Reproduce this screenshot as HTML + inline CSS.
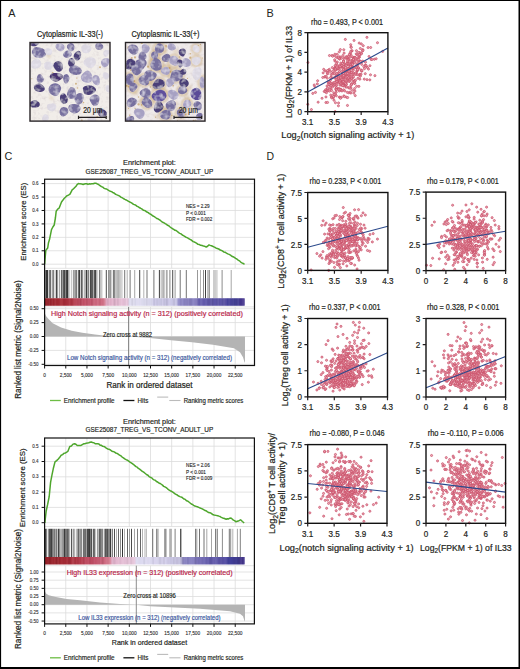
<!DOCTYPE html><html><head><meta charset="utf-8"><style>html,body{margin:0;padding:0;background:#fff;}svg{display:block;}text{font-family:"Liberation Sans", sans-serif;}</style></head><body>
<svg width="520" height="669" viewBox="0 0 520 669" fill="#231f20">
<defs><filter id="bl" x="-20%" y="-20%" width="140%" height="140%"><feGaussianBlur stdDeviation="1.1"/></filter><filter id="bl2" x="-20%" y="-20%" width="140%" height="140%"><feGaussianBlur stdDeviation="0.6"/></filter><filter id="ntex" x="-10%" y="-10%" width="120%" height="120%"><feTurbulence type="fractalNoise" baseFrequency="0.22" numOctaves="2" seed="4" result="n"/><feColorMatrix in="n" type="matrix" values="0 0 0 0 0.9  0 0 0 0 0.88  0 0 0 0 0.95  0 0 0 -1.4 0.78" result="w"/><feComposite in="w" in2="SourceGraphic" operator="in" result="wm"/><feMerge result="m"><feMergeNode in="SourceGraphic"/><feMergeNode in="wm"/></feMerge><feGaussianBlur stdDeviation="0.65"/></filter><filter id="bgtex" x="0" y="0" width="100%" height="100%"><feTurbulence type="fractalNoise" baseFrequency="0.3" numOctaves="2" seed="8" result="n"/><feColorMatrix in="n" type="matrix" values="0 0 0 0 0.66  0 0 0 0 0.6  0 0 0 0 0.62  0 0 0 -1.4 0.72"/><feGaussianBlur stdDeviation="0.6"/></filter><clipPath id="ci1"><rect x="30" y="42.5" width="80" height="78.5"/></clipPath><clipPath id="ci2"><rect x="125.5" y="42.5" width="79.5" height="78.5"/></clipPath></defs>
<rect x="0" y="0" width="520" height="669" fill="#fff"/>
<text x="8.3" y="17" font-size="11.8" textLength="7.24" lengthAdjust="spacingAndGlyphs" stroke="#231f20" stroke-width="0.22" stroke-opacity="0">A</text>
<text x="266.6" y="17.3" font-size="11.8" textLength="7.24" lengthAdjust="spacingAndGlyphs" stroke="#231f20" stroke-width="0.22" stroke-opacity="0">B</text>
<text x="4.5" y="160" font-size="11.8" textLength="7.84" lengthAdjust="spacingAndGlyphs" stroke="#231f20" stroke-width="0.22" stroke-opacity="0">C</text>
<text x="266.6" y="159.6" font-size="11.4" textLength="7.57" lengthAdjust="spacingAndGlyphs" stroke="#231f20" stroke-width="0.22" stroke-opacity="0">D</text>
<text x="37" y="36.5" font-size="8.3" textLength="66" lengthAdjust="spacingAndGlyphs" stroke="#231f20" stroke-width="0.21">Cytoplasmic IL-33(-)</text>
<text x="131.5" y="36.5" font-size="8.3" textLength="68" lengthAdjust="spacingAndGlyphs" stroke="#231f20" stroke-width="0.21">Cytoplasmic IL-33(+)</text>
<g clip-path="url(#ci1)">
<rect x="30" y="42.5" width="81" height="80" fill="#f1ede9"/>
<rect x="30" y="42.5" width="81" height="80" filter="url(#bgtex)"/>
<path d="M51.04 56.81Q50.62 57.96 49.36 58.23Q48.11 58.49 47.26 57.35Q46.41 56.21 46.21 55.16Q46.01 54.11 46.06 52.74Q46.11 51.37 47.46 51.29Q48.81 51.22 49.44 52.46Q50.08 53.7 50.78 54.68Q51.47 55.66 51.04 56.81Z" fill="#c4a068" opacity="0.24" filter="url(#bl)"/>
<path d="M96 124.65Q95.57 125.63 94.37 125.78Q93.17 125.94 92.47 124.65Q91.77 123.37 91.86 122.07Q91.96 120.77 92.86 120.24Q93.76 119.71 94.75 119.77Q95.74 119.83 96.99 120.61Q98.25 121.39 97.34 122.53Q96.42 123.68 96 124.65Z" fill="#c4a068" opacity="0.24" filter="url(#bl)"/>
<path d="M53.89 98.32Q54.47 99.24 53.56 99.74Q52.65 100.23 51.62 100.08Q50.6 99.93 49.97 99.2Q49.35 98.47 49.19 97.6Q49.04 96.73 49.66 96Q50.29 95.26 51.25 95.85Q52.21 96.43 52.76 96.92Q53.31 97.41 53.89 98.32Z" fill="#c4a068" opacity="0.24" filter="url(#bl)"/>
<g filter="url(#bl)">
</g>
<g fill="#b8883c" opacity="0.55" filter="url(#bl2)"><circle cx="84.43" cy="76.07" r="0.69"/><circle cx="76.84" cy="78.07" r="0.68"/><circle cx="93.55" cy="97.37" r="0.65"/><circle cx="75.95" cy="83.73" r="1.03"/><circle cx="88.36" cy="65.1" r="1.09"/><circle cx="39.45" cy="75.32" r="0.95"/><circle cx="42.16" cy="80.88" r="0.52"/><circle cx="83.46" cy="102.52" r="0.84"/><circle cx="100.04" cy="67.13" r="0.92"/><circle cx="77.55" cy="88.02" r="0.77"/><circle cx="97.2" cy="116.66" r="0.78"/><circle cx="83.13" cy="47.26" r="0.92"/><circle cx="81.77" cy="120.46" r="0.99"/><circle cx="52.77" cy="72.78" r="0.9"/><circle cx="31.81" cy="78.74" r="0.6"/></g>
<g filter="url(#ntex)">
<path d="M37.85 41.74Q38.59 42.62 38.59 43.81Q38.59 44.99 36.55 45.78Q34.51 46.56 32.92 46.25Q31.33 45.94 29.68 45.51Q28.04 45.09 28.79 43.84Q29.54 42.59 31.36 41.71Q33.17 40.84 35.14 40.85Q37.11 40.87 37.85 41.74Z" fill="#4b4078"/>
<path d="M45.8 51.67Q46.89 54.37 44.61 56.14Q42.32 57.91 39.75 58.07Q37.19 58.23 35.04 56.94Q32.89 55.65 32.15 53.29Q31.41 50.93 32.92 48.9Q34.44 46.86 37.02 47.1Q39.61 47.33 42.15 48.15Q44.7 48.97 45.8 51.67Z" fill="#776f9f"/>
<path d="M63.82 45.05Q64.85 46.42 64.44 48.16Q64.04 49.9 62.35 50.85Q60.67 51.8 59.1 50.98Q57.53 50.16 56.51 48.96Q55.49 47.76 55.51 45.9Q55.53 44.04 57.51 43.78Q59.48 43.52 61.14 43.6Q62.79 43.69 63.82 45.05Z" fill="#a7a1c3"/>
<path d="M74.43 46.29Q74.56 47.76 74.14 49.35Q73.72 50.93 71.86 51.29Q70 51.64 68.86 50.37Q67.72 49.1 67.11 47.75Q66.49 46.39 67.34 45.08Q68.18 43.77 69.85 43.24Q71.51 42.72 72.9 43.77Q74.29 44.82 74.43 46.29Z" fill="#776f9f"/>
<path d="M90.21 46.09Q91.92 47.07 91.47 49.04Q91.02 51.01 89.26 52.28Q87.5 53.54 85.35 53.34Q83.19 53.14 82.27 51.56Q81.35 49.97 81.16 48.06Q80.96 46.14 82.88 44.93Q84.8 43.72 86.65 44.41Q88.49 45.11 90.21 46.09Z" fill="#dcd8e2"/>
<path d="M102.32 44.49Q103.35 45.4 103.3 46.91Q103.25 48.42 101.65 49.16Q100.05 49.91 98.39 49.8Q96.73 49.69 95.99 48.48Q95.25 47.26 95.23 45.77Q95.21 44.27 96.73 43.18Q98.25 42.09 99.78 42.84Q101.3 43.58 102.32 44.49Z" fill="#776f9f"/>
<path d="M71.73 53.78Q72.03 55.24 70.94 56.23Q69.85 57.21 68.22 57.61Q66.59 58 64.71 57.14Q62.82 56.28 63.14 54.57Q63.45 52.86 64.52 51.9Q65.59 50.94 67.19 50.51Q68.79 50.08 70.12 51.19Q71.44 52.31 71.73 53.78Z" fill="#776f9f"/>
<path d="M81.16 54.17Q80.98 56.12 80.45 57.86Q79.91 59.61 78.36 60.28Q76.81 60.94 75.41 59.95Q74.01 58.95 73.69 56.91Q73.37 54.87 74.57 53.48Q75.78 52.09 77.17 51.18Q78.57 50.27 79.96 51.25Q81.35 52.23 81.16 54.17Z" fill="#4b4078"/>
<path d="M41.04 62.06Q41.82 64.1 40.76 65.88Q39.69 67.65 37.9 68.17Q36.1 68.69 33.81 68.63Q31.52 68.57 31.01 66.28Q30.5 63.98 31.52 62.16Q32.54 60.35 34.38 59.29Q36.22 58.22 38.23 59.12Q40.25 60.03 41.04 62.06Z" fill="#dcd8e2"/>
<path d="M52.35 63.87Q53.71 65.15 52.84 66.85Q51.96 68.55 50.39 69.27Q48.82 70 46.98 69.75Q45.13 69.49 44.45 67.73Q43.78 65.96 44.18 64.12Q44.58 62.28 46.34 61.7Q48.1 61.12 49.55 61.86Q50.99 62.6 52.35 63.87Z" fill="#dcd8e2"/>
<path d="M62.7 64.96Q63.04 66.79 62.63 68.85Q62.22 70.9 60.06 71.52Q57.9 72.14 56.45 70.67Q54.99 69.2 53.85 67.5Q52.71 65.79 53.72 63.8Q54.73 61.82 56.87 61.27Q59 60.72 60.69 61.93Q62.37 63.13 62.7 64.96Z" fill="#4b4078"/>
<path d="M74.85 61.98Q75 63.45 74.24 64.86Q73.47 66.26 71.87 66.68Q70.28 67.09 69.1 65.93Q67.93 64.77 68.06 63.18Q68.2 61.58 68.85 60.05Q69.5 58.52 71.18 58.09Q72.86 57.67 73.78 59.09Q74.7 60.51 74.85 61.98Z" fill="#4b4078"/>
<path d="M80.86 68.79Q82.5 70.4 81.45 72.51Q80.39 74.61 77.81 74.85Q75.24 75.09 73.02 74.44Q70.8 73.79 69.46 71.88Q68.12 69.98 69.38 67.99Q70.64 66 73.09 65.52Q75.53 65.05 77.38 66.12Q79.22 67.18 80.86 68.79Z" fill="#776f9f"/>
<path d="M95.45 59.52Q96.66 61.67 95.66 63.79Q94.65 65.91 92.72 67.34Q90.78 68.77 88.63 67.77Q86.47 66.78 84.61 65.09Q82.74 63.41 83.74 61.03Q84.75 58.65 87.04 57.88Q89.33 57.11 91.78 57.24Q94.23 57.37 95.45 59.52Z" fill="#dcd8e2"/>
<path d="M109.9 61.29Q109.44 63.54 108.35 64.9Q107.27 66.27 105.64 67.06Q104.02 67.85 102.75 66.53Q101.48 65.2 101.04 63.24Q100.59 61.27 101.99 59.89Q103.39 58.51 104.99 58.14Q106.6 57.76 108.49 58.4Q110.37 59.04 109.9 61.29Z" fill="#a7a1c3"/>
<path d="M62.75 75.35Q63.81 77.38 61.93 78.79Q60.05 80.2 58.02 81.16Q55.98 82.13 53.76 81.2Q51.55 80.28 50.25 78.57Q48.95 76.87 50.09 75.05Q51.23 73.23 53.76 73.11Q56.29 72.99 58.99 73.16Q61.68 73.33 62.75 75.35Z" fill="#47336f"/>
<path d="M69.35 77.52Q69.6 79.2 68.88 80.76Q68.16 82.33 66.74 83.17Q65.31 84 64.43 82.57Q63.54 81.13 63.22 79.64Q62.9 78.14 63.38 76.29Q63.85 74.44 65.38 74.14Q66.91 73.84 68.01 74.85Q69.11 75.85 69.35 77.52Z" fill="#776f9f"/>
<path d="M43.49 78.15Q44.3 79.64 43.23 81.23Q42.15 82.82 40.56 82.95Q38.98 83.09 37.95 82.03Q36.91 80.97 36.79 79.43Q36.67 77.89 37.27 76.2Q37.86 74.5 39.44 74.34Q41.03 74.19 41.85 75.42Q42.67 76.65 43.49 78.15Z" fill="#776f9f"/>
<path d="M92.11 75.6Q92.59 77.69 92.07 80.08Q91.55 82.48 88.94 82.73Q86.32 82.98 84.01 82.06Q81.69 81.14 81.01 78.79Q80.33 76.44 81.81 74.67Q83.29 72.91 85.49 71.25Q87.69 69.6 89.66 71.55Q91.63 73.5 92.11 75.6Z" fill="#a7a1c3"/>
<path d="M99.49 78.29Q100.04 80.16 99.91 82.56Q99.79 84.96 97.99 85.25Q96.19 85.55 94.94 84.54Q93.68 83.54 92.7 81.88Q91.71 80.23 92.31 78.08Q92.92 75.94 94.51 75.31Q96.11 74.67 97.53 75.54Q98.94 76.41 99.49 78.29Z" fill="#a7a1c3"/>
<path d="M109.06 74.36Q110.04 75.44 109.34 76.78Q108.63 78.12 107.47 79.03Q106.31 79.94 105.06 79.15Q103.8 78.36 103.16 77.03Q102.52 75.71 102.87 74.14Q103.23 72.58 104.63 72.3Q106.03 72.02 107.06 72.65Q108.09 73.29 109.06 74.36Z" fill="#dcd8e2"/>
<path d="M44.34 87.21Q45.74 88.99 44.12 90.57Q42.5 92.16 40.53 91.99Q38.56 91.83 36.65 91.34Q34.74 90.85 34.05 88.87Q33.36 86.89 34.72 85.33Q36.08 83.76 38.07 83.38Q40.06 83 41.5 84.22Q42.94 85.43 44.34 87.21Z" fill="#4b4078"/>
<path d="M60.09 85.51Q61.64 87.51 60.85 89.8Q60.06 92.08 58.34 94.43Q56.62 96.79 53.87 95.74Q51.12 94.69 49.67 92.92Q48.22 91.16 48.5 88.87Q48.77 86.58 50.81 84.74Q52.84 82.91 55.69 83.21Q58.54 83.51 60.09 85.51Z" fill="#776f9f"/>
<path d="M75.58 90.51Q76.15 92.82 75.93 95.1Q75.7 97.38 73.9 98.25Q72.1 99.11 70.06 98.77Q68.02 98.44 67.25 96.1Q66.49 93.76 67.44 91.96Q68.4 90.16 69.64 88.33Q70.88 86.5 72.94 87.35Q75 88.2 75.58 90.51Z" fill="#776f9f"/>
<path d="M95.27 87.88Q96.62 89.32 95.67 91.05Q94.72 92.77 92.28 94.07Q89.84 95.36 86.93 94.85Q84.03 94.35 83.7 92.61Q83.38 90.88 82.92 88.94Q82.46 87.01 85.53 85.89Q88.59 84.78 91.26 85.61Q93.93 86.44 95.27 87.88Z" fill="#4b4078"/>
<path d="M67.31 97.09Q68.31 98.59 67.85 100.68Q67.39 102.78 65.66 103.48Q63.93 104.18 62.38 103.28Q60.83 102.39 60.31 100.55Q59.8 98.72 60.03 96.6Q60.26 94.48 62.01 93.38Q63.75 92.28 65.03 93.94Q66.31 95.6 67.31 97.09Z" fill="#4b4078"/>
<path d="M83.75 97.22Q83.49 99.52 82.64 101.38Q81.79 103.24 79.84 104.29Q77.88 105.34 76.56 103.55Q75.24 101.77 74.59 99.68Q73.94 97.59 75.27 95.77Q76.61 93.95 78.53 93.29Q80.45 92.62 82.23 93.77Q84.01 94.92 83.75 97.22Z" fill="#776f9f"/>
<path d="M99.48 98.95Q99.13 101.13 98.53 103.19Q97.93 105.25 95.63 105.82Q93.33 106.39 92.08 104.53Q90.84 102.67 89.96 100.86Q89.07 99.04 90.27 97.21Q91.46 95.39 93.68 94.68Q95.91 93.97 97.87 95.37Q99.83 96.77 99.48 98.95Z" fill="#776f9f"/>
<path d="M39.43 102.81Q40.66 104.21 39.6 105.74Q38.53 107.28 36.52 107.43Q34.52 107.59 32.42 107.39Q30.33 107.19 29.27 105.53Q28.21 103.86 29.67 102.51Q31.14 101.16 32.94 100.41Q34.74 99.66 36.47 100.53Q38.19 101.4 39.43 102.81Z" fill="#4b4078"/>
<path d="M79.78 106.07Q81.13 107.73 80.31 109.7Q79.49 111.67 77.42 112.73Q75.35 113.79 73.17 113.23Q70.98 112.67 69.59 111.12Q68.19 109.57 68.35 107.23Q68.51 104.88 71.22 104.37Q73.93 103.86 76.18 104.14Q78.44 104.42 79.78 106.07Z" fill="#776f9f"/>
<path d="M68.34 110.65Q68.55 112.82 67.17 114.21Q65.8 115.6 64.22 116.27Q62.64 116.94 61.23 115.86Q59.81 114.79 59.55 112.73Q59.29 110.68 60.38 108.85Q61.47 107.02 63.21 106.98Q64.95 106.94 66.55 107.71Q68.14 108.48 68.34 110.65Z" fill="#776f9f"/>
<path d="M106.7 112.5Q107.43 114.24 106.26 115.8Q105.1 117.36 103.24 117.74Q101.39 118.11 100.16 116.84Q98.93 115.57 97.98 113.92Q97.03 112.27 98.17 110.57Q99.31 108.87 101.18 109.08Q103.06 109.3 104.52 110.03Q105.98 110.77 106.7 112.5Z" fill="#4b4078"/>
<path d="M55.3 104.36Q56.88 105.57 56.23 107.46Q55.58 109.34 54.2 110.46Q52.83 111.58 51.11 111.3Q49.38 111.02 48.14 109.74Q46.89 108.46 46.88 106.5Q46.86 104.53 48.69 104.07Q50.53 103.61 52.12 103.38Q53.72 103.15 55.3 104.36Z" fill="#dcd8e2"/>
<path d="M109.21 52.02Q109.03 53.7 108.41 54.86Q107.79 56.02 106.67 56.67Q105.55 57.32 104.58 56.45Q103.61 55.58 103.33 54.19Q103.05 52.8 103.7 51.52Q104.35 50.24 105.51 50.07Q106.66 49.89 108.02 50.12Q109.38 50.34 109.21 52.02Z" fill="#dcd8e2"/>
<path d="M96.19 119.28Q96.41 120.85 95.02 121.57Q93.63 122.3 92.04 122.71Q90.45 123.12 88.83 122.11Q87.21 121.11 87.42 119.69Q87.64 118.28 88.46 117.31Q89.29 116.33 90.86 116.35Q92.43 116.37 94.2 117.04Q95.97 117.7 96.19 119.28Z" fill="#dcd8e2"/>
<path d="M48.45 116.22Q49 117.46 48.7 118.75Q48.41 120.05 47.11 120.72Q45.8 121.4 44.13 121.32Q42.46 121.25 42.14 119.78Q41.81 118.31 42.29 117.16Q42.77 116.02 43.85 114.96Q44.92 113.91 46.41 114.45Q47.9 114.99 48.45 116.22Z" fill="#dcd8e2"/>
<path d="M110.8 86.98Q111.88 87.86 111.53 89.31Q111.19 90.76 110.29 91.67Q109.38 92.59 108.09 92.32Q106.8 92.04 106.17 90.69Q105.53 89.34 105.42 87.78Q105.31 86.22 106.42 85.43Q107.52 84.63 108.62 85.36Q109.72 86.09 110.8 86.98Z" fill="#dcd8e2"/>
<path d="M52.2 51.3Q52.48 52.83 51.52 54.12Q50.56 55.41 49.04 55.3Q47.51 55.19 46.37 54.38Q45.23 53.57 44.68 52.06Q44.13 50.55 45.21 49.24Q46.29 47.93 47.83 48.2Q49.36 48.47 50.63 49.12Q51.91 49.76 52.2 51.3Z" fill="#dcd8e2"/>
</g>
</g>
<rect x="30" y="42.5" width="80" height="78.6" fill="none" stroke="#2a2628" stroke-width="1.4"/>
<g clip-path="url(#ci2)">
<rect x="125.5" y="42.5" width="81" height="80" fill="#efeaea"/>
<rect x="125.5" y="42.5" width="81" height="80" filter="url(#bgtex)"/>
<path d="M148.7 63.76Q147.34 63.04 147.66 61.54Q147.97 60.04 149.16 59.15Q150.36 58.27 152.06 57.31Q153.76 56.35 154.67 57.71Q155.59 59.07 155.02 60.37Q154.44 61.66 154.08 63.45Q153.71 65.24 151.88 64.86Q150.05 64.47 148.7 63.76Z" fill="#c4a068" opacity="0.24" filter="url(#bl)"/>
<path d="M167.41 71.32Q166.22 71.56 165.36 70.51Q164.51 69.46 165.37 68.1Q166.23 66.75 167.38 65.98Q168.53 65.2 169.38 65.91Q170.23 66.61 171.47 67.22Q172.71 67.84 172.18 69.5Q171.66 71.15 170.13 71.11Q168.61 71.08 167.41 71.32Z" fill="#c4a068" opacity="0.24" filter="url(#bl)"/>
<path d="M154.03 86.44Q153.38 88.36 151.69 87.33Q150.01 86.31 149.34 84.85Q148.67 83.38 148.24 81.66Q147.82 79.94 149.04 78.87Q150.27 77.8 151.72 78.38Q153.18 78.97 154.03 80.26Q154.87 81.55 154.78 83.04Q154.68 84.52 154.03 86.44Z" fill="#c4a068" opacity="0.24" filter="url(#bl)"/>
<path d="M163.91 95.56Q163.19 94.35 162.39 92.59Q161.59 90.83 163.76 90.05Q165.92 89.28 167.53 89.74Q169.14 90.21 170.05 91.19Q170.97 92.17 171.07 93.65Q171.17 95.12 169.71 96.35Q168.24 97.57 166.44 97.17Q164.63 96.77 163.91 95.56Z" fill="#c4a068" opacity="0.24" filter="url(#bl)"/>
<path d="M131.46 81.33Q130.2 81.71 129.42 80.65Q128.63 79.59 129.23 78.39Q129.83 77.19 130.12 75.75Q130.42 74.31 131.82 74.02Q133.23 73.74 133.97 74.95Q134.71 76.16 134.47 77.51Q134.23 78.86 133.47 79.91Q132.71 80.95 131.46 81.33Z" fill="#c4a068" opacity="0.24" filter="url(#bl)"/>
<path d="M167.72 113.92Q166.62 115.09 165.25 114.67Q163.89 114.26 161.96 114.55Q160.03 114.84 159.61 112.78Q159.18 110.72 160.48 109.85Q161.79 108.98 162.94 108.01Q164.09 107.05 165.67 108.09Q167.26 109.12 168.05 110.94Q168.83 112.76 167.72 113.92Z" fill="#c4a068" opacity="0.24" filter="url(#bl)"/>
<path d="M179.42 52.22Q180.07 53.42 178.93 54.13Q177.8 54.83 176.64 54.17Q175.48 53.51 174.07 53.13Q172.66 52.75 172.43 51.34Q172.21 49.92 173.41 49.14Q174.61 48.36 176.02 48.73Q177.44 49.11 178.1 50.07Q178.77 51.02 179.42 52.22Z" fill="#c4a068" opacity="0.24" filter="url(#bl)"/>
<path d="M188.04 101.06Q187.03 101.83 186.19 100.87Q185.34 99.92 185.03 98.9Q184.71 97.88 184.74 96.51Q184.76 95.15 185.9 94.79Q187.04 94.44 188.15 94.84Q189.25 95.24 189.13 96.57Q189 97.89 189.02 99.09Q189.04 100.3 188.04 101.06Z" fill="#c4a068" opacity="0.24" filter="url(#bl)"/>
<path d="M146.23 102.65Q145.84 104.12 144.32 103.94Q142.79 103.76 141.68 103.37Q140.56 102.98 139.9 101.89Q139.23 100.8 139.31 99.48Q139.39 98.16 140.66 97.69Q141.93 97.23 142.95 98.25Q143.98 99.28 145.3 100.23Q146.62 101.17 146.23 102.65Z" fill="#c4a068" opacity="0.24" filter="url(#bl)"/>
<path d="M138.09 92.07Q138.56 93.27 137.99 94.39Q137.42 95.51 136.07 95.33Q134.73 95.14 133.47 95.25Q132.22 95.36 131.68 94.32Q131.15 93.27 132.09 92.56Q133.03 91.85 133.88 91.07Q134.73 90.29 136.17 90.58Q137.61 90.87 138.09 92.07Z" fill="#c4a068" opacity="0.24" filter="url(#bl)"/>
<path d="M148.07 48.23Q147.23 47.57 146.63 46.94Q146.02 46.32 145.91 45Q145.79 43.69 147.04 43.22Q148.29 42.74 149.49 42.6Q150.68 42.46 150.83 43.67Q150.99 44.88 151.04 46.08Q151.1 47.28 150 48.09Q148.91 48.9 148.07 48.23Z" fill="#c4a068" opacity="0.24" filter="url(#bl)"/>
<path d="M167.62 52.39Q166.7 52.86 166.24 53.5Q165.79 54.15 164.69 53.96Q163.59 53.76 163.34 52.67Q163.08 51.58 163.36 50.78Q163.64 49.98 164.44 49.78Q165.24 49.59 166.11 49.87Q166.99 50.15 167.76 51.03Q168.54 51.92 167.62 52.39Z" fill="#c4a068" opacity="0.24" filter="url(#bl)"/>
<path d="M140.52 79.8Q139.78 80.14 138.87 80.25Q137.97 80.36 137.45 79.35Q136.94 78.34 137.34 77.46Q137.74 76.57 138.25 75.68Q138.76 74.8 139.73 75.12Q140.7 75.44 140.94 76.49Q141.18 77.53 141.22 78.5Q141.27 79.46 140.52 79.8Z" fill="#c4a068" opacity="0.24" filter="url(#bl)"/>
<path d="M189.64 90.23Q188.46 90.51 188.53 89.15Q188.61 87.8 188.55 87.06Q188.5 86.33 188.94 85.22Q189.38 84.12 190.3 84.48Q191.22 84.84 191.84 85.45Q192.46 86.06 192.13 87Q191.81 87.94 191.31 88.94Q190.82 89.95 189.64 90.23Z" fill="#c4a068" opacity="0.24" filter="url(#bl)"/>
<path d="M175.26 107.07Q174.1 106.91 173.93 105.77Q173.76 104.63 174.04 103.6Q174.32 102.57 175.2 101.43Q176.09 100.29 177.11 100.93Q178.13 101.57 178.44 102.52Q178.74 103.46 178.81 104.74Q178.88 106.01 177.65 106.62Q176.42 107.24 175.26 107.07Z" fill="#c4a068" opacity="0.24" filter="url(#bl)"/>
<path d="M159 117.22Q159.52 118.39 158.2 118.31Q156.88 118.24 156.01 118.19Q155.14 118.14 154.64 117.39Q154.13 116.63 153.74 115.57Q153.35 114.51 154.39 114.13Q155.43 113.76 156.19 114.51Q156.96 115.26 157.72 115.65Q158.48 116.05 159 117.22Z" fill="#c4a068" opacity="0.24" filter="url(#bl)"/>
<path d="M130.09 108.85Q129.57 109.52 128.53 110.05Q127.49 110.58 127.03 109.26Q126.56 107.95 126.7 107.07Q126.84 106.2 127.12 105.22Q127.39 104.24 128.39 104.38Q129.39 104.52 130.14 105.34Q130.88 106.17 130.74 107.17Q130.6 108.18 130.09 108.85Z" fill="#c4a068" opacity="0.24" filter="url(#bl)"/>
<path d="M173.5 82.92Q172.95 83.75 172.08 83.17Q171.22 82.6 170.49 82.22Q169.77 81.84 169.21 80.69Q168.65 79.54 169.64 79.14Q170.62 78.74 171.52 78.42Q172.41 78.11 172.78 79.19Q173.14 80.27 173.6 81.18Q174.06 82.1 173.5 82.92Z" fill="#c4a068" opacity="0.24" filter="url(#bl)"/>
<path d="M136.85 64.07Q136.27 63.74 136.12 63.1Q135.97 62.47 136.07 61.46Q136.16 60.45 137.14 60.7Q138.12 60.95 138.6 61.21Q139.08 61.48 139.81 62.01Q140.54 62.55 139.68 63.16Q138.83 63.77 138.13 64.08Q137.43 64.39 136.85 64.07Z" fill="#c4a068" opacity="0.24" filter="url(#bl)"/>
<g filter="url(#bl)">
<ellipse cx="159.35" cy="48.65" rx="6.16" ry="5.79" fill="none" stroke="#bf9a58" stroke-width="1.6" opacity="0.6"/>
<ellipse cx="196.27" cy="48.65" rx="4.3" ry="4.67" fill="none" stroke="#bf9a58" stroke-width="1.6" opacity="0.6"/>
<ellipse cx="154.73" cy="55.58" rx="4.67" ry="4.67" fill="none" stroke="#bf9a58" stroke-width="1.6" opacity="0.6"/>
<ellipse cx="156.27" cy="64.81" rx="7.08" ry="6.9" fill="none" stroke="#bf9a58" stroke-width="1.6" opacity="0.6"/>
<ellipse cx="173.96" cy="60.96" rx="6.16" ry="6.16" fill="none" stroke="#bf9a58" stroke-width="1.6" opacity="0.6"/>
<ellipse cx="196.27" cy="60.96" rx="5.23" ry="5.23" fill="none" stroke="#bf9a58" stroke-width="1.6" opacity="0.6"/>
<ellipse cx="165.5" cy="70.96" rx="5.23" ry="5.23" fill="none" stroke="#bf9a58" stroke-width="1.6" opacity="0.6"/>
<ellipse cx="176.27" cy="75.58" rx="7.64" ry="6.9" fill="none" stroke="#bf9a58" stroke-width="1.6" opacity="0.6"/>
<ellipse cx="129.35" cy="79.42" rx="6.16" ry="6.53" fill="none" stroke="#bf9a58" stroke-width="1.6" opacity="0.6"/>
<ellipse cx="143.96" cy="80.19" rx="6.16" ry="6.16" fill="none" stroke="#bf9a58" stroke-width="1.6" opacity="0.6"/>
<ellipse cx="158.58" cy="84.04" rx="7.08" ry="6.16" fill="none" stroke="#bf9a58" stroke-width="1.6" opacity="0.6"/>
<ellipse cx="133.19" cy="87.12" rx="5.23" ry="5.23" fill="none" stroke="#bf9a58" stroke-width="1.6" opacity="0.6"/>
<ellipse cx="159.35" cy="95.58" rx="8.01" ry="7.64" fill="none" stroke="#bf9a58" stroke-width="1.6" opacity="0.6"/>
<ellipse cx="182.42" cy="90.19" rx="5.23" ry="5.23" fill="none" stroke="#bf9a58" stroke-width="1.6" opacity="0.6"/>
<ellipse cx="147.04" cy="102.5" rx="6.16" ry="6.16" fill="none" stroke="#bf9a58" stroke-width="1.6" opacity="0.6"/>
<ellipse cx="187.04" cy="104.04" rx="5.23" ry="5.23" fill="none" stroke="#bf9a58" stroke-width="1.6" opacity="0.6"/>
<ellipse cx="165.5" cy="114.81" rx="6.16" ry="6.16" fill="none" stroke="#bf9a58" stroke-width="1.6" opacity="0.6"/>
<ellipse cx="180.88" cy="113.27" rx="5.23" ry="5.23" fill="none" stroke="#bf9a58" stroke-width="1.6" opacity="0.6"/>
<ellipse cx="202.42" cy="82.5" rx="3.93" ry="6.16" fill="none" stroke="#bf9a58" stroke-width="1.6" opacity="0.6"/>
</g>
<g fill="#b8883c" opacity="0.55" filter="url(#bl2)"><circle cx="190.04" cy="102.68" r="0.52"/><circle cx="128.27" cy="47.41" r="1.05"/><circle cx="145.93" cy="101.16" r="1.04"/><circle cx="152.46" cy="63.88" r="1.07"/><circle cx="174.55" cy="63.08" r="0.93"/><circle cx="150.66" cy="64.14" r="0.5"/><circle cx="185.57" cy="114.44" r="0.88"/><circle cx="200.49" cy="44.4" r="0.64"/><circle cx="163.28" cy="117.61" r="1.07"/><circle cx="156.23" cy="62.21" r="0.76"/><circle cx="164.73" cy="115.36" r="0.61"/><circle cx="189.3" cy="100.47" r="0.99"/><circle cx="186.94" cy="90.17" r="0.7"/><circle cx="150.9" cy="70.91" r="0.97"/><circle cx="131.78" cy="57.99" r="0.95"/><circle cx="145.16" cy="47.58" r="0.52"/><circle cx="169.43" cy="68.07" r="1.09"/><circle cx="195.74" cy="120.04" r="0.66"/><circle cx="132.18" cy="50.07" r="0.8"/><circle cx="181.93" cy="77.59" r="0.64"/><circle cx="158.64" cy="91.19" r="0.9"/><circle cx="184.96" cy="108.99" r="0.9"/><circle cx="135.13" cy="108.51" r="0.68"/><circle cx="170.57" cy="71.78" r="0.94"/><circle cx="141.34" cy="61.92" r="0.65"/><circle cx="137.69" cy="111.91" r="0.85"/><circle cx="151.44" cy="73.59" r="1.1"/><circle cx="165.83" cy="60.66" r="0.99"/><circle cx="177.44" cy="120.29" r="0.56"/><circle cx="163.24" cy="106.8" r="1"/><circle cx="198.19" cy="45.67" r="0.68"/><circle cx="134.98" cy="57.38" r="1.08"/><circle cx="171.86" cy="115.52" r="0.72"/><circle cx="194.36" cy="77.76" r="0.66"/><circle cx="187.33" cy="116.74" r="0.56"/><circle cx="172.89" cy="91.17" r="0.63"/><circle cx="154.81" cy="53.6" r="0.62"/><circle cx="145.77" cy="89.55" r="0.89"/><circle cx="141.67" cy="43.39" r="0.7"/><circle cx="179.43" cy="57.03" r="0.69"/><circle cx="141.67" cy="104.93" r="0.83"/><circle cx="130.53" cy="50.46" r="0.74"/><circle cx="169.24" cy="92.68" r="0.55"/><circle cx="138.51" cy="97.09" r="0.75"/><circle cx="148.02" cy="66.65" r="1.07"/><circle cx="150.33" cy="86.97" r="0.71"/><circle cx="158.61" cy="110.34" r="1.1"/><circle cx="154.42" cy="57.98" r="0.94"/><circle cx="141.69" cy="42.96" r="1.04"/><circle cx="159.19" cy="106.9" r="0.74"/><circle cx="195.69" cy="78.68" r="0.6"/><circle cx="126.68" cy="85.8" r="0.88"/><circle cx="197.83" cy="49.49" r="0.87"/><circle cx="154.98" cy="82.1" r="0.59"/><circle cx="148.02" cy="83.41" r="1.06"/><circle cx="134.15" cy="81.01" r="0.98"/><circle cx="202.37" cy="57.99" r="0.58"/><circle cx="200.47" cy="119.08" r="0.79"/><circle cx="129.74" cy="115.2" r="0.73"/><circle cx="197.39" cy="91.2" r="0.99"/><circle cx="138.24" cy="104.19" r="0.63"/><circle cx="157.66" cy="108.94" r="1"/><circle cx="140.05" cy="59.62" r="0.74"/><circle cx="166.67" cy="72.61" r="0.57"/><circle cx="145.14" cy="99.4" r="1.04"/><circle cx="128.77" cy="86.64" r="0.95"/><circle cx="128.53" cy="108.3" r="0.57"/><circle cx="173.16" cy="85.68" r="0.88"/><circle cx="149.84" cy="75.48" r="0.85"/><circle cx="159.35" cy="94.22" r="0.77"/><circle cx="160.35" cy="44.33" r="0.87"/><circle cx="164.42" cy="60.97" r="0.96"/><circle cx="187.51" cy="78.48" r="0.61"/><circle cx="163.12" cy="50.91" r="0.58"/><circle cx="159.73" cy="49.7" r="0.77"/><circle cx="166.06" cy="45.7" r="0.88"/><circle cx="132.04" cy="100.08" r="0.97"/><circle cx="166.16" cy="46.76" r="0.8"/><circle cx="155.54" cy="117.14" r="0.58"/><circle cx="193.64" cy="120.7" r="0.94"/><circle cx="190.29" cy="57.71" r="1.09"/><circle cx="164.6" cy="117.6" r="1.05"/><circle cx="138.63" cy="104.39" r="1.06"/><circle cx="130.71" cy="70.05" r="0.95"/><circle cx="138.12" cy="112.88" r="0.66"/><circle cx="190.34" cy="53.77" r="0.8"/><circle cx="198.63" cy="58.85" r="0.66"/><circle cx="165.73" cy="67.55" r="0.52"/><circle cx="139.98" cy="55.16" r="1.06"/><circle cx="179.53" cy="112.79" r="0.6"/></g>
<g filter="url(#ntex)">
<path d="M138.31 48.28Q138.82 50.39 137.75 52.39Q136.69 54.38 134.46 54.71Q132.22 55.04 130.74 53.62Q129.26 52.2 128.08 50.27Q126.9 48.34 128.36 46.48Q129.81 44.63 131.94 44.47Q134.07 44.32 135.94 45.24Q137.8 46.17 138.31 48.28Z" fill="#776f9f"/>
<path d="M149.29 46.82Q150.12 48.36 149.45 49.95Q148.77 51.53 147.3 52.75Q145.84 53.97 144.12 53.07Q142.4 52.18 142.19 50.53Q141.98 48.88 141.76 47.03Q141.55 45.18 143.38 44.58Q145.2 43.97 146.84 44.63Q148.47 45.28 149.29 46.82Z" fill="#a7a1c3"/>
<path d="M163.63 46.14Q164.52 47.88 164.07 49.75Q163.63 51.61 161.84 52.46Q160.04 53.32 157.95 53.17Q155.87 53.03 155.21 51.2Q154.56 49.37 154.99 47.66Q155.42 45.95 156.94 44.35Q158.47 42.75 160.6 43.57Q162.74 44.39 163.63 46.14Z" fill="#776f9f"/>
<path d="M175.77 46.81Q176.51 48.29 175.25 49.37Q173.99 50.45 172.4 50.54Q170.8 50.63 169.43 49.82Q168.06 49.01 167.68 47.54Q167.3 46.06 168.14 44.67Q168.97 43.29 170.77 43.32Q172.56 43.35 173.8 44.34Q175.04 45.33 175.77 46.81Z" fill="#a7a1c3"/>
<path d="M185.75 50.29Q186.5 51.77 185.82 53.08Q185.15 54.4 184.18 55.65Q183.21 56.89 181.71 56.29Q180.2 55.69 179.43 54.43Q178.66 53.18 178.77 51.61Q178.88 50.04 180.28 49.19Q181.68 48.35 183.34 48.57Q185 48.8 185.75 50.29Z" fill="#4b4078"/>
<path d="M198.94 46.96Q199.62 48.18 199.65 49.83Q199.68 51.48 198.27 52.15Q196.86 52.83 195.6 52.17Q194.33 51.52 193.26 50.38Q192.18 49.24 192.65 47.64Q193.12 46.05 194.41 45.32Q195.69 44.58 196.97 45.16Q198.25 45.74 198.94 46.96Z" fill="#dcd8e2"/>
<path d="M135.46 62Q136.72 64.16 134.91 65.76Q133.11 67.35 131.56 68.5Q130.01 69.64 127.61 69.36Q125.21 69.08 125.13 66.51Q125.05 63.94 125.81 62.03Q126.58 60.12 128.4 59.21Q130.22 58.3 132.22 59.07Q134.21 59.84 135.46 62Z" fill="#4b4078"/>
<path d="M146.24 55.16Q146.79 56.72 146.01 58.19Q145.22 59.66 143.6 60.59Q141.98 61.52 140.27 60.56Q138.57 59.6 138.5 57.8Q138.42 56.01 138.96 54.44Q139.49 52.87 141.19 51.86Q142.89 50.85 144.29 52.22Q145.68 53.6 146.24 55.16Z" fill="#776f9f"/>
<path d="M158 53.95Q158.22 55.5 157.76 56.77Q157.3 58.04 156.06 59.06Q154.82 60.08 153.46 59.21Q152.09 58.33 151.54 56.99Q151 55.65 151.25 54.06Q151.49 52.47 153.06 51.82Q154.64 51.18 156.21 51.79Q157.78 52.4 158 53.95Z" fill="#776f9f"/>
<path d="M146.25 60.98Q147.33 63.13 146.12 64.96Q144.91 66.79 143.37 68.75Q141.83 70.7 139.1 70.11Q136.37 69.52 135.79 67.18Q135.21 64.84 135.36 62.6Q135.52 60.37 137.84 59.64Q140.16 58.92 142.67 58.87Q145.18 58.83 146.25 60.98Z" fill="#776f9f"/>
<path d="M160.86 61.83Q161.64 63.95 161.93 66.47Q162.22 68.99 159.74 69.98Q157.25 70.98 154.86 70.44Q152.46 69.9 151.18 67.87Q149.89 65.83 150.62 63.59Q151.35 61.35 153.21 59.3Q155.06 57.26 157.57 58.48Q160.08 59.71 160.86 61.83Z" fill="#776f9f"/>
<path d="M170.64 57.39Q170.75 59.21 169.58 60.52Q168.42 61.84 166.71 62.02Q164.99 62.21 163.41 61.25Q161.82 60.3 161.7 58.4Q161.57 56.5 163.07 55.63Q164.57 54.76 166.11 54Q167.64 53.24 169.09 54.4Q170.53 55.57 170.64 57.39Z" fill="#776f9f"/>
<path d="M179.26 60.47Q180.25 62.54 178.65 64.34Q177.06 66.14 174.98 65.64Q172.91 65.14 171.23 64.37Q169.54 63.6 169.09 61.61Q168.64 59.62 169.81 57.8Q170.98 55.97 173.17 55.7Q175.35 55.43 176.81 56.91Q178.26 58.39 179.26 60.47Z" fill="#a7a1c3"/>
<path d="M183.11 62.36Q183.58 63.76 182.93 65.32Q182.29 66.87 180.89 67.28Q179.48 67.69 178.77 66.43Q178.06 65.16 177.19 63.94Q176.32 62.73 177.08 61.11Q177.84 59.5 179.25 59.44Q180.67 59.39 181.66 60.17Q182.64 60.95 183.11 62.36Z" fill="#4b4078"/>
<path d="M190.01 60.17Q191.45 61.58 191.08 63.78Q190.7 65.98 188.9 66.55Q187.09 67.13 185.37 66.94Q183.65 66.75 182.65 65.04Q181.66 63.32 182.1 61.45Q182.54 59.57 183.97 58.62Q185.41 57.66 186.99 58.21Q188.58 58.76 190.01 60.17Z" fill="#a7a1c3"/>
<path d="M200.25 58.37Q201.24 60.07 200.35 61.63Q199.46 63.18 198.28 64.39Q197.1 65.61 195.37 65.17Q193.64 64.74 192.62 63.27Q191.61 61.8 191.82 59.9Q192.03 58.01 193.81 57.59Q195.59 57.17 197.42 56.92Q199.25 56.68 200.25 58.37Z" fill="#dcd8e2"/>
<path d="M141.38 68.77Q142.42 70.63 141.16 72.36Q139.9 74.09 137.88 74.96Q135.87 75.82 134.22 74.5Q132.57 73.19 131.85 71.51Q131.13 69.83 131.42 67.56Q131.72 65.3 134.15 65.58Q136.58 65.86 138.46 66.38Q140.34 66.9 141.38 68.77Z" fill="#776f9f"/>
<path d="M155.27 72.84Q157.51 74.1 156.41 76.41Q155.32 78.72 153.28 79.97Q151.25 81.23 148.9 80.84Q146.55 80.44 145.25 78.63Q143.95 76.81 144.14 74.45Q144.33 72.09 146.63 70.86Q148.92 69.63 150.98 70.61Q153.04 71.59 155.27 72.84Z" fill="#776f9f"/>
<path d="M169.76 70.14Q170.15 71.9 169.24 73.56Q168.33 75.22 166.54 74.95Q164.75 74.67 163.24 74.07Q161.74 73.46 161 71.68Q160.26 69.9 161.8 68.8Q163.34 67.7 164.89 67Q166.44 66.3 167.91 67.34Q169.37 68.39 169.76 70.14Z" fill="#a7a1c3"/>
<path d="M182.85 74.17Q183.03 76.75 181.54 78.55Q180.04 80.35 177.59 81.24Q175.13 82.12 172.45 80.88Q169.77 79.63 170.32 77.13Q170.87 74.64 171.57 72.58Q172.28 70.53 174.8 70.01Q177.33 69.49 180 70.54Q182.66 71.59 182.85 74.17Z" fill="#776f9f"/>
<path d="M186.06 70.54Q186.55 71.73 186.07 72.93Q185.59 74.13 184.39 74.45Q183.19 74.76 181.87 74.57Q180.55 74.37 179.95 73.05Q179.35 71.73 180.31 70.77Q181.27 69.81 182.23 69.16Q183.19 68.52 184.39 68.93Q185.58 69.35 186.06 70.54Z" fill="#4b4078"/>
<path d="M201.57 71.51Q201.19 74.14 200.46 76.65Q199.74 79.17 197.59 80.02Q195.45 80.88 194.11 78.98Q192.77 77.09 192.39 74.65Q192 72.22 193.29 70.06Q194.58 67.9 196.56 67.01Q198.53 66.12 200.24 67.5Q201.94 68.88 201.57 71.51Z" fill="#dcd8e2"/>
<path d="M133.4 76.56Q133.61 78.91 133.7 81.03Q133.79 83.16 131.93 84.29Q130.07 85.43 127.98 84.78Q125.89 84.13 125.09 82.08Q124.3 80.03 124.93 78.14Q125.57 76.26 127.08 74.63Q128.58 73 130.88 73.6Q133.18 74.21 133.4 76.56Z" fill="#776f9f"/>
<path d="M148.56 79.23Q149.58 80.97 148.85 83.32Q148.11 85.67 145.69 85.43Q143.27 85.18 141.4 84.37Q139.52 83.55 138.8 81.47Q138.07 79.38 139.41 77.67Q140.75 75.95 142.75 75.2Q144.76 74.44 146.15 75.96Q147.54 77.49 148.56 79.23Z" fill="#776f9f"/>
<path d="M164.09 81.08Q165.81 82.75 164.8 84.93Q163.78 87.11 161.59 87.9Q159.41 88.69 156.75 89.1Q154.1 89.51 153.01 87.37Q151.93 85.22 153.13 83.38Q154.34 81.54 155.95 79.96Q157.57 78.38 159.97 78.9Q162.36 79.41 164.09 81.08Z" fill="#4b4078"/>
<path d="M188.65 82.23Q189.21 84.03 188.14 85.58Q187.07 87.13 185.14 87.79Q183.21 88.45 181.68 87.17Q180.16 85.89 179.56 84.22Q178.97 82.54 179.57 80.54Q180.16 78.55 182.41 78.49Q184.66 78.44 186.38 79.43Q188.09 80.42 188.65 82.23Z" fill="#4b4078"/>
<path d="M174.31 81.16Q174.57 82.98 173.49 84.17Q172.42 85.36 170.98 86.57Q169.54 87.78 167.9 86.7Q166.25 85.61 166.04 83.82Q165.82 82.04 166.47 80.41Q167.12 78.78 168.85 78.44Q170.59 78.1 172.32 78.72Q174.05 79.33 174.31 81.16Z" fill="#a7a1c3"/>
<path d="M137.23 85.35Q138.05 86.98 136.95 88.31Q135.84 89.63 134.59 91.08Q133.34 92.52 131.51 91.67Q129.68 90.82 129.44 89.02Q129.19 87.22 129.5 85.56Q129.81 83.91 131.43 83.01Q133.06 82.12 134.74 82.91Q136.42 83.71 137.23 85.35Z" fill="#776f9f"/>
<path d="M150.41 91.34Q151.09 93.41 150.32 95.47Q149.54 97.53 147.46 97.92Q145.37 98.32 143.61 97.53Q141.85 96.73 140.32 94.91Q138.8 93.09 140.26 91.2Q141.73 89.3 143.68 88.63Q145.64 87.97 147.68 88.61Q149.73 89.26 150.41 91.34Z" fill="#776f9f"/>
<path d="M165.94 93.15Q167.19 95.68 165.78 98.08Q164.37 100.48 161.82 101.23Q159.26 101.98 156.5 101.38Q153.73 100.78 152.23 98.12Q150.72 95.46 152.93 93.47Q155.14 91.48 157.29 90.18Q159.43 88.89 162.07 89.75Q164.7 90.62 165.94 93.15Z" fill="#5e509c"/>
<path d="M177.81 92.81Q179.2 94.45 178.27 96.46Q177.33 98.47 175.43 99.48Q173.54 100.5 171.84 99.37Q170.14 98.25 168.87 96.7Q167.6 95.14 167.78 92.66Q167.96 90.17 170.42 89.93Q172.88 89.69 174.65 90.44Q176.41 91.18 177.81 92.81Z" fill="#a7a1c3"/>
<path d="M187.01 89.4Q187.86 91.19 186.36 92.46Q184.87 93.73 183.25 94.1Q181.64 94.47 179.85 93.84Q178.06 93.21 177.98 91.29Q177.9 89.37 178.96 88.03Q180.01 86.69 181.65 86.09Q183.29 85.48 184.72 86.54Q186.16 87.61 187.01 89.4Z" fill="#776f9f"/>
<path d="M201.22 92.29Q201.4 94.47 201.21 96.97Q201.01 99.48 198.38 99.88Q195.75 100.28 193.58 99.15Q191.41 98.03 190.74 95.77Q190.07 93.52 191.02 91.32Q191.98 89.11 194.41 88.16Q196.84 87.22 198.94 88.67Q201.05 90.12 201.22 92.29Z" fill="#5a4c98"/>
<path d="M136.58 99.84Q138.04 101.55 136.7 103.3Q135.37 105.06 133.85 106.03Q132.32 107 130.09 107.14Q127.85 107.28 127.1 105.28Q126.36 103.29 126.95 101.48Q127.55 99.67 129.21 98.49Q130.88 97.32 133.01 97.72Q135.13 98.13 136.58 99.84Z" fill="#776f9f"/>
<path d="M151.15 100.51Q152.26 102.07 152.29 104.52Q152.32 106.97 149.92 107.62Q147.52 108.26 145.78 107.15Q144.04 106.04 142.55 104.52Q141.06 102.99 141.87 100.9Q142.67 98.8 144.62 97.84Q146.57 96.89 148.31 97.92Q150.04 98.95 151.15 100.51Z" fill="#776f9f"/>
<path d="M163.37 106.53Q163.61 108.51 162.24 109.84Q160.87 111.17 158.88 112.17Q156.89 113.17 155.1 111.63Q153.3 110.1 153.87 108.03Q154.45 105.97 155.05 103.95Q155.65 101.93 157.96 101.49Q160.26 101.04 161.69 102.79Q163.13 104.55 163.37 106.53Z" fill="#4b4078"/>
<path d="M176.01 104.55Q175.85 106.76 174.88 108.63Q173.91 110.5 171.68 111.03Q169.46 111.55 167.85 109.99Q166.24 108.43 165.72 106.32Q165.2 104.22 166.8 102.87Q168.4 101.53 170.37 100.52Q172.33 99.52 174.25 100.92Q176.17 102.33 176.01 104.55Z" fill="#776f9f"/>
<path d="M191.33 103.28Q191.5 105.08 190.29 106.21Q189.08 107.33 187.55 107.87Q186.02 108.4 184.28 107.62Q182.54 106.83 182.94 105Q183.34 103.17 184.01 101.7Q184.67 100.23 186.4 99.82Q188.12 99.41 189.64 100.44Q191.16 101.48 191.33 103.28Z" fill="#a7a1c3"/>
<path d="M201.77 104.88Q202.07 106.52 201.45 108.42Q200.83 110.31 198.81 110.22Q196.8 110.13 195.63 108.92Q194.46 107.71 193.73 106.11Q193.01 104.51 194.04 102.9Q195.08 101.29 196.93 101.24Q198.78 101.2 200.13 102.22Q201.48 103.24 201.77 104.88Z" fill="#776f9f"/>
<path d="M144.38 111.67Q145.09 113.74 144.13 115.76Q143.17 117.77 141 118.65Q138.83 119.52 137.36 117.86Q135.89 116.21 134.66 114.5Q133.42 112.78 134.27 110.54Q135.12 108.29 137.42 108.46Q139.73 108.64 141.7 109.12Q143.67 109.6 144.38 111.67Z" fill="#a7a1c3"/>
<path d="M170.67 113Q171.14 115.23 170.19 117.2Q169.25 119.17 167.19 119.49Q165.12 119.82 163.21 119.12Q161.3 118.42 160.24 116.38Q159.18 114.33 160.8 112.78Q162.43 111.23 164.17 110.31Q165.91 109.39 168.06 110.08Q170.2 110.76 170.67 113Z" fill="#776f9f"/>
<path d="M184.32 111.3Q185.11 112.74 184.76 114.38Q184.41 116.01 183 117.49Q181.6 118.97 179.87 117.88Q178.15 116.79 177.42 115.29Q176.7 113.79 176.78 111.96Q176.86 110.14 178.59 109.43Q180.32 108.72 181.93 109.29Q183.54 109.86 184.32 111.3Z" fill="#776f9f"/>
<path d="M134.16 118.08Q134.18 119.63 133.82 121.02Q133.47 122.4 131.69 122.88Q129.91 123.37 128.4 122.55Q126.9 121.73 126.26 120.46Q125.62 119.19 126.65 118.22Q127.68 117.26 129 116.42Q130.32 115.57 132.23 116.05Q134.15 116.52 134.16 118.08Z" fill="#776f9f"/>
<path d="M202.49 115.07Q202.49 116.55 202.19 117.89Q201.88 119.23 200.48 119.8Q199.08 120.36 197.76 119.63Q196.44 118.9 196.02 117.5Q195.6 116.1 196.37 114.97Q197.14 113.83 198.37 113.14Q199.6 112.44 201.04 113.02Q202.49 113.59 202.49 115.07Z" fill="#776f9f"/>
<path d="M204.91 80.63Q205.32 82.43 205.18 84.53Q205.04 86.63 203.81 87.63Q202.58 88.63 201.26 87.76Q199.93 86.9 199.8 84.73Q199.67 82.57 199.76 80.5Q199.84 78.44 201.05 77.08Q202.25 75.73 203.37 77.28Q204.5 78.84 204.91 80.63Z" fill="#a7a1c3"/>
</g>
</g>
<rect x="125.5" y="42.5" width="79.5" height="78.6" fill="none" stroke="#2a2628" stroke-width="1.4"/>
<text x="83.2" y="113.1" font-size="8.6" textLength="19.2" lengthAdjust="spacingAndGlyphs" stroke="#231f20" stroke-width="0.21">20 μm</text>
<path d="M78.5 117.4H106.2 M78.5 115.8V119 M106.2 115.8V119" stroke="#231f20" stroke-width="1.2" fill="none"/>
<text x="178.7" y="113.1" font-size="8.6" textLength="19.2" lengthAdjust="spacingAndGlyphs" stroke="#231f20" stroke-width="0.21">20 μm</text>
<path d="M174 117.4H201.7 M174 115.8V119 M201.7 115.8V119" stroke="#231f20" stroke-width="1.2" fill="none"/>
<g fill="#e9a8b5" stroke="#c84a64" stroke-width="0.7"><circle cx="331.22" cy="76.93" r="1.05"/><circle cx="356.43" cy="72.63" r="1.05"/><circle cx="330.03" cy="82.98" r="1.05"/><circle cx="350.56" cy="56.71" r="1.05"/><circle cx="331.31" cy="97.01" r="1.05"/><circle cx="353.15" cy="62.69" r="1.05"/><circle cx="362.55" cy="50.96" r="1.05"/><circle cx="343.97" cy="77.18" r="1.05"/><circle cx="374.33" cy="59.25" r="1.05"/><circle cx="336.21" cy="92.22" r="1.05"/><circle cx="346.21" cy="70.79" r="1.05"/><circle cx="341.21" cy="76.27" r="1.05"/><circle cx="348.23" cy="62.99" r="1.05"/><circle cx="357.59" cy="63.23" r="1.05"/><circle cx="324.79" cy="76.86" r="1.05"/><circle cx="329" cy="84.87" r="1.05"/><circle cx="328.38" cy="83.15" r="1.05"/><circle cx="336.28" cy="75.88" r="1.05"/><circle cx="382.62" cy="51.42" r="1.05"/><circle cx="354.7" cy="83.43" r="1.05"/><circle cx="341.85" cy="67.15" r="1.05"/><circle cx="344.07" cy="69.35" r="1.05"/><circle cx="346.3" cy="84.61" r="1.05"/><circle cx="351.53" cy="79.15" r="1.05"/><circle cx="366.39" cy="66.6" r="1.05"/><circle cx="352.92" cy="68.51" r="1.05"/><circle cx="355.95" cy="73.99" r="1.05"/><circle cx="356.48" cy="67.91" r="1.05"/><circle cx="359.48" cy="57.11" r="1.05"/><circle cx="346.73" cy="81.63" r="1.05"/><circle cx="353.85" cy="62.34" r="1.05"/><circle cx="363.78" cy="66.61" r="1.05"/><circle cx="351.43" cy="63.31" r="1.05"/><circle cx="348.34" cy="68.76" r="1.05"/><circle cx="347.2" cy="79.17" r="1.05"/><circle cx="333.6" cy="84.84" r="1.05"/><circle cx="351.84" cy="50.97" r="1.05"/><circle cx="356.23" cy="53.88" r="1.05"/><circle cx="353.96" cy="59.5" r="1.05"/><circle cx="347.21" cy="62.65" r="1.05"/><circle cx="365.28" cy="65.12" r="1.05"/><circle cx="337.24" cy="54.27" r="1.05"/><circle cx="347.91" cy="59.83" r="1.05"/><circle cx="355.06" cy="80.96" r="1.05"/><circle cx="344.11" cy="53.08" r="1.05"/><circle cx="340.59" cy="67.01" r="1.05"/><circle cx="349.55" cy="68.22" r="1.05"/><circle cx="337.77" cy="82.04" r="1.05"/><circle cx="336.32" cy="85.35" r="1.05"/><circle cx="317.63" cy="80.75" r="1.05"/><circle cx="330.35" cy="80.39" r="1.05"/><circle cx="349.95" cy="76.01" r="1.05"/><circle cx="359.2" cy="43.08" r="1.05"/><circle cx="348.68" cy="79.38" r="1.05"/><circle cx="352.01" cy="50.72" r="1.05"/><circle cx="352.12" cy="71.93" r="1.05"/><circle cx="367.48" cy="67.54" r="1.05"/><circle cx="335.67" cy="86.46" r="1.05"/><circle cx="347.66" cy="69.62" r="1.05"/><circle cx="353.28" cy="70.39" r="1.05"/><circle cx="342.66" cy="83.57" r="1.05"/><circle cx="351.97" cy="83.64" r="1.05"/><circle cx="343.22" cy="67.11" r="1.05"/><circle cx="344.33" cy="78.13" r="1.05"/><circle cx="347.1" cy="56.73" r="1.05"/><circle cx="354.54" cy="80.89" r="1.05"/><circle cx="340.34" cy="49.61" r="1.05"/><circle cx="345.72" cy="70.72" r="1.05"/><circle cx="343.64" cy="61.08" r="1.05"/><circle cx="351.7" cy="66.49" r="1.05"/><circle cx="335.07" cy="67.65" r="1.05"/><circle cx="352.42" cy="60.43" r="1.05"/><circle cx="369.81" cy="79.87" r="1.05"/><circle cx="335.51" cy="94.33" r="1.05"/><circle cx="339.74" cy="79.75" r="1.05"/><circle cx="347.23" cy="71.43" r="1.05"/><circle cx="360.05" cy="74.31" r="1.05"/><circle cx="347.42" cy="72.4" r="1.05"/><circle cx="336.58" cy="88.72" r="1.05"/><circle cx="343.91" cy="84.4" r="1.05"/><circle cx="349.62" cy="70.53" r="1.05"/><circle cx="327.33" cy="89.42" r="1.05"/><circle cx="360.16" cy="75.78" r="1.05"/><circle cx="339.34" cy="97.14" r="1.05"/><circle cx="354.23" cy="73.47" r="1.05"/><circle cx="335.45" cy="102.75" r="1.05"/><circle cx="353.27" cy="77.4" r="1.05"/><circle cx="350.84" cy="93.06" r="1.05"/><circle cx="330.85" cy="89.15" r="1.05"/><circle cx="334.03" cy="69.07" r="1.05"/><circle cx="341.53" cy="78.45" r="1.05"/><circle cx="343.59" cy="85.94" r="1.05"/><circle cx="343.72" cy="89.85" r="1.05"/><circle cx="324.93" cy="76.83" r="1.05"/><circle cx="361.49" cy="53.35" r="1.05"/><circle cx="360.27" cy="61.12" r="1.05"/><circle cx="336.97" cy="77.01" r="1.05"/><circle cx="340.88" cy="89.12" r="1.05"/><circle cx="325.9" cy="102.52" r="1.05"/><circle cx="345.06" cy="71.41" r="1.05"/><circle cx="339.73" cy="59.18" r="1.05"/><circle cx="347.16" cy="64.95" r="1.05"/><circle cx="358.97" cy="74.82" r="1.05"/><circle cx="322.75" cy="77.46" r="1.05"/><circle cx="337.3" cy="62.05" r="1.05"/><circle cx="348.96" cy="58.77" r="1.05"/><circle cx="353.8" cy="93.09" r="1.05"/><circle cx="353.3" cy="76.43" r="1.05"/><circle cx="336.54" cy="83.55" r="1.05"/><circle cx="353.85" cy="57.33" r="1.05"/><circle cx="356.62" cy="86.34" r="1.05"/><circle cx="338.42" cy="105.82" r="1.05"/><circle cx="343.97" cy="66.65" r="1.05"/><circle cx="336.45" cy="75.41" r="1.05"/><circle cx="347.76" cy="59.48" r="1.05"/><circle cx="335.79" cy="88.74" r="1.05"/><circle cx="336.45" cy="57.24" r="1.05"/><circle cx="357.52" cy="67.29" r="1.05"/><circle cx="347.69" cy="70.28" r="1.05"/><circle cx="347.43" cy="74.33" r="1.05"/><circle cx="341.33" cy="90.59" r="1.05"/><circle cx="337.83" cy="57.65" r="1.05"/><circle cx="351.22" cy="68.77" r="1.05"/><circle cx="342.69" cy="73.89" r="1.05"/><circle cx="349.14" cy="78.58" r="1.05"/><circle cx="347.36" cy="68.96" r="1.05"/><circle cx="336.62" cy="87.77" r="1.05"/><circle cx="333.78" cy="92.77" r="1.05"/><circle cx="355.24" cy="95.6" r="1.05"/><circle cx="342.1" cy="82.36" r="1.05"/><circle cx="338.08" cy="76.21" r="1.05"/><circle cx="357.94" cy="64.63" r="1.05"/><circle cx="343.53" cy="81.52" r="1.05"/><circle cx="343.66" cy="63.07" r="1.05"/><circle cx="340.65" cy="89.67" r="1.05"/><circle cx="330.76" cy="95.09" r="1.05"/><circle cx="329.33" cy="69.36" r="1.05"/><circle cx="349.16" cy="73.64" r="1.05"/><circle cx="361.71" cy="71.23" r="1.05"/><circle cx="353.68" cy="58.43" r="1.05"/><circle cx="327.56" cy="102.43" r="1.05"/><circle cx="334.59" cy="68.54" r="1.05"/><circle cx="359.85" cy="79.2" r="1.05"/><circle cx="357.04" cy="70.7" r="1.05"/><circle cx="340.66" cy="82.49" r="1.05"/><circle cx="341.45" cy="97.3" r="1.05"/><circle cx="333.75" cy="94.86" r="1.05"/><circle cx="350.7" cy="44.69" r="1.05"/><circle cx="376.16" cy="58.74" r="1.05"/><circle cx="325.57" cy="89.75" r="1.05"/><circle cx="334.45" cy="55.65" r="1.05"/><circle cx="351.61" cy="78.1" r="1.05"/><circle cx="355.76" cy="60.39" r="1.05"/><circle cx="326.66" cy="90.6" r="1.05"/><circle cx="342.41" cy="74.58" r="1.05"/><circle cx="346.63" cy="76.38" r="1.05"/><circle cx="347.28" cy="78.97" r="1.05"/><circle cx="334.94" cy="60.99" r="1.05"/><circle cx="349.22" cy="65.46" r="1.05"/><circle cx="327.01" cy="86" r="1.05"/><circle cx="354.43" cy="83.2" r="1.05"/><circle cx="357.6" cy="70.44" r="1.05"/><circle cx="349.7" cy="72.06" r="1.05"/><circle cx="347.61" cy="57.2" r="1.05"/><circle cx="340.54" cy="57.07" r="1.05"/><circle cx="336.24" cy="89.71" r="1.05"/><circle cx="353.21" cy="81.22" r="1.05"/><circle cx="340.92" cy="64.76" r="1.05"/><circle cx="358.88" cy="86.38" r="1.05"/><circle cx="350.88" cy="47.06" r="1.05"/><circle cx="358.7" cy="67.99" r="1.05"/><circle cx="338.3" cy="80.83" r="1.05"/><circle cx="332.03" cy="84.19" r="1.05"/><circle cx="343" cy="76.21" r="1.05"/><circle cx="358.56" cy="67.95" r="1.05"/><circle cx="328.56" cy="70.4" r="1.05"/><circle cx="332.94" cy="85.84" r="1.05"/><circle cx="343.61" cy="78.24" r="1.05"/><circle cx="333.73" cy="82.98" r="1.05"/><circle cx="369.94" cy="65.71" r="1.05"/><circle cx="343.58" cy="60.57" r="1.05"/><circle cx="353.59" cy="58.94" r="1.05"/><circle cx="354.92" cy="91.06" r="1.05"/><circle cx="335.31" cy="77.49" r="1.05"/><circle cx="350.79" cy="54.21" r="1.05"/><circle cx="350.46" cy="72.88" r="1.05"/><circle cx="345.57" cy="75.47" r="1.05"/><circle cx="347.93" cy="63.39" r="1.05"/><circle cx="341.27" cy="85.29" r="1.05"/><circle cx="335.42" cy="65.76" r="1.05"/><circle cx="359.68" cy="52.55" r="1.05"/><circle cx="354.86" cy="57.34" r="1.05"/><circle cx="345.1" cy="65.2" r="1.05"/><circle cx="333.17" cy="82.76" r="1.05"/><circle cx="336.79" cy="69.4" r="1.05"/><circle cx="338.54" cy="78.42" r="1.05"/><circle cx="349.68" cy="54.15" r="1.05"/><circle cx="336.13" cy="89.87" r="1.05"/><circle cx="354.41" cy="80.98" r="1.05"/><circle cx="350.27" cy="76.99" r="1.05"/><circle cx="343.93" cy="95.85" r="1.05"/><circle cx="353.23" cy="74.38" r="1.05"/><circle cx="334.92" cy="54.24" r="1.05"/><circle cx="350.73" cy="63.2" r="1.05"/><circle cx="343.84" cy="83.2" r="1.05"/><circle cx="362.73" cy="49.66" r="1.05"/><circle cx="327.44" cy="73.67" r="1.05"/><circle cx="353.23" cy="59.65" r="1.05"/><circle cx="344.28" cy="75.79" r="1.05"/><circle cx="350.35" cy="52.68" r="1.05"/><circle cx="370.48" cy="74.81" r="1.05"/><circle cx="355.22" cy="57.68" r="1.05"/><circle cx="345.81" cy="87.01" r="1.05"/><circle cx="342.23" cy="82.08" r="1.05"/><circle cx="349.99" cy="67.84" r="1.05"/><circle cx="359.12" cy="61.29" r="1.05"/><circle cx="330.45" cy="83.39" r="1.05"/><circle cx="349.52" cy="64.44" r="1.05"/><circle cx="351.34" cy="47.36" r="1.05"/><circle cx="371.07" cy="59.4" r="1.05"/><circle cx="348.48" cy="68.76" r="1.05"/><circle cx="357.2" cy="70.02" r="1.05"/><circle cx="346.06" cy="83.31" r="1.05"/><circle cx="331.75" cy="78.18" r="1.05"/><circle cx="331.19" cy="74.55" r="1.05"/><circle cx="362.72" cy="61.14" r="1.05"/><circle cx="349.14" cy="77.12" r="1.05"/><circle cx="327.27" cy="78.2" r="1.05"/><circle cx="338.93" cy="72.43" r="1.05"/><circle cx="352.05" cy="56.62" r="1.05"/><circle cx="369.04" cy="56.46" r="1.05"/><circle cx="350.79" cy="87.65" r="1.05"/><circle cx="355.39" cy="80.1" r="1.05"/><circle cx="332.44" cy="71.55" r="1.05"/><circle cx="312.78" cy="93.4" r="1.05"/><circle cx="348.09" cy="80.19" r="1.05"/><circle cx="361.05" cy="74.22" r="1.05"/><circle cx="348.78" cy="92.8" r="1.05"/><circle cx="325.06" cy="70.81" r="1.05"/><circle cx="357.87" cy="78.31" r="1.05"/><circle cx="347.22" cy="92.33" r="1.05"/><circle cx="330.03" cy="71.42" r="1.05"/><circle cx="354.51" cy="62.86" r="1.05"/><circle cx="343.5" cy="73.82" r="1.05"/><circle cx="335.14" cy="65.6" r="1.05"/><circle cx="339.25" cy="82.85" r="1.05"/><circle cx="360.95" cy="69.83" r="1.05"/><circle cx="336.38" cy="63.33" r="1.05"/><circle cx="332.42" cy="87.06" r="1.05"/><circle cx="307.88" cy="62.54" r="1.05"/><circle cx="334.06" cy="94.39" r="1.05"/><circle cx="347.47" cy="105.43" r="1.05"/><circle cx="360.67" cy="61.54" r="1.05"/><circle cx="344.51" cy="82.81" r="1.05"/><circle cx="342.15" cy="72.71" r="1.05"/><circle cx="348.83" cy="59.96" r="1.05"/><circle cx="352.16" cy="63.68" r="1.05"/><circle cx="357.04" cy="74.6" r="1.05"/><circle cx="315.47" cy="92.42" r="1.05"/><circle cx="311.4" cy="109.58" r="1.05"/><circle cx="331.74" cy="97.9" r="1.05"/><circle cx="358.73" cy="57.58" r="1.05"/><circle cx="345.33" cy="76.72" r="1.05"/><circle cx="351.2" cy="72.59" r="1.05"/><circle cx="338.32" cy="75.95" r="1.05"/><circle cx="329.52" cy="82.03" r="1.05"/><circle cx="370.68" cy="47.5" r="1.05"/><circle cx="332.92" cy="73.42" r="1.05"/><circle cx="336.27" cy="85.1" r="1.05"/><circle cx="341.43" cy="58.25" r="1.05"/><circle cx="336.51" cy="81.98" r="1.05"/><circle cx="343.14" cy="84.25" r="1.05"/><circle cx="353.61" cy="67.33" r="1.05"/><circle cx="351.52" cy="67.51" r="1.05"/><circle cx="345.46" cy="84.97" r="1.05"/><circle cx="360.22" cy="76.2" r="1.05"/><circle cx="377.49" cy="42.7" r="1.05"/><circle cx="349.3" cy="72.31" r="1.05"/><circle cx="355.11" cy="74.38" r="1.05"/><circle cx="314.87" cy="86.68" r="1.05"/><circle cx="345.67" cy="58.2" r="1.05"/><circle cx="361.93" cy="70.58" r="1.05"/><circle cx="314.2" cy="85.02" r="1.05"/><circle cx="351.42" cy="84.41" r="1.05"/><circle cx="357.04" cy="54.92" r="1.05"/><circle cx="337.75" cy="75.35" r="1.05"/><circle cx="358.31" cy="60.58" r="1.05"/><circle cx="353.85" cy="58.81" r="1.05"/><circle cx="338.95" cy="88.43" r="1.05"/><circle cx="343.98" cy="57.99" r="1.05"/><circle cx="327.88" cy="73.34" r="1.05"/><circle cx="307.7" cy="104.36" r="1.05"/><circle cx="344.3" cy="82.53" r="1.05"/><circle cx="363.25" cy="45.68" r="1.05"/><circle cx="348.53" cy="87.65" r="1.05"/><circle cx="339.4" cy="69.18" r="1.05"/><circle cx="339.31" cy="90.93" r="1.05"/><circle cx="331.63" cy="90.53" r="1.05"/><circle cx="345.28" cy="80.91" r="1.05"/><circle cx="345.33" cy="39.41" r="1.05"/><circle cx="365.27" cy="73.68" r="1.05"/><circle cx="349.03" cy="69.81" r="1.05"/><circle cx="343.56" cy="61.55" r="1.05"/><circle cx="341.35" cy="79.36" r="1.05"/><circle cx="340.87" cy="76.94" r="1.05"/><circle cx="359.74" cy="55.12" r="1.05"/><circle cx="329.89" cy="87.6" r="1.05"/><circle cx="336.06" cy="68.76" r="1.05"/><circle cx="347.68" cy="60.94" r="1.05"/><circle cx="344.42" cy="96.61" r="1.05"/><circle cx="350.25" cy="67.39" r="1.05"/><circle cx="350.9" cy="85.44" r="1.05"/><circle cx="346.05" cy="80.92" r="1.05"/><circle cx="337.32" cy="73.58" r="1.05"/><circle cx="349.13" cy="81.55" r="1.05"/><circle cx="327.18" cy="89.89" r="1.05"/><circle cx="355.67" cy="72.97" r="1.05"/><circle cx="341.63" cy="71.29" r="1.05"/><circle cx="348.38" cy="74.69" r="1.05"/><circle cx="357.82" cy="57.88" r="1.05"/><circle cx="327.93" cy="81.7" r="1.05"/><circle cx="339.19" cy="56.87" r="1.05"/><circle cx="352.11" cy="65.18" r="1.05"/><circle cx="342.67" cy="78.89" r="1.05"/><circle cx="339.07" cy="58.53" r="1.05"/><circle cx="341.93" cy="84.32" r="1.05"/><circle cx="351.79" cy="60.34" r="1.05"/><circle cx="343.49" cy="85.54" r="1.05"/><circle cx="358.34" cy="52.57" r="1.05"/><circle cx="322.05" cy="98.32" r="1.05"/><circle cx="368.49" cy="69.08" r="1.05"/><circle cx="326.18" cy="76.23" r="1.05"/><circle cx="341.78" cy="65.27" r="1.05"/><circle cx="323.7" cy="69.36" r="1.05"/><circle cx="351.9" cy="74.74" r="1.05"/><circle cx="338.13" cy="68.58" r="1.05"/><circle cx="337.68" cy="68.47" r="1.05"/><circle cx="339.43" cy="71.43" r="1.05"/><circle cx="326.44" cy="92.73" r="1.05"/><circle cx="324.21" cy="91.44" r="1.05"/><circle cx="338.59" cy="79.97" r="1.05"/><circle cx="346.44" cy="97.22" r="1.05"/><circle cx="344.65" cy="70.96" r="1.05"/><circle cx="330.95" cy="83.12" r="1.05"/><circle cx="318.15" cy="102.19" r="1.05"/><circle cx="333.19" cy="98.01" r="1.05"/><circle cx="358.28" cy="59.41" r="1.05"/><circle cx="346.25" cy="77.42" r="1.05"/><circle cx="361.31" cy="53.87" r="1.05"/><circle cx="348.98" cy="73.9" r="1.05"/><circle cx="340.91" cy="80.71" r="1.05"/><circle cx="344.69" cy="90.88" r="1.05"/><circle cx="345.36" cy="64.55" r="1.05"/><circle cx="346.46" cy="86.96" r="1.05"/><circle cx="346.18" cy="84.58" r="1.05"/><circle cx="329.48" cy="55.55" r="1.05"/><circle cx="338.92" cy="89.31" r="1.05"/><circle cx="327.47" cy="88.19" r="1.05"/><circle cx="338.57" cy="102.94" r="1.05"/><circle cx="327.14" cy="71.91" r="1.05"/><circle cx="334" cy="100.28" r="1.05"/><circle cx="352.53" cy="90.21" r="1.05"/><circle cx="367" cy="79.67" r="1.05"/><circle cx="336.32" cy="89.77" r="1.05"/><circle cx="340.05" cy="97.23" r="1.05"/><circle cx="334.67" cy="73.47" r="1.05"/><circle cx="356.47" cy="50.68" r="1.05"/><circle cx="356.13" cy="67.28" r="1.05"/><circle cx="348.93" cy="63.84" r="1.05"/><circle cx="336.71" cy="73.65" r="1.05"/><circle cx="349.02" cy="71.66" r="1.05"/><circle cx="343.11" cy="68.83" r="1.05"/><circle cx="333.37" cy="96.9" r="1.05"/><circle cx="346.88" cy="68.24" r="1.05"/><circle cx="330.58" cy="77.77" r="1.05"/><circle cx="347.73" cy="73.41" r="1.05"/><circle cx="350.76" cy="64.97" r="1.05"/><circle cx="346.82" cy="63.53" r="1.05"/><circle cx="342.01" cy="90.91" r="1.05"/><circle cx="346.31" cy="64.88" r="1.05"/><circle cx="343.77" cy="66.72" r="1.05"/><circle cx="345.59" cy="83.32" r="1.05"/><circle cx="325.14" cy="91.74" r="1.05"/><circle cx="336.37" cy="77.2" r="1.05"/><circle cx="364.27" cy="79.13" r="1.05"/><circle cx="337.3" cy="65.15" r="1.05"/><circle cx="357.7" cy="69.38" r="1.05"/><circle cx="345.78" cy="69.01" r="1.05"/><circle cx="364.46" cy="68.68" r="1.05"/><circle cx="334.69" cy="69.65" r="1.05"/><circle cx="336.07" cy="79.55" r="1.05"/><circle cx="361.73" cy="64.37" r="1.05"/><circle cx="345.26" cy="71.33" r="1.05"/><circle cx="334.34" cy="77.63" r="1.05"/><circle cx="350.33" cy="88.32" r="1.05"/><circle cx="339.9" cy="80.66" r="1.05"/><circle cx="350.65" cy="61.04" r="1.05"/><circle cx="343.77" cy="49.73" r="1.05"/><circle cx="329.04" cy="84.52" r="1.05"/><circle cx="354.06" cy="68.27" r="1.05"/><circle cx="338.79" cy="78.45" r="1.05"/><circle cx="345.2" cy="73.77" r="1.05"/><circle cx="354.66" cy="88.51" r="1.05"/><circle cx="347.19" cy="76.45" r="1.05"/><circle cx="342.87" cy="55.54" r="1.05"/><circle cx="355.77" cy="58.94" r="1.05"/><circle cx="317.33" cy="83.88" r="1.05"/><circle cx="325.95" cy="96.94" r="1.05"/><circle cx="338.5" cy="57.06" r="1.05"/><circle cx="323.16" cy="72.89" r="1.05"/><circle cx="363.01" cy="50.33" r="1.05"/><circle cx="348.8" cy="56.42" r="1.05"/><circle cx="338.56" cy="78.24" r="1.05"/><circle cx="349.96" cy="79.36" r="1.05"/><circle cx="343.44" cy="69.74" r="1.05"/><circle cx="340.75" cy="63.09" r="1.05"/><circle cx="342.8" cy="85.69" r="1.05"/><circle cx="343.06" cy="79.68" r="1.05"/><circle cx="335.17" cy="70.85" r="1.05"/><circle cx="366.05" cy="65.4" r="1.05"/><circle cx="344.11" cy="75.36" r="1.05"/><circle cx="332.32" cy="67.6" r="1.05"/><circle cx="346.28" cy="57.02" r="1.05"/><circle cx="343.53" cy="73.68" r="1.05"/><circle cx="365.47" cy="62.2" r="1.05"/><circle cx="349.35" cy="54.61" r="1.05"/><circle cx="342.36" cy="63.51" r="1.05"/><circle cx="335.86" cy="81.22" r="1.05"/><circle cx="339.21" cy="66.46" r="1.05"/><circle cx="340.75" cy="83.83" r="1.05"/><circle cx="350.83" cy="51.21" r="1.05"/><circle cx="332.03" cy="55.5" r="1.05"/><circle cx="328.3" cy="90.65" r="1.05"/><circle cx="334.68" cy="59.75" r="1.05"/><circle cx="350.36" cy="66.43" r="1.05"/><circle cx="359.3" cy="54.6" r="1.05"/><circle cx="343.27" cy="81.62" r="1.05"/><circle cx="327.44" cy="70.51" r="1.05"/><circle cx="341" cy="78.53" r="1.05"/><circle cx="346.1" cy="65.64" r="1.05"/><circle cx="353.38" cy="59.6" r="1.05"/><circle cx="368.08" cy="47.54" r="1.05"/><circle cx="332.93" cy="74.07" r="1.05"/><circle cx="333.46" cy="96.57" r="1.05"/><circle cx="349.97" cy="81.03" r="1.05"/><circle cx="339.39" cy="65.77" r="1.05"/><circle cx="356.57" cy="65.18" r="1.05"/><circle cx="335.16" cy="111.6" r="1.05"/><circle cx="349.24" cy="87.89" r="1.05"/><circle cx="343.42" cy="75.68" r="1.05"/><circle cx="340.06" cy="66.58" r="1.05"/><circle cx="341.98" cy="79.7" r="1.05"/><circle cx="335.38" cy="69" r="1.05"/><circle cx="350.22" cy="92" r="1.05"/><circle cx="340.03" cy="80.79" r="1.05"/><circle cx="347.67" cy="97.56" r="1.05"/><circle cx="335.02" cy="82.57" r="1.05"/><circle cx="338.84" cy="76.95" r="1.05"/><circle cx="340.47" cy="98.32" r="1.05"/><circle cx="354.04" cy="40.44" r="1.05"/><circle cx="339.86" cy="82.06" r="1.05"/><circle cx="352.5" cy="64.28" r="1.05"/><circle cx="329.56" cy="91.08" r="1.05"/><circle cx="332.65" cy="56.26" r="1.05"/><circle cx="336.98" cy="67.76" r="1.05"/><circle cx="366.92" cy="37.36" r="1.05"/><circle cx="361.32" cy="43.89" r="1.05"/><circle cx="331.09" cy="85.72" r="1.05"/><circle cx="336.86" cy="81.61" r="1.05"/><circle cx="374.91" cy="75.66" r="1.05"/><circle cx="351.47" cy="84.3" r="1.05"/><circle cx="360.34" cy="48.45" r="1.05"/><circle cx="339.31" cy="51.71" r="1.05"/><circle cx="345.98" cy="56.97" r="1.05"/><circle cx="348.66" cy="77.83" r="1.05"/><circle cx="340.8" cy="77.19" r="1.05"/><circle cx="352.14" cy="67.49" r="1.05"/><circle cx="371.94" cy="59.53" r="1.05"/><circle cx="339.82" cy="85.02" r="1.05"/><circle cx="336.3" cy="95.8" r="1.05"/></g>
<path d="M307.7 92L387.9 48" stroke="#2b4a8c" stroke-width="1.1" fill="none"/>
<rect x="307.7" y="32.7" width="80.2" height="79" fill="none" stroke="#111" stroke-width="1.4"/>
<text x="301.9" y="114.87" font-size="8.8" text-anchor="end" textLength="4.5" lengthAdjust="spacingAndGlyphs" stroke="#231f20" stroke-width="0.22">0</text>
<text x="301.9" y="95.12" font-size="8.8" text-anchor="end" textLength="4.5" lengthAdjust="spacingAndGlyphs" stroke="#231f20" stroke-width="0.22">2</text>
<text x="301.9" y="75.37" font-size="8.8" text-anchor="end" textLength="4.5" lengthAdjust="spacingAndGlyphs" stroke="#231f20" stroke-width="0.22">4</text>
<text x="301.9" y="55.62" font-size="8.8" text-anchor="end" textLength="4.5" lengthAdjust="spacingAndGlyphs" stroke="#231f20" stroke-width="0.22">6</text>
<text x="301.9" y="35.87" font-size="8.8" text-anchor="end" textLength="4.5" lengthAdjust="spacingAndGlyphs" stroke="#231f20" stroke-width="0.22">8</text>
<text x="307.7" y="124.9" font-size="8.8" text-anchor="middle" textLength="11.25" lengthAdjust="spacingAndGlyphs" stroke="#231f20" stroke-width="0.22">3.1</text>
<text x="334.43" y="124.9" font-size="8.8" text-anchor="middle" textLength="11.25" lengthAdjust="spacingAndGlyphs" stroke="#231f20" stroke-width="0.22">3.5</text>
<text x="361.17" y="124.9" font-size="8.8" text-anchor="middle" textLength="11.25" lengthAdjust="spacingAndGlyphs" stroke="#231f20" stroke-width="0.22">3.9</text>
<text x="387.9" y="124.9" font-size="8.8" text-anchor="middle" textLength="11.25" lengthAdjust="spacingAndGlyphs" stroke="#231f20" stroke-width="0.22">4.3</text>
<path d="M304.4 111.7H307.7M304.4 91.95H307.7M304.4 72.2H307.7M304.4 52.45H307.7M304.4 32.7H307.7M307.7 111.7V115M334.43 111.7V115M361.17 111.7V115M387.9 111.7V115" stroke="#231f20" stroke-width="1.2" fill="none"/>
<text x="311" y="24.8" font-size="8.8" textLength="72" lengthAdjust="spacingAndGlyphs" stroke="#231f20" stroke-width="0.22">rho = 0.493, P &lt; 0.001</text>
<text x="281.3" y="138.3" font-size="9.6" textLength="133" lengthAdjust="spacingAndGlyphs" stroke="#231f20" stroke-width="0.22">Log<tspan font-size="0.74em" dy="0.34em">2</tspan><tspan dy="-0.2516em">(notch signaling activity + 1)</tspan></text>
<text transform="translate(291.9 72) rotate(-90)" text-anchor="middle" font-size="9.3" textLength="92" lengthAdjust="spacingAndGlyphs" stroke="#231f20" stroke-width="0.22">Log<tspan font-size="0.74em" dy="0.34em">2</tspan><tspan dy="-0.2516em">(FPKM + 1) of IL33</tspan></text>
<g fill="#e9a8b5" stroke="#c84a64" stroke-width="0.7"><circle cx="353.72" cy="219.52" r="1.05"/><circle cx="336.8" cy="252.84" r="1.05"/><circle cx="349.27" cy="215.29" r="1.05"/><circle cx="349.83" cy="252.64" r="1.05"/><circle cx="337.04" cy="241.83" r="1.05"/><circle cx="355.74" cy="236" r="1.05"/><circle cx="341.54" cy="242.8" r="1.05"/><circle cx="347.3" cy="247.82" r="1.05"/><circle cx="345.48" cy="235.3" r="1.05"/><circle cx="363.19" cy="234.48" r="1.05"/><circle cx="355.92" cy="249.05" r="1.05"/><circle cx="354.75" cy="234.04" r="1.05"/><circle cx="339.66" cy="240.68" r="1.05"/><circle cx="355.22" cy="240.14" r="1.05"/><circle cx="356.58" cy="215.98" r="1.05"/><circle cx="363.03" cy="212.9" r="1.05"/><circle cx="331.75" cy="238.17" r="1.05"/><circle cx="338.13" cy="228.59" r="1.05"/><circle cx="346.3" cy="235.58" r="1.05"/><circle cx="350.5" cy="244.9" r="1.05"/><circle cx="346.55" cy="247.66" r="1.05"/><circle cx="368.04" cy="238.21" r="1.05"/><circle cx="345.69" cy="261.36" r="1.05"/><circle cx="329.54" cy="253.96" r="1.05"/><circle cx="354.14" cy="226.3" r="1.05"/><circle cx="348.56" cy="246.07" r="1.05"/><circle cx="365.55" cy="246.24" r="1.05"/><circle cx="336.26" cy="235" r="1.05"/><circle cx="334.74" cy="238.26" r="1.05"/><circle cx="356.02" cy="236.59" r="1.05"/><circle cx="349.94" cy="236.91" r="1.05"/><circle cx="331.2" cy="242.28" r="1.05"/><circle cx="345.04" cy="248.58" r="1.05"/><circle cx="334.23" cy="252.9" r="1.05"/><circle cx="340.13" cy="246.42" r="1.05"/><circle cx="350.04" cy="227.2" r="1.05"/><circle cx="354.25" cy="242.03" r="1.05"/><circle cx="337.4" cy="247.87" r="1.05"/><circle cx="348.36" cy="235.4" r="1.05"/><circle cx="352.57" cy="258.11" r="1.05"/><circle cx="333.31" cy="228.47" r="1.05"/><circle cx="334.53" cy="267.35" r="1.05"/><circle cx="356.02" cy="239.65" r="1.05"/><circle cx="373.2" cy="233.63" r="1.05"/><circle cx="325.87" cy="259.33" r="1.05"/><circle cx="334.44" cy="241.52" r="1.05"/><circle cx="345.52" cy="212.28" r="1.05"/><circle cx="347.32" cy="234.38" r="1.05"/><circle cx="351.6" cy="258.72" r="1.05"/><circle cx="324.24" cy="242.48" r="1.05"/><circle cx="353.19" cy="233.7" r="1.05"/><circle cx="342.28" cy="226.76" r="1.05"/><circle cx="347.13" cy="234.3" r="1.05"/><circle cx="332.71" cy="218.79" r="1.05"/><circle cx="363.28" cy="236.39" r="1.05"/><circle cx="336.79" cy="240.27" r="1.05"/><circle cx="358.15" cy="239.67" r="1.05"/><circle cx="344.77" cy="242.46" r="1.05"/><circle cx="350.09" cy="213.47" r="1.05"/><circle cx="351.51" cy="263.49" r="1.05"/><circle cx="335.78" cy="250.11" r="1.05"/><circle cx="326.4" cy="256.99" r="1.05"/><circle cx="340.27" cy="225.43" r="1.05"/><circle cx="342.06" cy="217.93" r="1.05"/><circle cx="361.86" cy="233.24" r="1.05"/><circle cx="347.43" cy="239.41" r="1.05"/><circle cx="331.95" cy="253.44" r="1.05"/><circle cx="353.84" cy="250.76" r="1.05"/><circle cx="344.62" cy="225.99" r="1.05"/><circle cx="368.28" cy="240.04" r="1.05"/><circle cx="348.42" cy="233.95" r="1.05"/><circle cx="347.2" cy="237" r="1.05"/><circle cx="339.39" cy="238.48" r="1.05"/><circle cx="355.95" cy="250.39" r="1.05"/><circle cx="354.73" cy="224.87" r="1.05"/><circle cx="339.34" cy="227.18" r="1.05"/><circle cx="346.39" cy="231.11" r="1.05"/><circle cx="349.46" cy="226.31" r="1.05"/><circle cx="341.66" cy="256.3" r="1.05"/><circle cx="361.77" cy="228.63" r="1.05"/><circle cx="358.48" cy="251.62" r="1.05"/><circle cx="345.48" cy="240.73" r="1.05"/><circle cx="341.23" cy="239.27" r="1.05"/><circle cx="345.72" cy="247.2" r="1.05"/><circle cx="343.11" cy="249.55" r="1.05"/><circle cx="341.98" cy="250.89" r="1.05"/><circle cx="355.69" cy="232.87" r="1.05"/><circle cx="336.48" cy="215.37" r="1.05"/><circle cx="341.49" cy="225.34" r="1.05"/><circle cx="319.57" cy="256.19" r="1.05"/><circle cx="357.3" cy="225.47" r="1.05"/><circle cx="327.19" cy="245.4" r="1.05"/><circle cx="354.43" cy="238.94" r="1.05"/><circle cx="340.92" cy="255.67" r="1.05"/><circle cx="341.41" cy="242.06" r="1.05"/><circle cx="357.09" cy="268.99" r="1.05"/><circle cx="339.2" cy="231.83" r="1.05"/><circle cx="350.38" cy="238.03" r="1.05"/><circle cx="348.95" cy="235.8" r="1.05"/><circle cx="352.45" cy="257.59" r="1.05"/><circle cx="330.57" cy="237.47" r="1.05"/><circle cx="360.87" cy="232.46" r="1.05"/><circle cx="332.67" cy="237.15" r="1.05"/><circle cx="336.54" cy="233.13" r="1.05"/><circle cx="345.66" cy="234.98" r="1.05"/><circle cx="337.53" cy="237.39" r="1.05"/><circle cx="339.35" cy="264.1" r="1.05"/><circle cx="343.13" cy="254.11" r="1.05"/><circle cx="346.05" cy="226.06" r="1.05"/><circle cx="329.59" cy="242.07" r="1.05"/><circle cx="349.66" cy="239.24" r="1.05"/><circle cx="332.4" cy="240.88" r="1.05"/><circle cx="340.38" cy="267.63" r="1.05"/><circle cx="347.98" cy="256.57" r="1.05"/><circle cx="346" cy="258.48" r="1.05"/><circle cx="355.93" cy="251.98" r="1.05"/><circle cx="341.74" cy="249.19" r="1.05"/><circle cx="354.56" cy="243.07" r="1.05"/><circle cx="329.66" cy="259.78" r="1.05"/><circle cx="377.46" cy="239.08" r="1.05"/><circle cx="354.67" cy="236.1" r="1.05"/><circle cx="340.97" cy="228.29" r="1.05"/><circle cx="353.68" cy="223.62" r="1.05"/><circle cx="353.34" cy="231.58" r="1.05"/><circle cx="362.16" cy="241.96" r="1.05"/><circle cx="340" cy="239.21" r="1.05"/><circle cx="361.68" cy="240.17" r="1.05"/><circle cx="347.86" cy="227.05" r="1.05"/><circle cx="334.62" cy="257.64" r="1.05"/><circle cx="343.28" cy="207.54" r="1.05"/><circle cx="341.43" cy="231.23" r="1.05"/><circle cx="348.72" cy="244.49" r="1.05"/><circle cx="342.04" cy="248.08" r="1.05"/><circle cx="337.87" cy="247.4" r="1.05"/><circle cx="326.13" cy="223.06" r="1.05"/><circle cx="333.56" cy="239.59" r="1.05"/><circle cx="338.49" cy="248.27" r="1.05"/><circle cx="350.1" cy="226.33" r="1.05"/><circle cx="344.13" cy="231.11" r="1.05"/><circle cx="347.96" cy="239.29" r="1.05"/><circle cx="354.68" cy="265.07" r="1.05"/><circle cx="344.52" cy="241.88" r="1.05"/><circle cx="342.01" cy="240.15" r="1.05"/><circle cx="331.79" cy="255.79" r="1.05"/><circle cx="345.21" cy="237.6" r="1.05"/><circle cx="340.4" cy="242.18" r="1.05"/><circle cx="340.73" cy="227" r="1.05"/><circle cx="353.48" cy="244.66" r="1.05"/><circle cx="358.05" cy="218.15" r="1.05"/><circle cx="351.07" cy="252.06" r="1.05"/><circle cx="351.9" cy="234.76" r="1.05"/><circle cx="333.67" cy="232.93" r="1.05"/><circle cx="348.22" cy="214.99" r="1.05"/><circle cx="359.04" cy="260.23" r="1.05"/><circle cx="346.67" cy="240.46" r="1.05"/><circle cx="341.2" cy="243" r="1.05"/><circle cx="359.89" cy="247.92" r="1.05"/><circle cx="345.54" cy="247.6" r="1.05"/><circle cx="363.98" cy="225.09" r="1.05"/><circle cx="333.09" cy="253.98" r="1.05"/><circle cx="325.66" cy="240.46" r="1.05"/><circle cx="340.53" cy="231.67" r="1.05"/><circle cx="339.53" cy="232" r="1.05"/><circle cx="328.96" cy="263.58" r="1.05"/><circle cx="348.85" cy="236.07" r="1.05"/><circle cx="328.57" cy="245.36" r="1.05"/><circle cx="348.36" cy="228.65" r="1.05"/><circle cx="347.96" cy="237.14" r="1.05"/><circle cx="328.47" cy="243.31" r="1.05"/><circle cx="341.43" cy="246.61" r="1.05"/><circle cx="365.36" cy="215.06" r="1.05"/><circle cx="334.16" cy="245.56" r="1.05"/><circle cx="338.67" cy="260.81" r="1.05"/><circle cx="340.73" cy="241.3" r="1.05"/><circle cx="348.7" cy="246.29" r="1.05"/><circle cx="355.07" cy="233.36" r="1.05"/><circle cx="329.94" cy="247.27" r="1.05"/><circle cx="353.09" cy="218.64" r="1.05"/><circle cx="338.58" cy="240.78" r="1.05"/><circle cx="356.98" cy="255.09" r="1.05"/><circle cx="358.97" cy="246.34" r="1.05"/><circle cx="349.03" cy="215.83" r="1.05"/><circle cx="356.28" cy="245.41" r="1.05"/><circle cx="369.65" cy="251.28" r="1.05"/><circle cx="324.85" cy="225" r="1.05"/><circle cx="363.2" cy="243.19" r="1.05"/><circle cx="355.37" cy="235.49" r="1.05"/><circle cx="333.73" cy="254.21" r="1.05"/><circle cx="345.69" cy="258.03" r="1.05"/><circle cx="358.58" cy="209.66" r="1.05"/><circle cx="322.93" cy="251.62" r="1.05"/><circle cx="348.02" cy="259.71" r="1.05"/><circle cx="352.88" cy="245.43" r="1.05"/><circle cx="354.89" cy="229.83" r="1.05"/><circle cx="351.11" cy="222.82" r="1.05"/><circle cx="349.28" cy="249.51" r="1.05"/><circle cx="346.88" cy="236.49" r="1.05"/><circle cx="332.26" cy="234.8" r="1.05"/><circle cx="361.22" cy="231.51" r="1.05"/><circle cx="346.4" cy="232.82" r="1.05"/><circle cx="357.18" cy="242.86" r="1.05"/><circle cx="355.6" cy="245.96" r="1.05"/><circle cx="350.98" cy="230.8" r="1.05"/><circle cx="331.1" cy="234.58" r="1.05"/><circle cx="347.53" cy="260.3" r="1.05"/><circle cx="340.21" cy="248.77" r="1.05"/><circle cx="335.4" cy="236.54" r="1.05"/><circle cx="336.48" cy="241" r="1.05"/><circle cx="333.25" cy="246.01" r="1.05"/><circle cx="365.14" cy="228.19" r="1.05"/><circle cx="328.12" cy="256.27" r="1.05"/><circle cx="343.62" cy="260.88" r="1.05"/><circle cx="355.84" cy="236.75" r="1.05"/><circle cx="344.38" cy="238.75" r="1.05"/><circle cx="337.67" cy="256.23" r="1.05"/><circle cx="311.1" cy="269.95" r="1.05"/><circle cx="347.72" cy="229.59" r="1.05"/><circle cx="343.12" cy="263.73" r="1.05"/><circle cx="341.44" cy="239.8" r="1.05"/><circle cx="330.96" cy="225.35" r="1.05"/><circle cx="332.86" cy="242.68" r="1.05"/><circle cx="333.2" cy="230.76" r="1.05"/><circle cx="331.32" cy="254.84" r="1.05"/><circle cx="357.32" cy="252.23" r="1.05"/><circle cx="339.21" cy="233.85" r="1.05"/><circle cx="349.02" cy="261" r="1.05"/><circle cx="351.73" cy="241.2" r="1.05"/><circle cx="358.49" cy="258.07" r="1.05"/><circle cx="353.5" cy="231.62" r="1.05"/><circle cx="340.99" cy="245.91" r="1.05"/><circle cx="349.35" cy="247.05" r="1.05"/><circle cx="341.32" cy="250.34" r="1.05"/><circle cx="346.62" cy="230.05" r="1.05"/><circle cx="327.7" cy="243.83" r="1.05"/><circle cx="348.49" cy="218.69" r="1.05"/><circle cx="336.99" cy="225.16" r="1.05"/><circle cx="340.24" cy="234.27" r="1.05"/><circle cx="347.53" cy="235.05" r="1.05"/><circle cx="341.36" cy="253.12" r="1.05"/><circle cx="361.38" cy="215.72" r="1.05"/><circle cx="343.84" cy="241.85" r="1.05"/><circle cx="342.78" cy="257.34" r="1.05"/><circle cx="332.93" cy="237.31" r="1.05"/><circle cx="355.5" cy="239.31" r="1.05"/><circle cx="334.85" cy="256.24" r="1.05"/><circle cx="338.37" cy="232.09" r="1.05"/><circle cx="345.62" cy="257.77" r="1.05"/><circle cx="332.37" cy="238.61" r="1.05"/><circle cx="348.35" cy="215.46" r="1.05"/><circle cx="360.83" cy="232.47" r="1.05"/><circle cx="337.64" cy="238.75" r="1.05"/><circle cx="332.66" cy="251.77" r="1.05"/><circle cx="356.07" cy="228.25" r="1.05"/><circle cx="355.18" cy="216.14" r="1.05"/><circle cx="340.55" cy="230.15" r="1.05"/><circle cx="345.87" cy="235" r="1.05"/><circle cx="347.58" cy="231.6" r="1.05"/><circle cx="329.93" cy="261.44" r="1.05"/><circle cx="346.1" cy="232.67" r="1.05"/><circle cx="339.79" cy="242.14" r="1.05"/><circle cx="329.68" cy="231.12" r="1.05"/><circle cx="350.09" cy="218.34" r="1.05"/><circle cx="340.62" cy="241.84" r="1.05"/><circle cx="345.83" cy="221.29" r="1.05"/><circle cx="351.25" cy="232.47" r="1.05"/><circle cx="327.09" cy="255.57" r="1.05"/><circle cx="328.98" cy="246.27" r="1.05"/><circle cx="354.47" cy="235.97" r="1.05"/><circle cx="335" cy="215.65" r="1.05"/><circle cx="333.04" cy="224.67" r="1.05"/><circle cx="357.78" cy="232.37" r="1.05"/><circle cx="359.83" cy="249.33" r="1.05"/><circle cx="338.99" cy="244.97" r="1.05"/><circle cx="349.15" cy="240.5" r="1.05"/><circle cx="363.74" cy="239" r="1.05"/><circle cx="342.56" cy="255.83" r="1.05"/><circle cx="350.31" cy="227.49" r="1.05"/><circle cx="336.83" cy="258.03" r="1.05"/><circle cx="329.91" cy="228.39" r="1.05"/><circle cx="353.7" cy="233.27" r="1.05"/><circle cx="353.36" cy="230.65" r="1.05"/><circle cx="350.04" cy="259.05" r="1.05"/><circle cx="350.72" cy="228.56" r="1.05"/><circle cx="357.5" cy="223.22" r="1.05"/><circle cx="337.64" cy="237.98" r="1.05"/><circle cx="329.6" cy="224.91" r="1.05"/><circle cx="330.06" cy="234.36" r="1.05"/><circle cx="336.44" cy="252.39" r="1.05"/><circle cx="335.29" cy="246.35" r="1.05"/><circle cx="349.23" cy="223.54" r="1.05"/><circle cx="341.81" cy="229.09" r="1.05"/><circle cx="354.6" cy="209.79" r="1.05"/><circle cx="338.55" cy="237.13" r="1.05"/><circle cx="352.63" cy="235.32" r="1.05"/><circle cx="351.9" cy="246.09" r="1.05"/><circle cx="341.15" cy="248.61" r="1.05"/><circle cx="338.07" cy="252.89" r="1.05"/><circle cx="343.97" cy="255.62" r="1.05"/><circle cx="338.79" cy="233.51" r="1.05"/><circle cx="327.85" cy="257.96" r="1.05"/><circle cx="340.6" cy="254.54" r="1.05"/><circle cx="334.12" cy="217.95" r="1.05"/><circle cx="348.65" cy="244.32" r="1.05"/><circle cx="336.97" cy="261.94" r="1.05"/><circle cx="323.15" cy="220.78" r="1.05"/><circle cx="350.62" cy="226.25" r="1.05"/><circle cx="338.94" cy="248.44" r="1.05"/><circle cx="343.03" cy="216.6" r="1.05"/><circle cx="331.29" cy="257.22" r="1.05"/><circle cx="350.68" cy="263.49" r="1.05"/><circle cx="361.24" cy="249.87" r="1.05"/><circle cx="357.98" cy="237.71" r="1.05"/><circle cx="341.16" cy="255.42" r="1.05"/><circle cx="360.92" cy="238.47" r="1.05"/><circle cx="330.36" cy="235.2" r="1.05"/><circle cx="343.51" cy="233.05" r="1.05"/><circle cx="340.61" cy="235.84" r="1.05"/><circle cx="349.98" cy="237.73" r="1.05"/><circle cx="327.17" cy="237.99" r="1.05"/><circle cx="360.1" cy="229.41" r="1.05"/><circle cx="355.21" cy="226.29" r="1.05"/><circle cx="341.73" cy="226.5" r="1.05"/><circle cx="342.43" cy="253.19" r="1.05"/><circle cx="331.28" cy="229.79" r="1.05"/><circle cx="352.75" cy="228.99" r="1.05"/><circle cx="338.89" cy="264.81" r="1.05"/><circle cx="353.56" cy="238.17" r="1.05"/><circle cx="338.38" cy="249.19" r="1.05"/><circle cx="338.77" cy="265.3" r="1.05"/><circle cx="351.83" cy="228.28" r="1.05"/><circle cx="354.59" cy="241.35" r="1.05"/><circle cx="331.38" cy="261.03" r="1.05"/><circle cx="341.67" cy="217.6" r="1.05"/><circle cx="355.19" cy="236.13" r="1.05"/><circle cx="350.19" cy="227.32" r="1.05"/><circle cx="345.7" cy="236.18" r="1.05"/><circle cx="347.36" cy="246.28" r="1.05"/><circle cx="332.57" cy="250.19" r="1.05"/><circle cx="357.63" cy="256.36" r="1.05"/><circle cx="340.28" cy="246.14" r="1.05"/><circle cx="345.47" cy="245.08" r="1.05"/><circle cx="353.66" cy="241.73" r="1.05"/><circle cx="344.99" cy="230.1" r="1.05"/><circle cx="329.61" cy="229.48" r="1.05"/><circle cx="356.31" cy="253.29" r="1.05"/><circle cx="344.06" cy="249.29" r="1.05"/><circle cx="341.06" cy="230.29" r="1.05"/><circle cx="324.6" cy="234.13" r="1.05"/><circle cx="349.74" cy="238.08" r="1.05"/><circle cx="369.2" cy="238.95" r="1.05"/><circle cx="328.69" cy="238.96" r="1.05"/><circle cx="346.65" cy="247.06" r="1.05"/><circle cx="349.07" cy="241.05" r="1.05"/><circle cx="342.32" cy="254.83" r="1.05"/><circle cx="350.74" cy="241.95" r="1.05"/><circle cx="339.8" cy="242.75" r="1.05"/><circle cx="351.04" cy="257.4" r="1.05"/><circle cx="354.44" cy="234.42" r="1.05"/><circle cx="354.99" cy="221.96" r="1.05"/><circle cx="342.41" cy="243.45" r="1.05"/><circle cx="372.36" cy="241.92" r="1.05"/><circle cx="331.71" cy="236.77" r="1.05"/><circle cx="335.28" cy="228.44" r="1.05"/><circle cx="335.58" cy="233.49" r="1.05"/><circle cx="345.12" cy="247.68" r="1.05"/><circle cx="339.53" cy="219.52" r="1.05"/><circle cx="345.78" cy="234.16" r="1.05"/><circle cx="350.65" cy="241.77" r="1.05"/><circle cx="337.02" cy="235.48" r="1.05"/><circle cx="344.37" cy="227.23" r="1.05"/><circle cx="339.8" cy="242.26" r="1.05"/><circle cx="341.63" cy="241.11" r="1.05"/><circle cx="351.65" cy="233.2" r="1.05"/><circle cx="345.74" cy="227.08" r="1.05"/><circle cx="339.74" cy="216.57" r="1.05"/><circle cx="338.31" cy="253.62" r="1.05"/><circle cx="347.37" cy="258.42" r="1.05"/><circle cx="339.03" cy="224.29" r="1.05"/><circle cx="344.74" cy="255.59" r="1.05"/><circle cx="345.37" cy="257.77" r="1.05"/><circle cx="352.89" cy="241.56" r="1.05"/><circle cx="349.2" cy="241.38" r="1.05"/><circle cx="343.69" cy="249.82" r="1.05"/><circle cx="345.15" cy="253.03" r="1.05"/><circle cx="336.99" cy="243.7" r="1.05"/><circle cx="344.15" cy="213.22" r="1.05"/><circle cx="335.48" cy="256.45" r="1.05"/><circle cx="351.99" cy="230.03" r="1.05"/><circle cx="352.41" cy="238.95" r="1.05"/><circle cx="328.57" cy="248.68" r="1.05"/><circle cx="331.14" cy="244.28" r="1.05"/><circle cx="364.02" cy="238.19" r="1.05"/><circle cx="346.08" cy="225.08" r="1.05"/><circle cx="330.48" cy="233.73" r="1.05"/><circle cx="341.23" cy="249.44" r="1.05"/><circle cx="340.98" cy="253.46" r="1.05"/><circle cx="354.25" cy="235.63" r="1.05"/><circle cx="339.9" cy="234.63" r="1.05"/><circle cx="328.67" cy="270.4" r="1.05"/><circle cx="330.2" cy="262.3" r="1.05"/><circle cx="330.49" cy="242.45" r="1.05"/><circle cx="348.16" cy="241.24" r="1.05"/><circle cx="338.2" cy="231.51" r="1.05"/><circle cx="338.82" cy="229.34" r="1.05"/><circle cx="360.69" cy="227.89" r="1.05"/><circle cx="352.89" cy="239.63" r="1.05"/><circle cx="349.04" cy="227.23" r="1.05"/><circle cx="347.4" cy="247.62" r="1.05"/><circle cx="346.02" cy="247.01" r="1.05"/><circle cx="330.55" cy="255.15" r="1.05"/><circle cx="342.99" cy="244.74" r="1.05"/><circle cx="365.74" cy="240.3" r="1.05"/><circle cx="323.44" cy="242.25" r="1.05"/><circle cx="339.73" cy="245.49" r="1.05"/><circle cx="328.82" cy="229.13" r="1.05"/><circle cx="341.98" cy="239.26" r="1.05"/><circle cx="348.7" cy="230.95" r="1.05"/><circle cx="331.54" cy="252.78" r="1.05"/><circle cx="334.51" cy="237.93" r="1.05"/><circle cx="354.96" cy="239.26" r="1.05"/><circle cx="341.62" cy="248.07" r="1.05"/><circle cx="338.21" cy="241.92" r="1.05"/><circle cx="352.69" cy="229.33" r="1.05"/><circle cx="353.23" cy="228.44" r="1.05"/><circle cx="337.15" cy="255.08" r="1.05"/><circle cx="348.68" cy="252.6" r="1.05"/><circle cx="360.48" cy="224.24" r="1.05"/><circle cx="330.1" cy="230.81" r="1.05"/><circle cx="358.41" cy="237.97" r="1.05"/><circle cx="345.1" cy="226.88" r="1.05"/><circle cx="335.46" cy="241.86" r="1.05"/><circle cx="354.06" cy="228.84" r="1.05"/><circle cx="333.84" cy="262.51" r="1.05"/><circle cx="346.8" cy="265.97" r="1.05"/><circle cx="348.72" cy="251.06" r="1.05"/><circle cx="342.86" cy="243.33" r="1.05"/><circle cx="349.85" cy="257.74" r="1.05"/><circle cx="343.93" cy="224.79" r="1.05"/><circle cx="342.45" cy="216.81" r="1.05"/><circle cx="327.91" cy="233.91" r="1.05"/><circle cx="362.1" cy="244.95" r="1.05"/><circle cx="337.76" cy="233.08" r="1.05"/><circle cx="367.66" cy="242.41" r="1.05"/><circle cx="349" cy="226.57" r="1.05"/><circle cx="349.53" cy="259.46" r="1.05"/><circle cx="342.65" cy="225.96" r="1.05"/><circle cx="349.78" cy="239.29" r="1.05"/><circle cx="342.67" cy="220.74" r="1.05"/><circle cx="367.46" cy="250.44" r="1.05"/><circle cx="325.99" cy="240.19" r="1.05"/><circle cx="354.84" cy="238.54" r="1.05"/><circle cx="346.33" cy="228.81" r="1.05"/><circle cx="346.35" cy="245.95" r="1.05"/><circle cx="320.8" cy="254.85" r="1.05"/><circle cx="349.83" cy="220.29" r="1.05"/><circle cx="316.91" cy="253.57" r="1.05"/><circle cx="332.36" cy="244.13" r="1.05"/><circle cx="360.27" cy="247.48" r="1.05"/><circle cx="357.31" cy="217.05" r="1.05"/><circle cx="321.73" cy="225.35" r="1.05"/><circle cx="357.64" cy="239.24" r="1.05"/><circle cx="338.29" cy="236.42" r="1.05"/><circle cx="343.9" cy="230.78" r="1.05"/><circle cx="353.9" cy="218.25" r="1.05"/><circle cx="359.26" cy="229.63" r="1.05"/><circle cx="330.43" cy="255.74" r="1.05"/><circle cx="322.11" cy="258.09" r="1.05"/><circle cx="344.18" cy="233.81" r="1.05"/><circle cx="337.54" cy="246.54" r="1.05"/><circle cx="369.95" cy="234.46" r="1.05"/><circle cx="337.14" cy="264.49" r="1.05"/><circle cx="345.57" cy="223.99" r="1.05"/><circle cx="337.61" cy="233.24" r="1.05"/><circle cx="336.3" cy="231.06" r="1.05"/><circle cx="343.71" cy="242.08" r="1.05"/><circle cx="339.53" cy="242.5" r="1.05"/><circle cx="358.83" cy="238.63" r="1.05"/><circle cx="337" cy="247.6" r="1.05"/><circle cx="340.36" cy="260.46" r="1.05"/><circle cx="357.41" cy="245.06" r="1.05"/></g>
<path d="M307.7 247.3L387.9 226.3" stroke="#2b4a8c" stroke-width="1.1" fill="none"/>
<rect x="307.7" y="192.5" width="80.2" height="77.9" fill="none" stroke="#111" stroke-width="1.4"/>
<text x="301.9" y="273.57" font-size="8.8" text-anchor="end" textLength="4.5" lengthAdjust="spacingAndGlyphs" stroke="#231f20" stroke-width="0.22">0</text>
<text x="301.9" y="247.6" font-size="8.8" text-anchor="end" textLength="11.25" lengthAdjust="spacingAndGlyphs" stroke="#231f20" stroke-width="0.22">2.5</text>
<text x="301.9" y="221.63" font-size="8.8" text-anchor="end" textLength="4.5" lengthAdjust="spacingAndGlyphs" stroke="#231f20" stroke-width="0.22">5</text>
<text x="301.9" y="195.67" font-size="8.8" text-anchor="end" textLength="11.25" lengthAdjust="spacingAndGlyphs" stroke="#231f20" stroke-width="0.22">7.5</text>
<text x="307.7" y="283.6" font-size="8.8" text-anchor="middle" textLength="11.25" lengthAdjust="spacingAndGlyphs" stroke="#231f20" stroke-width="0.22">3.1</text>
<text x="334.43" y="283.6" font-size="8.8" text-anchor="middle" textLength="11.25" lengthAdjust="spacingAndGlyphs" stroke="#231f20" stroke-width="0.22">3.5</text>
<text x="361.17" y="283.6" font-size="8.8" text-anchor="middle" textLength="11.25" lengthAdjust="spacingAndGlyphs" stroke="#231f20" stroke-width="0.22">3.9</text>
<text x="387.9" y="283.6" font-size="8.8" text-anchor="middle" textLength="11.25" lengthAdjust="spacingAndGlyphs" stroke="#231f20" stroke-width="0.22">4.3</text>
<path d="M304.4 270.4H307.7M304.4 244.43H307.7M304.4 218.47H307.7M304.4 192.5H307.7M307.7 270.4V273.7M334.43 270.4V273.7M361.17 270.4V273.7M387.9 270.4V273.7" stroke="#231f20" stroke-width="1.2" fill="none"/>
<text x="309.6" y="183.8" font-size="8.8" textLength="71.6" lengthAdjust="spacingAndGlyphs" stroke="#231f20" stroke-width="0.22">rho = 0.233, P &lt; 0.001</text>
<g fill="#e9a8b5" stroke="#c84a64" stroke-width="0.7"><circle cx="475.19" cy="238.76" r="1.05"/><circle cx="482.48" cy="222.22" r="1.05"/><circle cx="451.26" cy="217.89" r="1.05"/><circle cx="471.83" cy="203.77" r="1.05"/><circle cx="459.81" cy="223.11" r="1.05"/><circle cx="487.07" cy="243.19" r="1.05"/><circle cx="487.2" cy="244.41" r="1.05"/><circle cx="495.23" cy="225.05" r="1.05"/><circle cx="457.63" cy="246.1" r="1.05"/><circle cx="477.75" cy="212.16" r="1.05"/><circle cx="439.29" cy="258.86" r="1.05"/><circle cx="461.68" cy="256.69" r="1.05"/><circle cx="465.95" cy="204.98" r="1.05"/><circle cx="458.5" cy="218.23" r="1.05"/><circle cx="487.18" cy="240.2" r="1.05"/><circle cx="484.09" cy="215.8" r="1.05"/><circle cx="463.38" cy="246.37" r="1.05"/><circle cx="484.14" cy="230.27" r="1.05"/><circle cx="498.85" cy="226.56" r="1.05"/><circle cx="450.99" cy="241.74" r="1.05"/><circle cx="450.53" cy="230.58" r="1.05"/><circle cx="478.12" cy="242.08" r="1.05"/><circle cx="454.87" cy="227.82" r="1.05"/><circle cx="462.3" cy="221.9" r="1.05"/><circle cx="453.48" cy="244.49" r="1.05"/><circle cx="459.87" cy="254.08" r="1.05"/><circle cx="454.93" cy="234.76" r="1.05"/><circle cx="498.82" cy="246.84" r="1.05"/><circle cx="453.73" cy="241.64" r="1.05"/><circle cx="492.11" cy="217.66" r="1.05"/><circle cx="476.1" cy="221.87" r="1.05"/><circle cx="460.54" cy="229.73" r="1.05"/><circle cx="462.13" cy="232.33" r="1.05"/><circle cx="484.58" cy="231.39" r="1.05"/><circle cx="473.51" cy="255.67" r="1.05"/><circle cx="474.22" cy="217.38" r="1.05"/><circle cx="481.36" cy="231.34" r="1.05"/><circle cx="482.58" cy="262.15" r="1.05"/><circle cx="441.64" cy="236.4" r="1.05"/><circle cx="450.82" cy="240.99" r="1.05"/><circle cx="430.8" cy="265.54" r="1.05"/><circle cx="467.16" cy="253.4" r="1.05"/><circle cx="464.94" cy="257.68" r="1.05"/><circle cx="452.99" cy="222.13" r="1.05"/><circle cx="475.89" cy="253.32" r="1.05"/><circle cx="470.29" cy="238.62" r="1.05"/><circle cx="448.02" cy="241.63" r="1.05"/><circle cx="463.19" cy="232.05" r="1.05"/><circle cx="462.5" cy="252.44" r="1.05"/><circle cx="467.3" cy="234.35" r="1.05"/><circle cx="480.5" cy="238.48" r="1.05"/><circle cx="474.96" cy="230.58" r="1.05"/><circle cx="466.92" cy="211.47" r="1.05"/><circle cx="472.52" cy="227.56" r="1.05"/><circle cx="480.64" cy="227.23" r="1.05"/><circle cx="471.15" cy="225.7" r="1.05"/><circle cx="464.79" cy="269.01" r="1.05"/><circle cx="469.75" cy="241.04" r="1.05"/><circle cx="448.31" cy="223.5" r="1.05"/><circle cx="476.98" cy="234.68" r="1.05"/><circle cx="454.14" cy="239.73" r="1.05"/><circle cx="467.83" cy="259.45" r="1.05"/><circle cx="457.51" cy="237.72" r="1.05"/><circle cx="469.11" cy="227.47" r="1.05"/><circle cx="486.71" cy="226.93" r="1.05"/><circle cx="483.79" cy="211.84" r="1.05"/><circle cx="464.89" cy="242.3" r="1.05"/><circle cx="448.84" cy="241.34" r="1.05"/><circle cx="483.31" cy="231.37" r="1.05"/><circle cx="491.13" cy="229.8" r="1.05"/><circle cx="487.48" cy="234.21" r="1.05"/><circle cx="494.64" cy="235.78" r="1.05"/><circle cx="469.59" cy="221.37" r="1.05"/><circle cx="475.93" cy="227.29" r="1.05"/><circle cx="484.65" cy="253.83" r="1.05"/><circle cx="481.39" cy="235.02" r="1.05"/><circle cx="462.28" cy="245.54" r="1.05"/><circle cx="477.35" cy="263.24" r="1.05"/><circle cx="455.26" cy="244.38" r="1.05"/><circle cx="477.48" cy="249.52" r="1.05"/><circle cx="472.04" cy="227.41" r="1.05"/><circle cx="482.17" cy="214.11" r="1.05"/><circle cx="446.31" cy="243.21" r="1.05"/><circle cx="483.23" cy="268.37" r="1.05"/><circle cx="472.98" cy="224.53" r="1.05"/><circle cx="484.39" cy="251.34" r="1.05"/><circle cx="452.38" cy="228.1" r="1.05"/><circle cx="470.59" cy="230.18" r="1.05"/><circle cx="480.72" cy="231.79" r="1.05"/><circle cx="469.27" cy="221.79" r="1.05"/><circle cx="475.67" cy="238.24" r="1.05"/><circle cx="441.74" cy="252.22" r="1.05"/><circle cx="453.9" cy="250.09" r="1.05"/><circle cx="468.12" cy="240.89" r="1.05"/><circle cx="487.91" cy="241.09" r="1.05"/><circle cx="476.86" cy="259.99" r="1.05"/><circle cx="472" cy="234.53" r="1.05"/><circle cx="474.97" cy="222.6" r="1.05"/><circle cx="496.05" cy="244.26" r="1.05"/><circle cx="451.25" cy="231.25" r="1.05"/><circle cx="466.99" cy="250.3" r="1.05"/><circle cx="500.44" cy="238.3" r="1.05"/><circle cx="463.46" cy="267.42" r="1.05"/><circle cx="474.15" cy="255.51" r="1.05"/><circle cx="462.88" cy="229.21" r="1.05"/><circle cx="468.14" cy="233.5" r="1.05"/><circle cx="478.27" cy="241.37" r="1.05"/><circle cx="479.8" cy="234.3" r="1.05"/><circle cx="479.84" cy="227.26" r="1.05"/><circle cx="463.52" cy="231.68" r="1.05"/><circle cx="453.52" cy="238.65" r="1.05"/><circle cx="452.27" cy="221.42" r="1.05"/><circle cx="461.72" cy="223.56" r="1.05"/><circle cx="493.15" cy="257.17" r="1.05"/><circle cx="464.96" cy="235.93" r="1.05"/><circle cx="483.72" cy="240.28" r="1.05"/><circle cx="469.27" cy="231.03" r="1.05"/><circle cx="468.62" cy="226.49" r="1.05"/><circle cx="470.63" cy="234.41" r="1.05"/><circle cx="493.58" cy="234.49" r="1.05"/><circle cx="479.86" cy="226.02" r="1.05"/><circle cx="473.03" cy="252.27" r="1.05"/><circle cx="479.3" cy="230.99" r="1.05"/><circle cx="445.18" cy="221.9" r="1.05"/><circle cx="454.4" cy="247.89" r="1.05"/><circle cx="464.79" cy="241.77" r="1.05"/><circle cx="457.91" cy="262.28" r="1.05"/><circle cx="461.49" cy="250.39" r="1.05"/><circle cx="467.34" cy="236.37" r="1.05"/><circle cx="474.81" cy="233.1" r="1.05"/><circle cx="444.65" cy="235.5" r="1.05"/><circle cx="471.02" cy="222.77" r="1.05"/><circle cx="454.89" cy="254.64" r="1.05"/><circle cx="498.88" cy="228.81" r="1.05"/><circle cx="457.61" cy="245.75" r="1.05"/><circle cx="469.22" cy="217.49" r="1.05"/><circle cx="479.32" cy="241.1" r="1.05"/><circle cx="453.53" cy="230.45" r="1.05"/><circle cx="474.25" cy="224.85" r="1.05"/><circle cx="483.22" cy="243.89" r="1.05"/><circle cx="472.6" cy="246.66" r="1.05"/><circle cx="484.31" cy="252.43" r="1.05"/><circle cx="470.42" cy="221.44" r="1.05"/><circle cx="460.25" cy="255.36" r="1.05"/><circle cx="459.51" cy="245.54" r="1.05"/><circle cx="455.5" cy="244.48" r="1.05"/><circle cx="471.78" cy="249.8" r="1.05"/><circle cx="486" cy="237.22" r="1.05"/><circle cx="469.8" cy="224.06" r="1.05"/><circle cx="483.56" cy="219.63" r="1.05"/><circle cx="485.99" cy="229.76" r="1.05"/><circle cx="459.19" cy="218" r="1.05"/><circle cx="482.5" cy="221.11" r="1.05"/><circle cx="465.51" cy="248.06" r="1.05"/><circle cx="476.98" cy="227.1" r="1.05"/><circle cx="461.37" cy="247.66" r="1.05"/><circle cx="482.8" cy="234.72" r="1.05"/><circle cx="470.73" cy="244.95" r="1.05"/><circle cx="483.25" cy="241.24" r="1.05"/><circle cx="471.2" cy="232.35" r="1.05"/><circle cx="456.88" cy="229.02" r="1.05"/><circle cx="470.42" cy="232.68" r="1.05"/><circle cx="457.13" cy="240.11" r="1.05"/><circle cx="453.46" cy="235.65" r="1.05"/><circle cx="461.85" cy="255.82" r="1.05"/><circle cx="468.98" cy="229.6" r="1.05"/><circle cx="470.62" cy="241" r="1.05"/><circle cx="471.58" cy="233.93" r="1.05"/><circle cx="475.81" cy="251.56" r="1.05"/><circle cx="485.13" cy="243.76" r="1.05"/><circle cx="460.23" cy="227.28" r="1.05"/><circle cx="466.67" cy="248" r="1.05"/><circle cx="472.45" cy="250.27" r="1.05"/><circle cx="480.13" cy="232.77" r="1.05"/><circle cx="460.5" cy="242.22" r="1.05"/><circle cx="494.14" cy="250.63" r="1.05"/><circle cx="437.67" cy="245.51" r="1.05"/><circle cx="461.41" cy="254.74" r="1.05"/><circle cx="486.58" cy="207.13" r="1.05"/><circle cx="481.16" cy="242.91" r="1.05"/><circle cx="463.71" cy="235.41" r="1.05"/><circle cx="447.74" cy="259.58" r="1.05"/><circle cx="458.98" cy="232.6" r="1.05"/><circle cx="449.02" cy="256.94" r="1.05"/><circle cx="473.27" cy="227.64" r="1.05"/><circle cx="465.26" cy="241.63" r="1.05"/><circle cx="472.73" cy="247.93" r="1.05"/><circle cx="475.36" cy="249.65" r="1.05"/><circle cx="469.19" cy="235.62" r="1.05"/><circle cx="475.98" cy="229.92" r="1.05"/><circle cx="468.97" cy="261.71" r="1.05"/><circle cx="459.69" cy="248" r="1.05"/><circle cx="456.16" cy="258.84" r="1.05"/><circle cx="463.93" cy="234.75" r="1.05"/><circle cx="458.11" cy="238.01" r="1.05"/><circle cx="473" cy="224.89" r="1.05"/><circle cx="494.33" cy="220.55" r="1.05"/><circle cx="462.07" cy="211.07" r="1.05"/><circle cx="467.63" cy="240.15" r="1.05"/><circle cx="488.24" cy="248.97" r="1.05"/><circle cx="439.23" cy="247.59" r="1.05"/><circle cx="464.68" cy="238.29" r="1.05"/><circle cx="474.86" cy="227.58" r="1.05"/><circle cx="484.24" cy="254.86" r="1.05"/><circle cx="477.33" cy="228.09" r="1.05"/><circle cx="475.46" cy="230.59" r="1.05"/><circle cx="459.16" cy="228.58" r="1.05"/><circle cx="479.79" cy="220.2" r="1.05"/><circle cx="469.24" cy="209.81" r="1.05"/><circle cx="453.13" cy="239.08" r="1.05"/><circle cx="469.06" cy="250.18" r="1.05"/><circle cx="467.49" cy="231.37" r="1.05"/><circle cx="464.96" cy="229.25" r="1.05"/><circle cx="466.58" cy="250.85" r="1.05"/><circle cx="464.79" cy="249.03" r="1.05"/><circle cx="478.54" cy="231.41" r="1.05"/><circle cx="443.91" cy="224" r="1.05"/><circle cx="470.8" cy="228.86" r="1.05"/><circle cx="473.72" cy="228.62" r="1.05"/><circle cx="499.08" cy="240.3" r="1.05"/><circle cx="468.42" cy="233.81" r="1.05"/><circle cx="449.39" cy="239.88" r="1.05"/><circle cx="478.86" cy="227.22" r="1.05"/><circle cx="467.87" cy="238.83" r="1.05"/><circle cx="463.64" cy="258.83" r="1.05"/><circle cx="471.44" cy="252.57" r="1.05"/><circle cx="451.38" cy="237.41" r="1.05"/><circle cx="478.75" cy="224.08" r="1.05"/><circle cx="468.6" cy="226.26" r="1.05"/><circle cx="475.65" cy="234.59" r="1.05"/><circle cx="484.14" cy="229.6" r="1.05"/><circle cx="469.32" cy="220.9" r="1.05"/><circle cx="457.65" cy="240.16" r="1.05"/><circle cx="480.88" cy="222.94" r="1.05"/><circle cx="458.3" cy="258.17" r="1.05"/><circle cx="449.46" cy="242.23" r="1.05"/><circle cx="479.56" cy="234.33" r="1.05"/><circle cx="472.03" cy="249.78" r="1.05"/><circle cx="479.35" cy="227.61" r="1.05"/><circle cx="470.98" cy="242.85" r="1.05"/><circle cx="480.28" cy="225.8" r="1.05"/><circle cx="477.43" cy="246.02" r="1.05"/><circle cx="468.09" cy="215.23" r="1.05"/><circle cx="477.46" cy="230.2" r="1.05"/><circle cx="445.7" cy="257.13" r="1.05"/><circle cx="475.74" cy="245.86" r="1.05"/><circle cx="466.44" cy="225.74" r="1.05"/><circle cx="475.82" cy="229.36" r="1.05"/><circle cx="488.31" cy="224.9" r="1.05"/><circle cx="492" cy="238.92" r="1.05"/><circle cx="448.17" cy="230.08" r="1.05"/><circle cx="469.31" cy="259.93" r="1.05"/><circle cx="469.18" cy="223.76" r="1.05"/><circle cx="479.23" cy="229.25" r="1.05"/><circle cx="474.39" cy="251.08" r="1.05"/><circle cx="443.87" cy="245.89" r="1.05"/><circle cx="478.9" cy="229.68" r="1.05"/><circle cx="451.62" cy="239.37" r="1.05"/><circle cx="454.74" cy="269.31" r="1.05"/><circle cx="473.35" cy="253.11" r="1.05"/><circle cx="460.8" cy="254.61" r="1.05"/><circle cx="486.49" cy="236.42" r="1.05"/><circle cx="456.18" cy="247.68" r="1.05"/><circle cx="447.1" cy="230.75" r="1.05"/><circle cx="446.76" cy="221.1" r="1.05"/><circle cx="455.74" cy="245.72" r="1.05"/><circle cx="488.16" cy="232.35" r="1.05"/><circle cx="467.98" cy="259.57" r="1.05"/><circle cx="468.01" cy="241.72" r="1.05"/><circle cx="463.25" cy="248.88" r="1.05"/><circle cx="446.33" cy="224.55" r="1.05"/><circle cx="454.87" cy="231.98" r="1.05"/><circle cx="476.16" cy="234.03" r="1.05"/><circle cx="470.19" cy="228.71" r="1.05"/><circle cx="463.49" cy="239.5" r="1.05"/><circle cx="472.8" cy="234.26" r="1.05"/><circle cx="460.45" cy="240.1" r="1.05"/><circle cx="469.34" cy="244.77" r="1.05"/><circle cx="482.56" cy="228.12" r="1.05"/><circle cx="475.59" cy="245.57" r="1.05"/><circle cx="475.97" cy="245.82" r="1.05"/><circle cx="490.1" cy="238.82" r="1.05"/><circle cx="494.37" cy="262.48" r="1.05"/><circle cx="471.55" cy="245.57" r="1.05"/><circle cx="450.4" cy="242.89" r="1.05"/><circle cx="466.05" cy="247.98" r="1.05"/><circle cx="457.71" cy="245.02" r="1.05"/><circle cx="473.91" cy="223.68" r="1.05"/><circle cx="473.63" cy="253.18" r="1.05"/><circle cx="461.7" cy="231.64" r="1.05"/><circle cx="458.9" cy="229.25" r="1.05"/><circle cx="466.16" cy="227" r="1.05"/><circle cx="469.45" cy="226.81" r="1.05"/><circle cx="458.75" cy="256.36" r="1.05"/><circle cx="445.66" cy="263.74" r="1.05"/><circle cx="464.08" cy="244.91" r="1.05"/><circle cx="453.83" cy="231.33" r="1.05"/><circle cx="467.4" cy="254.67" r="1.05"/><circle cx="481.01" cy="227.45" r="1.05"/><circle cx="454.07" cy="259.99" r="1.05"/><circle cx="458.68" cy="236.66" r="1.05"/><circle cx="483.89" cy="231.99" r="1.05"/><circle cx="467.79" cy="244.63" r="1.05"/><circle cx="449.21" cy="244.02" r="1.05"/><circle cx="458.39" cy="243.38" r="1.05"/><circle cx="470.22" cy="236.2" r="1.05"/><circle cx="457.69" cy="213.11" r="1.05"/><circle cx="431.93" cy="225.31" r="1.05"/><circle cx="476.11" cy="252.51" r="1.05"/><circle cx="451.14" cy="234.73" r="1.05"/><circle cx="474.51" cy="247.17" r="1.05"/><circle cx="484.37" cy="211.43" r="1.05"/><circle cx="458.56" cy="249.34" r="1.05"/><circle cx="462.59" cy="235.43" r="1.05"/><circle cx="445.48" cy="251.72" r="1.05"/><circle cx="446.25" cy="241.76" r="1.05"/><circle cx="466.89" cy="250.28" r="1.05"/><circle cx="443.64" cy="269.69" r="1.05"/><circle cx="465.89" cy="246.8" r="1.05"/><circle cx="457.33" cy="256.41" r="1.05"/><circle cx="471.26" cy="258.1" r="1.05"/><circle cx="500.27" cy="251.56" r="1.05"/><circle cx="471.8" cy="222.65" r="1.05"/><circle cx="450.54" cy="232.91" r="1.05"/><circle cx="460.08" cy="235.97" r="1.05"/><circle cx="457.89" cy="240.04" r="1.05"/><circle cx="445.76" cy="240.69" r="1.05"/><circle cx="463.19" cy="225.09" r="1.05"/><circle cx="456.19" cy="252.35" r="1.05"/><circle cx="477.02" cy="263.31" r="1.05"/><circle cx="475.98" cy="238.37" r="1.05"/><circle cx="460.85" cy="238.64" r="1.05"/><circle cx="463.33" cy="251.68" r="1.05"/><circle cx="477.16" cy="248.98" r="1.05"/><circle cx="468.83" cy="241.17" r="1.05"/><circle cx="456.88" cy="249.09" r="1.05"/><circle cx="471.02" cy="243.01" r="1.05"/><circle cx="485.81" cy="224.16" r="1.05"/><circle cx="460.93" cy="226.67" r="1.05"/><circle cx="434.4" cy="221.96" r="1.05"/><circle cx="449.03" cy="259.21" r="1.05"/><circle cx="482.41" cy="257.98" r="1.05"/><circle cx="456.89" cy="236.46" r="1.05"/><circle cx="438.39" cy="246.01" r="1.05"/><circle cx="479.59" cy="246.3" r="1.05"/><circle cx="487.47" cy="247.24" r="1.05"/><circle cx="486.9" cy="230.03" r="1.05"/><circle cx="468.92" cy="241.8" r="1.05"/><circle cx="453.38" cy="227.28" r="1.05"/><circle cx="450.69" cy="241.89" r="1.05"/><circle cx="476.95" cy="230.95" r="1.05"/><circle cx="476.55" cy="245.72" r="1.05"/><circle cx="449.34" cy="239.05" r="1.05"/><circle cx="464.86" cy="225.11" r="1.05"/><circle cx="439.73" cy="244.03" r="1.05"/><circle cx="472.56" cy="244.3" r="1.05"/><circle cx="444.53" cy="242.7" r="1.05"/><circle cx="481.43" cy="245.72" r="1.05"/><circle cx="454.2" cy="254.72" r="1.05"/><circle cx="453.19" cy="265.33" r="1.05"/><circle cx="464.92" cy="251.63" r="1.05"/><circle cx="466.6" cy="232.33" r="1.05"/><circle cx="492.76" cy="248.84" r="1.05"/><circle cx="451.71" cy="243.8" r="1.05"/><circle cx="476.65" cy="207.16" r="1.05"/><circle cx="468.18" cy="246.17" r="1.05"/><circle cx="426.56" cy="265.26" r="1.05"/><circle cx="466.67" cy="225.46" r="1.05"/><circle cx="459.02" cy="229.93" r="1.05"/><circle cx="482.29" cy="222.93" r="1.05"/><circle cx="468.48" cy="217.83" r="1.05"/><circle cx="441.53" cy="237.62" r="1.05"/><circle cx="467.21" cy="264.71" r="1.05"/><circle cx="481.7" cy="216" r="1.05"/><circle cx="469.57" cy="248.83" r="1.05"/><circle cx="474.16" cy="237" r="1.05"/><circle cx="468.39" cy="224.48" r="1.05"/><circle cx="485.93" cy="227" r="1.05"/><circle cx="484.57" cy="255.24" r="1.05"/><circle cx="481.06" cy="209.32" r="1.05"/><circle cx="469.59" cy="245.44" r="1.05"/><circle cx="487.24" cy="259.36" r="1.05"/><circle cx="484.64" cy="250.56" r="1.05"/><circle cx="474.81" cy="252.04" r="1.05"/><circle cx="488.75" cy="233.37" r="1.05"/><circle cx="459.9" cy="239.52" r="1.05"/><circle cx="487.16" cy="214.06" r="1.05"/><circle cx="471.51" cy="239.95" r="1.05"/><circle cx="489.19" cy="231.96" r="1.05"/><circle cx="460.52" cy="213.32" r="1.05"/><circle cx="446.42" cy="236.95" r="1.05"/><circle cx="490.88" cy="227.4" r="1.05"/><circle cx="472.4" cy="223.87" r="1.05"/><circle cx="455.49" cy="239.27" r="1.05"/><circle cx="468.43" cy="223.47" r="1.05"/><circle cx="475.52" cy="234.3" r="1.05"/><circle cx="486.47" cy="215.7" r="1.05"/><circle cx="452.63" cy="205.22" r="1.05"/><circle cx="474.58" cy="241.67" r="1.05"/><circle cx="493.1" cy="264.69" r="1.05"/><circle cx="452.81" cy="235.37" r="1.05"/><circle cx="460.38" cy="253.27" r="1.05"/><circle cx="465.95" cy="216.81" r="1.05"/><circle cx="470.38" cy="224.75" r="1.05"/><circle cx="479.99" cy="234.33" r="1.05"/><circle cx="470.41" cy="244.54" r="1.05"/><circle cx="472.94" cy="224.77" r="1.05"/><circle cx="467.32" cy="236.77" r="1.05"/><circle cx="476.58" cy="233.6" r="1.05"/><circle cx="474.2" cy="259.36" r="1.05"/><circle cx="475.22" cy="256.2" r="1.05"/><circle cx="478.55" cy="236.38" r="1.05"/><circle cx="463.8" cy="252.97" r="1.05"/><circle cx="482.39" cy="239.14" r="1.05"/><circle cx="463.84" cy="261.68" r="1.05"/><circle cx="490.89" cy="239.22" r="1.05"/><circle cx="458.35" cy="222.69" r="1.05"/><circle cx="477.32" cy="266.83" r="1.05"/><circle cx="468.23" cy="216.41" r="1.05"/><circle cx="466.33" cy="246.14" r="1.05"/><circle cx="480.91" cy="224.14" r="1.05"/><circle cx="457.67" cy="246.87" r="1.05"/><circle cx="461.99" cy="244.3" r="1.05"/><circle cx="452.32" cy="248.16" r="1.05"/><circle cx="478.65" cy="254.88" r="1.05"/><circle cx="483.38" cy="227.23" r="1.05"/><circle cx="479.69" cy="224.35" r="1.05"/><circle cx="458.34" cy="258.63" r="1.05"/><circle cx="484.93" cy="234.19" r="1.05"/><circle cx="475.34" cy="222.66" r="1.05"/><circle cx="451.68" cy="240.31" r="1.05"/><circle cx="468.79" cy="249.19" r="1.05"/><circle cx="457.43" cy="238.49" r="1.05"/><circle cx="474.13" cy="219.12" r="1.05"/><circle cx="481.39" cy="215.62" r="1.05"/><circle cx="462.97" cy="234.34" r="1.05"/><circle cx="468.45" cy="240.73" r="1.05"/><circle cx="462.09" cy="220.42" r="1.05"/><circle cx="489.34" cy="232.3" r="1.05"/><circle cx="432.61" cy="258.28" r="1.05"/><circle cx="457.76" cy="216.67" r="1.05"/><circle cx="484.05" cy="237.22" r="1.05"/><circle cx="479.08" cy="230.52" r="1.05"/><circle cx="467.88" cy="238.33" r="1.05"/><circle cx="456.48" cy="252.2" r="1.05"/><circle cx="466.96" cy="251.15" r="1.05"/><circle cx="474.11" cy="239.63" r="1.05"/><circle cx="457.48" cy="234.24" r="1.05"/><circle cx="458.71" cy="243.16" r="1.05"/><circle cx="456.25" cy="230.65" r="1.05"/><circle cx="470.74" cy="239.13" r="1.05"/><circle cx="466.13" cy="231.04" r="1.05"/><circle cx="462.58" cy="261.51" r="1.05"/><circle cx="492.01" cy="231.5" r="1.05"/><circle cx="479.18" cy="246.3" r="1.05"/><circle cx="447.4" cy="255.15" r="1.05"/><circle cx="476.72" cy="240.81" r="1.05"/><circle cx="466.32" cy="243.66" r="1.05"/><circle cx="447.63" cy="219.55" r="1.05"/><circle cx="455.85" cy="252.16" r="1.05"/><circle cx="453.3" cy="235.76" r="1.05"/><circle cx="485.32" cy="231.74" r="1.05"/><circle cx="474.31" cy="239.44" r="1.05"/><circle cx="486.83" cy="230.76" r="1.05"/><circle cx="474.3" cy="249.74" r="1.05"/><circle cx="485.12" cy="225.43" r="1.05"/><circle cx="462.19" cy="247.25" r="1.05"/><circle cx="474.59" cy="252.38" r="1.05"/><circle cx="470.1" cy="247.3" r="1.05"/><circle cx="454.48" cy="225.47" r="1.05"/><circle cx="454.53" cy="263.1" r="1.05"/><circle cx="488.63" cy="241.95" r="1.05"/><circle cx="483.36" cy="234.49" r="1.05"/><circle cx="455.62" cy="260.41" r="1.05"/><circle cx="465.86" cy="234.15" r="1.05"/><circle cx="459.81" cy="243.8" r="1.05"/><circle cx="457.78" cy="240.91" r="1.05"/><circle cx="470.28" cy="240" r="1.05"/><circle cx="441.07" cy="252.68" r="1.05"/><circle cx="462.91" cy="244.87" r="1.05"/></g>
<path d="M426 244.4L505.6 231.2" stroke="#2b4a8c" stroke-width="1.1" fill="none"/>
<rect x="426" y="192.1" width="79.6" height="78.5" fill="none" stroke="#111" stroke-width="1.4"/>
<text x="420.2" y="273.77" font-size="8.8" text-anchor="end" textLength="4.5" lengthAdjust="spacingAndGlyphs" stroke="#231f20" stroke-width="0.22">0</text>
<text x="420.2" y="247.6" font-size="8.8" text-anchor="end" textLength="11.25" lengthAdjust="spacingAndGlyphs" stroke="#231f20" stroke-width="0.22">2.5</text>
<text x="420.2" y="221.43" font-size="8.8" text-anchor="end" textLength="4.5" lengthAdjust="spacingAndGlyphs" stroke="#231f20" stroke-width="0.22">5</text>
<text x="420.2" y="195.27" font-size="8.8" text-anchor="end" textLength="11.25" lengthAdjust="spacingAndGlyphs" stroke="#231f20" stroke-width="0.22">7.5</text>
<text x="426" y="283.8" font-size="8.8" text-anchor="middle" textLength="4.5" lengthAdjust="spacingAndGlyphs" stroke="#231f20" stroke-width="0.22">0</text>
<text x="445.9" y="283.8" font-size="8.8" text-anchor="middle" textLength="4.5" lengthAdjust="spacingAndGlyphs" stroke="#231f20" stroke-width="0.22">2</text>
<text x="465.8" y="283.8" font-size="8.8" text-anchor="middle" textLength="4.5" lengthAdjust="spacingAndGlyphs" stroke="#231f20" stroke-width="0.22">4</text>
<text x="485.7" y="283.8" font-size="8.8" text-anchor="middle" textLength="4.5" lengthAdjust="spacingAndGlyphs" stroke="#231f20" stroke-width="0.22">6</text>
<text x="505.6" y="283.8" font-size="8.8" text-anchor="middle" textLength="4.5" lengthAdjust="spacingAndGlyphs" stroke="#231f20" stroke-width="0.22">8</text>
<path d="M422.7 270.6H426M422.7 244.43H426M422.7 218.27H426M422.7 192.1H426M426 270.6V273.9M445.9 270.6V273.9M465.8 270.6V273.9M485.7 270.6V273.9M505.6 270.6V273.9" stroke="#231f20" stroke-width="1.2" fill="none"/>
<text x="427" y="183.5" font-size="8.8" textLength="71.8" lengthAdjust="spacingAndGlyphs" stroke="#231f20" stroke-width="0.22">rho = 0.179, P &lt; 0.001</text>
<g fill="#e9a8b5" stroke="#c84a64" stroke-width="0.7"><circle cx="368.75" cy="375.71" r="1.05"/><circle cx="348.52" cy="373.76" r="1.05"/><circle cx="335.29" cy="380.85" r="1.05"/><circle cx="339.25" cy="375.32" r="1.05"/><circle cx="349.18" cy="353.27" r="1.05"/><circle cx="347.13" cy="353.21" r="1.05"/><circle cx="349.53" cy="369.3" r="1.05"/><circle cx="342.09" cy="382.45" r="1.05"/><circle cx="327.13" cy="379.41" r="1.05"/><circle cx="342.55" cy="369.68" r="1.05"/><circle cx="347.96" cy="383.13" r="1.05"/><circle cx="336.58" cy="384.63" r="1.05"/><circle cx="355.18" cy="370" r="1.05"/><circle cx="345.59" cy="381.19" r="1.05"/><circle cx="330.44" cy="382.55" r="1.05"/><circle cx="343.11" cy="367.74" r="1.05"/><circle cx="327.71" cy="375.56" r="1.05"/><circle cx="334.87" cy="381.06" r="1.05"/><circle cx="340.59" cy="378.73" r="1.05"/><circle cx="349.15" cy="357.68" r="1.05"/><circle cx="347.85" cy="377.54" r="1.05"/><circle cx="348.7" cy="366.35" r="1.05"/><circle cx="353.49" cy="365.56" r="1.05"/><circle cx="326.69" cy="384.5" r="1.05"/><circle cx="339.81" cy="362.44" r="1.05"/><circle cx="342.7" cy="361" r="1.05"/><circle cx="347.33" cy="382.85" r="1.05"/><circle cx="344.66" cy="365.71" r="1.05"/><circle cx="348.57" cy="384.46" r="1.05"/><circle cx="348.77" cy="377.68" r="1.05"/><circle cx="321.35" cy="384.43" r="1.05"/><circle cx="322.84" cy="387.81" r="1.05"/><circle cx="342.88" cy="371.57" r="1.05"/><circle cx="351.06" cy="383.21" r="1.05"/><circle cx="364.51" cy="367.47" r="1.05"/><circle cx="357.89" cy="371.66" r="1.05"/><circle cx="363.13" cy="365.56" r="1.05"/><circle cx="328.07" cy="340.66" r="1.05"/><circle cx="339.79" cy="368.32" r="1.05"/><circle cx="355.86" cy="358.84" r="1.05"/><circle cx="353.35" cy="322.42" r="1.05"/><circle cx="346.03" cy="365.31" r="1.05"/><circle cx="338.36" cy="375.74" r="1.05"/><circle cx="325.6" cy="382.63" r="1.05"/><circle cx="344.72" cy="355.63" r="1.05"/><circle cx="354.61" cy="375.61" r="1.05"/><circle cx="332.19" cy="349.04" r="1.05"/><circle cx="354.03" cy="385.86" r="1.05"/><circle cx="340.62" cy="382.37" r="1.05"/><circle cx="337.7" cy="387.57" r="1.05"/><circle cx="339.76" cy="379.59" r="1.05"/><circle cx="341.78" cy="358.7" r="1.05"/><circle cx="346.84" cy="383.11" r="1.05"/><circle cx="325.4" cy="383.24" r="1.05"/><circle cx="356.98" cy="350.33" r="1.05"/><circle cx="337.98" cy="358.67" r="1.05"/><circle cx="349.18" cy="377.55" r="1.05"/><circle cx="349.17" cy="371.85" r="1.05"/><circle cx="332.26" cy="380.85" r="1.05"/><circle cx="346.26" cy="349.54" r="1.05"/><circle cx="333.15" cy="374.26" r="1.05"/><circle cx="344.75" cy="373.18" r="1.05"/><circle cx="331.14" cy="360.74" r="1.05"/><circle cx="358.8" cy="330.22" r="1.05"/><circle cx="349.71" cy="342.47" r="1.05"/><circle cx="350.5" cy="353.32" r="1.05"/><circle cx="340.93" cy="371.32" r="1.05"/><circle cx="341.03" cy="383.2" r="1.05"/><circle cx="339.83" cy="383.9" r="1.05"/><circle cx="332.35" cy="380.4" r="1.05"/><circle cx="337.99" cy="336.57" r="1.05"/><circle cx="364.16" cy="340.17" r="1.05"/><circle cx="353.36" cy="378.48" r="1.05"/><circle cx="347.71" cy="384.28" r="1.05"/><circle cx="337.74" cy="379.67" r="1.05"/><circle cx="340.63" cy="361.98" r="1.05"/><circle cx="335.99" cy="327.42" r="1.05"/><circle cx="339.04" cy="362.99" r="1.05"/><circle cx="327.26" cy="368.02" r="1.05"/><circle cx="331.14" cy="375.23" r="1.05"/><circle cx="344.63" cy="360.25" r="1.05"/><circle cx="351.45" cy="363.83" r="1.05"/><circle cx="343.07" cy="334.44" r="1.05"/><circle cx="339.63" cy="374.19" r="1.05"/><circle cx="339.52" cy="372.8" r="1.05"/><circle cx="334.09" cy="380.05" r="1.05"/><circle cx="350.29" cy="376.74" r="1.05"/><circle cx="349.84" cy="376.94" r="1.05"/><circle cx="360.41" cy="367.37" r="1.05"/><circle cx="364.14" cy="354.11" r="1.05"/><circle cx="343.27" cy="358.7" r="1.05"/><circle cx="357.59" cy="332.96" r="1.05"/><circle cx="360.09" cy="348.16" r="1.05"/><circle cx="331.82" cy="365.4" r="1.05"/><circle cx="343.76" cy="367.44" r="1.05"/><circle cx="358.72" cy="375.32" r="1.05"/><circle cx="359.45" cy="322.42" r="1.05"/><circle cx="345.83" cy="369.41" r="1.05"/><circle cx="340.34" cy="377.49" r="1.05"/><circle cx="343.54" cy="382.85" r="1.05"/><circle cx="341.31" cy="384.23" r="1.05"/><circle cx="347.58" cy="386.37" r="1.05"/><circle cx="333.22" cy="383.04" r="1.05"/><circle cx="342.21" cy="366.93" r="1.05"/><circle cx="363.03" cy="340.48" r="1.05"/><circle cx="348.09" cy="354" r="1.05"/><circle cx="338.73" cy="355.1" r="1.05"/><circle cx="323.69" cy="382.49" r="1.05"/><circle cx="335.37" cy="371.39" r="1.05"/><circle cx="334.39" cy="386.05" r="1.05"/><circle cx="353.4" cy="373.39" r="1.05"/><circle cx="368.37" cy="382.23" r="1.05"/><circle cx="350.68" cy="370.43" r="1.05"/><circle cx="331.14" cy="361.51" r="1.05"/><circle cx="346.46" cy="374.36" r="1.05"/><circle cx="331.02" cy="364.81" r="1.05"/><circle cx="345.65" cy="383.18" r="1.05"/><circle cx="347.69" cy="354.77" r="1.05"/><circle cx="353.86" cy="363.49" r="1.05"/><circle cx="326.61" cy="369.31" r="1.05"/><circle cx="335.33" cy="380.65" r="1.05"/><circle cx="345.18" cy="358.76" r="1.05"/><circle cx="339.25" cy="382.69" r="1.05"/><circle cx="354.4" cy="332.27" r="1.05"/><circle cx="319.4" cy="387.74" r="1.05"/><circle cx="330.01" cy="380.18" r="1.05"/><circle cx="331.44" cy="370.1" r="1.05"/><circle cx="371.95" cy="377.33" r="1.05"/><circle cx="338.76" cy="382.42" r="1.05"/><circle cx="364.34" cy="348.28" r="1.05"/><circle cx="336.58" cy="367.53" r="1.05"/><circle cx="347.65" cy="369.77" r="1.05"/><circle cx="321.95" cy="357.12" r="1.05"/><circle cx="343.92" cy="385.56" r="1.05"/><circle cx="340.65" cy="380.41" r="1.05"/><circle cx="352.23" cy="347.07" r="1.05"/><circle cx="358.4" cy="357.17" r="1.05"/><circle cx="331.27" cy="378.06" r="1.05"/><circle cx="347.91" cy="367.35" r="1.05"/><circle cx="338.87" cy="373.33" r="1.05"/><circle cx="338.99" cy="380.63" r="1.05"/><circle cx="331.67" cy="385.45" r="1.05"/><circle cx="334.34" cy="382.49" r="1.05"/><circle cx="348.23" cy="356.77" r="1.05"/><circle cx="353.53" cy="369.87" r="1.05"/><circle cx="342.2" cy="355.44" r="1.05"/><circle cx="326.34" cy="382.52" r="1.05"/><circle cx="337.04" cy="324" r="1.05"/><circle cx="364.15" cy="358.74" r="1.05"/><circle cx="323.56" cy="385.64" r="1.05"/><circle cx="354.54" cy="343.4" r="1.05"/><circle cx="360.33" cy="371.78" r="1.05"/><circle cx="363.75" cy="328.19" r="1.05"/><circle cx="350.16" cy="371.08" r="1.05"/><circle cx="347.02" cy="375.37" r="1.05"/><circle cx="361.99" cy="346.88" r="1.05"/><circle cx="339.76" cy="390.06" r="1.05"/><circle cx="336.06" cy="382.93" r="1.05"/><circle cx="342.96" cy="351.67" r="1.05"/><circle cx="360.75" cy="365.92" r="1.05"/><circle cx="350.1" cy="375.43" r="1.05"/><circle cx="343.26" cy="385.93" r="1.05"/><circle cx="363.29" cy="347.61" r="1.05"/><circle cx="348.38" cy="361.26" r="1.05"/><circle cx="359.93" cy="355.47" r="1.05"/><circle cx="351.7" cy="384.06" r="1.05"/><circle cx="331.98" cy="381.5" r="1.05"/><circle cx="349.57" cy="383.13" r="1.05"/><circle cx="357.49" cy="337.48" r="1.05"/><circle cx="336.12" cy="360.88" r="1.05"/><circle cx="321.26" cy="381.29" r="1.05"/><circle cx="326.48" cy="366.77" r="1.05"/><circle cx="353.43" cy="361.65" r="1.05"/><circle cx="337.71" cy="384.66" r="1.05"/><circle cx="348.64" cy="377.18" r="1.05"/><circle cx="351.47" cy="384.77" r="1.05"/><circle cx="348.69" cy="364.37" r="1.05"/><circle cx="319.04" cy="388.5" r="1.05"/><circle cx="336.18" cy="381.54" r="1.05"/><circle cx="324.98" cy="379.58" r="1.05"/><circle cx="331.46" cy="378.54" r="1.05"/><circle cx="323.74" cy="387.48" r="1.05"/><circle cx="351.47" cy="385.55" r="1.05"/><circle cx="343.43" cy="350.08" r="1.05"/><circle cx="352.68" cy="382.9" r="1.05"/><circle cx="368.21" cy="370.77" r="1.05"/><circle cx="354.03" cy="353.21" r="1.05"/><circle cx="340.28" cy="367.08" r="1.05"/><circle cx="313.48" cy="382.05" r="1.05"/><circle cx="345.51" cy="376.83" r="1.05"/><circle cx="345.09" cy="357.09" r="1.05"/><circle cx="354.08" cy="376.8" r="1.05"/><circle cx="352.41" cy="349.76" r="1.05"/><circle cx="344.99" cy="368.41" r="1.05"/><circle cx="316.86" cy="389.97" r="1.05"/><circle cx="347.84" cy="385.07" r="1.05"/><circle cx="353.03" cy="349.6" r="1.05"/><circle cx="332.87" cy="385.97" r="1.05"/><circle cx="341.51" cy="372.12" r="1.05"/><circle cx="352.69" cy="373.14" r="1.05"/><circle cx="344.05" cy="382.71" r="1.05"/><circle cx="346.76" cy="380.38" r="1.05"/><circle cx="354.64" cy="358.35" r="1.05"/><circle cx="325.63" cy="376.62" r="1.05"/><circle cx="331.56" cy="366.68" r="1.05"/><circle cx="332.23" cy="361.59" r="1.05"/><circle cx="355.3" cy="325.1" r="1.05"/><circle cx="347.2" cy="372.08" r="1.05"/><circle cx="356.93" cy="381.32" r="1.05"/><circle cx="343.12" cy="377.49" r="1.05"/><circle cx="342.91" cy="386.48" r="1.05"/><circle cx="325.12" cy="389.55" r="1.05"/><circle cx="359.63" cy="371.82" r="1.05"/><circle cx="350.39" cy="372.95" r="1.05"/><circle cx="340.91" cy="355.62" r="1.05"/><circle cx="318.1" cy="383.33" r="1.05"/><circle cx="334.9" cy="384.27" r="1.05"/><circle cx="325.79" cy="388.83" r="1.05"/><circle cx="330.35" cy="365.51" r="1.05"/><circle cx="335.94" cy="380.86" r="1.05"/><circle cx="341.58" cy="367.02" r="1.05"/><circle cx="354.85" cy="366.88" r="1.05"/><circle cx="343.54" cy="367.51" r="1.05"/><circle cx="334.78" cy="374.93" r="1.05"/><circle cx="362.02" cy="374.58" r="1.05"/><circle cx="334.13" cy="387.68" r="1.05"/><circle cx="344.1" cy="365.76" r="1.05"/><circle cx="338.86" cy="378.9" r="1.05"/><circle cx="356.43" cy="368.43" r="1.05"/><circle cx="351.16" cy="375.33" r="1.05"/><circle cx="357.75" cy="352.2" r="1.05"/><circle cx="341.98" cy="380.26" r="1.05"/><circle cx="371.39" cy="375.7" r="1.05"/><circle cx="333.05" cy="391.17" r="1.05"/><circle cx="351.12" cy="370.26" r="1.05"/><circle cx="342.7" cy="386.18" r="1.05"/><circle cx="343.8" cy="381.24" r="1.05"/><circle cx="330.86" cy="380.29" r="1.05"/><circle cx="347.04" cy="374.32" r="1.05"/><circle cx="338.18" cy="366.83" r="1.05"/><circle cx="346.35" cy="376.83" r="1.05"/><circle cx="349.97" cy="367.4" r="1.05"/><circle cx="353.69" cy="356.41" r="1.05"/><circle cx="351.77" cy="377.22" r="1.05"/><circle cx="358.09" cy="349.62" r="1.05"/><circle cx="337.85" cy="358.42" r="1.05"/><circle cx="344.76" cy="382.47" r="1.05"/><circle cx="343.34" cy="384.59" r="1.05"/><circle cx="356.04" cy="381.63" r="1.05"/><circle cx="359.72" cy="377.23" r="1.05"/><circle cx="342.33" cy="354.9" r="1.05"/><circle cx="347.62" cy="385.8" r="1.05"/><circle cx="342.34" cy="387.54" r="1.05"/><circle cx="351.12" cy="380.99" r="1.05"/><circle cx="342.85" cy="375.46" r="1.05"/><circle cx="327.44" cy="375.97" r="1.05"/><circle cx="363.18" cy="376.52" r="1.05"/><circle cx="337.58" cy="371.75" r="1.05"/><circle cx="357.02" cy="378.07" r="1.05"/><circle cx="346.03" cy="368.22" r="1.05"/><circle cx="355.31" cy="378.09" r="1.05"/><circle cx="346.02" cy="386.47" r="1.05"/><circle cx="344.44" cy="352.29" r="1.05"/><circle cx="352.03" cy="346.47" r="1.05"/><circle cx="327.17" cy="370.57" r="1.05"/><circle cx="350.5" cy="363.04" r="1.05"/><circle cx="344.47" cy="371.81" r="1.05"/><circle cx="321.52" cy="362.81" r="1.05"/><circle cx="349.54" cy="375.66" r="1.05"/><circle cx="348.79" cy="377.41" r="1.05"/><circle cx="345.96" cy="346.32" r="1.05"/><circle cx="342.93" cy="363.95" r="1.05"/><circle cx="350.82" cy="364.99" r="1.05"/><circle cx="337.6" cy="376.63" r="1.05"/><circle cx="344.78" cy="373.04" r="1.05"/><circle cx="332.54" cy="360.65" r="1.05"/><circle cx="356.09" cy="364.66" r="1.05"/><circle cx="339.14" cy="359.63" r="1.05"/><circle cx="341.85" cy="376.46" r="1.05"/><circle cx="350.74" cy="376.5" r="1.05"/><circle cx="345.75" cy="377.48" r="1.05"/><circle cx="350.92" cy="364.22" r="1.05"/><circle cx="352.1" cy="363.36" r="1.05"/><circle cx="347.93" cy="366.33" r="1.05"/><circle cx="352.98" cy="379.43" r="1.05"/><circle cx="331.87" cy="376.53" r="1.05"/><circle cx="346.19" cy="374.86" r="1.05"/><circle cx="360.54" cy="357.77" r="1.05"/><circle cx="357.95" cy="365.49" r="1.05"/><circle cx="329.83" cy="386.97" r="1.05"/><circle cx="356.07" cy="367.14" r="1.05"/><circle cx="339.37" cy="355.77" r="1.05"/><circle cx="362.92" cy="357.63" r="1.05"/><circle cx="358.28" cy="370.79" r="1.05"/><circle cx="334.47" cy="387.5" r="1.05"/><circle cx="356.22" cy="382.87" r="1.05"/><circle cx="340.26" cy="373.49" r="1.05"/><circle cx="350.76" cy="385.88" r="1.05"/><circle cx="342.05" cy="381.1" r="1.05"/><circle cx="360.07" cy="368.43" r="1.05"/><circle cx="337.58" cy="348.14" r="1.05"/><circle cx="346.26" cy="360.62" r="1.05"/><circle cx="348" cy="373.12" r="1.05"/><circle cx="352.48" cy="377.32" r="1.05"/><circle cx="329.82" cy="382.88" r="1.05"/><circle cx="351.27" cy="374.35" r="1.05"/><circle cx="355.91" cy="355.98" r="1.05"/><circle cx="346.81" cy="354.42" r="1.05"/><circle cx="348.61" cy="366.74" r="1.05"/><circle cx="341.68" cy="374.84" r="1.05"/><circle cx="343.81" cy="357.42" r="1.05"/><circle cx="361.37" cy="343.71" r="1.05"/><circle cx="347.22" cy="372.94" r="1.05"/><circle cx="347.33" cy="377.5" r="1.05"/><circle cx="344.44" cy="376.15" r="1.05"/><circle cx="344.22" cy="389.01" r="1.05"/><circle cx="344.56" cy="363.81" r="1.05"/><circle cx="333.23" cy="350.37" r="1.05"/><circle cx="346.15" cy="377.78" r="1.05"/><circle cx="359.61" cy="377.12" r="1.05"/><circle cx="373.32" cy="369.23" r="1.05"/><circle cx="354.57" cy="340.71" r="1.05"/><circle cx="352.02" cy="367.68" r="1.05"/><circle cx="337.15" cy="376.7" r="1.05"/><circle cx="346.98" cy="356.62" r="1.05"/><circle cx="321.2" cy="374.59" r="1.05"/><circle cx="332.74" cy="381.86" r="1.05"/><circle cx="343.58" cy="379.09" r="1.05"/><circle cx="351.06" cy="384.38" r="1.05"/><circle cx="349.66" cy="380.52" r="1.05"/><circle cx="340.76" cy="374.82" r="1.05"/><circle cx="329.71" cy="373.62" r="1.05"/><circle cx="367.15" cy="371.17" r="1.05"/><circle cx="335.14" cy="354.38" r="1.05"/><circle cx="362.24" cy="384.59" r="1.05"/><circle cx="340.79" cy="381.28" r="1.05"/><circle cx="346.33" cy="373.06" r="1.05"/><circle cx="333.87" cy="380.28" r="1.05"/><circle cx="356.26" cy="378.05" r="1.05"/><circle cx="346.96" cy="362.96" r="1.05"/><circle cx="362.8" cy="357.13" r="1.05"/><circle cx="347.14" cy="380.7" r="1.05"/><circle cx="347.25" cy="349.19" r="1.05"/><circle cx="349.45" cy="350" r="1.05"/><circle cx="339.6" cy="364.35" r="1.05"/><circle cx="341.94" cy="380.14" r="1.05"/><circle cx="338.02" cy="358.44" r="1.05"/><circle cx="350.79" cy="372.21" r="1.05"/><circle cx="341.9" cy="362.82" r="1.05"/><circle cx="339.9" cy="358.43" r="1.05"/><circle cx="347.91" cy="377.21" r="1.05"/><circle cx="342.67" cy="382.53" r="1.05"/><circle cx="333.27" cy="380.92" r="1.05"/><circle cx="339.43" cy="378.03" r="1.05"/><circle cx="336.64" cy="381.29" r="1.05"/><circle cx="348.08" cy="383.17" r="1.05"/><circle cx="317.85" cy="361.6" r="1.05"/><circle cx="345.73" cy="369.84" r="1.05"/><circle cx="356.95" cy="346.08" r="1.05"/><circle cx="359.93" cy="348.05" r="1.05"/><circle cx="352.78" cy="361.93" r="1.05"/><circle cx="343.32" cy="374.34" r="1.05"/><circle cx="326.53" cy="360.27" r="1.05"/><circle cx="326.78" cy="384.18" r="1.05"/><circle cx="338.96" cy="363.32" r="1.05"/><circle cx="339.26" cy="386.59" r="1.05"/><circle cx="342.73" cy="378.45" r="1.05"/><circle cx="336.48" cy="370.36" r="1.05"/><circle cx="345.57" cy="364.97" r="1.05"/><circle cx="344.87" cy="377.97" r="1.05"/><circle cx="343.64" cy="370.68" r="1.05"/><circle cx="340.63" cy="384.9" r="1.05"/><circle cx="368.64" cy="332.94" r="1.05"/><circle cx="363.2" cy="364.42" r="1.05"/><circle cx="350.81" cy="383.57" r="1.05"/><circle cx="353.62" cy="366.77" r="1.05"/><circle cx="345.13" cy="369.33" r="1.05"/><circle cx="335.47" cy="383.97" r="1.05"/><circle cx="333.13" cy="358.79" r="1.05"/><circle cx="345.82" cy="359.52" r="1.05"/><circle cx="350.97" cy="362.23" r="1.05"/><circle cx="352.48" cy="379.16" r="1.05"/><circle cx="343.1" cy="387.86" r="1.05"/><circle cx="339.73" cy="381.61" r="1.05"/><circle cx="349.33" cy="371.32" r="1.05"/><circle cx="325.43" cy="366.15" r="1.05"/><circle cx="340.7" cy="381.6" r="1.05"/><circle cx="353.55" cy="383.14" r="1.05"/><circle cx="343.5" cy="380.3" r="1.05"/><circle cx="338.12" cy="385.25" r="1.05"/><circle cx="351.99" cy="379.95" r="1.05"/><circle cx="360.75" cy="374" r="1.05"/><circle cx="348.57" cy="347.87" r="1.05"/><circle cx="349.97" cy="345.85" r="1.05"/><circle cx="350.11" cy="385.94" r="1.05"/><circle cx="334.7" cy="363.37" r="1.05"/><circle cx="346.09" cy="356.37" r="1.05"/><circle cx="328.89" cy="371.35" r="1.05"/><circle cx="338.45" cy="374.87" r="1.05"/><circle cx="337.1" cy="383.28" r="1.05"/><circle cx="333.17" cy="378.01" r="1.05"/><circle cx="355.65" cy="379.52" r="1.05"/><circle cx="338.12" cy="383.28" r="1.05"/><circle cx="335.5" cy="368.16" r="1.05"/><circle cx="339.85" cy="382.65" r="1.05"/><circle cx="351.96" cy="364.73" r="1.05"/><circle cx="348.23" cy="369.35" r="1.05"/><circle cx="338.17" cy="364.72" r="1.05"/><circle cx="337.86" cy="372.7" r="1.05"/><circle cx="346.21" cy="353.88" r="1.05"/><circle cx="342.8" cy="362.25" r="1.05"/><circle cx="326.33" cy="377.68" r="1.05"/><circle cx="346.63" cy="370.61" r="1.05"/><circle cx="322.92" cy="372.61" r="1.05"/><circle cx="337.88" cy="381.19" r="1.05"/><circle cx="361.24" cy="368.43" r="1.05"/><circle cx="354.56" cy="384.34" r="1.05"/><circle cx="351.95" cy="366.86" r="1.05"/><circle cx="347.72" cy="380.69" r="1.05"/><circle cx="348.36" cy="373.41" r="1.05"/><circle cx="359.07" cy="372.84" r="1.05"/><circle cx="327.41" cy="366.47" r="1.05"/><circle cx="333.07" cy="378.71" r="1.05"/><circle cx="352.65" cy="335.33" r="1.05"/><circle cx="350.56" cy="359.15" r="1.05"/><circle cx="346.61" cy="370.2" r="1.05"/><circle cx="343.98" cy="368.76" r="1.05"/><circle cx="335" cy="373.83" r="1.05"/><circle cx="357.11" cy="364.76" r="1.05"/><circle cx="343.14" cy="362.83" r="1.05"/><circle cx="335.4" cy="377.87" r="1.05"/><circle cx="368.84" cy="343.57" r="1.05"/><circle cx="352.88" cy="370.43" r="1.05"/><circle cx="337.09" cy="384.23" r="1.05"/><circle cx="345.06" cy="351.22" r="1.05"/><circle cx="344.09" cy="360.71" r="1.05"/><circle cx="341.75" cy="372.28" r="1.05"/><circle cx="350.69" cy="377.65" r="1.05"/><circle cx="354.41" cy="376.13" r="1.05"/><circle cx="349.07" cy="374.99" r="1.05"/><circle cx="336.99" cy="368.09" r="1.05"/><circle cx="349.29" cy="386.7" r="1.05"/><circle cx="352.36" cy="356.06" r="1.05"/><circle cx="346.83" cy="366.88" r="1.05"/><circle cx="347.88" cy="366.97" r="1.05"/><circle cx="341.22" cy="358.66" r="1.05"/><circle cx="358.1" cy="376.34" r="1.05"/><circle cx="345.61" cy="380.69" r="1.05"/><circle cx="340.01" cy="360.8" r="1.05"/><circle cx="345.18" cy="369.42" r="1.05"/><circle cx="340.94" cy="326.36" r="1.05"/><circle cx="357.27" cy="360.55" r="1.05"/><circle cx="347.05" cy="338.35" r="1.05"/><circle cx="357.68" cy="361.89" r="1.05"/><circle cx="343.03" cy="382.84" r="1.05"/><circle cx="359.21" cy="327.08" r="1.05"/><circle cx="369.84" cy="354.49" r="1.05"/><circle cx="354.4" cy="385.41" r="1.05"/><circle cx="351.94" cy="377.35" r="1.05"/><circle cx="336.26" cy="382.32" r="1.05"/><circle cx="335.71" cy="380.12" r="1.05"/><circle cx="350.69" cy="377.36" r="1.05"/><circle cx="341.12" cy="375.11" r="1.05"/><circle cx="366.23" cy="346.44" r="1.05"/><circle cx="338.34" cy="364.54" r="1.05"/><circle cx="362.44" cy="366.23" r="1.05"/><circle cx="352.63" cy="350.24" r="1.05"/><circle cx="330.08" cy="375.93" r="1.05"/><circle cx="343.69" cy="361.01" r="1.05"/><circle cx="358.83" cy="372.08" r="1.05"/><circle cx="328.96" cy="381.74" r="1.05"/><circle cx="345.03" cy="378.61" r="1.05"/><circle cx="347.53" cy="381.96" r="1.05"/><circle cx="350.54" cy="358.5" r="1.05"/><circle cx="366.09" cy="363.85" r="1.05"/><circle cx="355.56" cy="375.7" r="1.05"/><circle cx="337.72" cy="381.65" r="1.05"/><circle cx="343.64" cy="383.6" r="1.05"/><circle cx="326.04" cy="344.55" r="1.05"/><circle cx="341.79" cy="373.32" r="1.05"/></g>
<path d="M307.7 388.7L387.5 352.7" stroke="#2b4a8c" stroke-width="1.1" fill="none"/>
<rect x="307.7" y="318.5" width="79.8" height="78.4" fill="none" stroke="#111" stroke-width="1.4"/>
<text x="301.9" y="400.07" font-size="8.8" text-anchor="end" textLength="4.5" lengthAdjust="spacingAndGlyphs" stroke="#231f20" stroke-width="0.22">0</text>
<text x="301.9" y="373.93" font-size="8.8" text-anchor="end" textLength="4.5" lengthAdjust="spacingAndGlyphs" stroke="#231f20" stroke-width="0.22">1</text>
<text x="301.9" y="347.8" font-size="8.8" text-anchor="end" textLength="4.5" lengthAdjust="spacingAndGlyphs" stroke="#231f20" stroke-width="0.22">2</text>
<text x="301.9" y="321.67" font-size="8.8" text-anchor="end" textLength="4.5" lengthAdjust="spacingAndGlyphs" stroke="#231f20" stroke-width="0.22">3</text>
<text x="307.7" y="410.1" font-size="8.8" text-anchor="middle" textLength="11.25" lengthAdjust="spacingAndGlyphs" stroke="#231f20" stroke-width="0.22">3.1</text>
<text x="334.3" y="410.1" font-size="8.8" text-anchor="middle" textLength="11.25" lengthAdjust="spacingAndGlyphs" stroke="#231f20" stroke-width="0.22">3.5</text>
<text x="360.9" y="410.1" font-size="8.8" text-anchor="middle" textLength="11.25" lengthAdjust="spacingAndGlyphs" stroke="#231f20" stroke-width="0.22">3.9</text>
<text x="387.5" y="410.1" font-size="8.8" text-anchor="middle" textLength="11.25" lengthAdjust="spacingAndGlyphs" stroke="#231f20" stroke-width="0.22">4.3</text>
<path d="M304.4 396.9H307.7M304.4 370.77H307.7M304.4 344.63H307.7M304.4 318.5H307.7M307.7 396.9V400.2M334.3 396.9V400.2M360.9 396.9V400.2M387.5 396.9V400.2" stroke="#231f20" stroke-width="1.2" fill="none"/>
<text x="309" y="310" font-size="8.8" textLength="71.4" lengthAdjust="spacingAndGlyphs" stroke="#231f20" stroke-width="0.22">rho = 0.337, P &lt; 0.001</text>
<g fill="#e9a8b5" stroke="#c84a64" stroke-width="0.7"><circle cx="461.54" cy="387.77" r="1.05"/><circle cx="464.88" cy="377.15" r="1.05"/><circle cx="468.18" cy="378.14" r="1.05"/><circle cx="461.76" cy="386.2" r="1.05"/><circle cx="469.29" cy="382.05" r="1.05"/><circle cx="495.32" cy="385.26" r="1.05"/><circle cx="480.35" cy="354" r="1.05"/><circle cx="489.84" cy="370.54" r="1.05"/><circle cx="456.64" cy="371.98" r="1.05"/><circle cx="473.41" cy="371.92" r="1.05"/><circle cx="469.57" cy="387.1" r="1.05"/><circle cx="474.58" cy="358.05" r="1.05"/><circle cx="461.86" cy="355.86" r="1.05"/><circle cx="448.01" cy="354.88" r="1.05"/><circle cx="478.6" cy="373.64" r="1.05"/><circle cx="471.97" cy="373.66" r="1.05"/><circle cx="484.69" cy="350.63" r="1.05"/><circle cx="475.61" cy="385.48" r="1.05"/><circle cx="495.36" cy="363.76" r="1.05"/><circle cx="465.43" cy="343.01" r="1.05"/><circle cx="473.29" cy="372.91" r="1.05"/><circle cx="459.73" cy="374.27" r="1.05"/><circle cx="477.7" cy="353.43" r="1.05"/><circle cx="449.76" cy="390.77" r="1.05"/><circle cx="479" cy="353.21" r="1.05"/><circle cx="491.49" cy="364.17" r="1.05"/><circle cx="457.62" cy="376.62" r="1.05"/><circle cx="460.42" cy="379.84" r="1.05"/><circle cx="455.33" cy="384.8" r="1.05"/><circle cx="448.56" cy="362.95" r="1.05"/><circle cx="454.91" cy="367.95" r="1.05"/><circle cx="472.98" cy="377.85" r="1.05"/><circle cx="474.97" cy="348.03" r="1.05"/><circle cx="441.79" cy="370.1" r="1.05"/><circle cx="467.88" cy="357.07" r="1.05"/><circle cx="482.05" cy="361.14" r="1.05"/><circle cx="461.97" cy="359.05" r="1.05"/><circle cx="468.13" cy="375.19" r="1.05"/><circle cx="489.7" cy="366.1" r="1.05"/><circle cx="474.3" cy="381.71" r="1.05"/><circle cx="455.11" cy="380.15" r="1.05"/><circle cx="459.97" cy="369.13" r="1.05"/><circle cx="463.99" cy="362.07" r="1.05"/><circle cx="452.14" cy="345.69" r="1.05"/><circle cx="473.76" cy="383.31" r="1.05"/><circle cx="478.59" cy="367.41" r="1.05"/><circle cx="447.19" cy="381.24" r="1.05"/><circle cx="450.56" cy="368.83" r="1.05"/><circle cx="476.89" cy="374.63" r="1.05"/><circle cx="450.42" cy="361.86" r="1.05"/><circle cx="458.49" cy="351.78" r="1.05"/><circle cx="465.59" cy="371.35" r="1.05"/><circle cx="462.7" cy="372.63" r="1.05"/><circle cx="473.61" cy="386.41" r="1.05"/><circle cx="438.45" cy="382.74" r="1.05"/><circle cx="471.27" cy="353.4" r="1.05"/><circle cx="469.77" cy="367.75" r="1.05"/><circle cx="469.85" cy="374.91" r="1.05"/><circle cx="484.08" cy="373.35" r="1.05"/><circle cx="466.44" cy="375.94" r="1.05"/><circle cx="488.46" cy="377.15" r="1.05"/><circle cx="474.82" cy="364.24" r="1.05"/><circle cx="478.24" cy="352.67" r="1.05"/><circle cx="489.74" cy="347.57" r="1.05"/><circle cx="446.06" cy="377.65" r="1.05"/><circle cx="467.2" cy="346.56" r="1.05"/><circle cx="448.5" cy="372.96" r="1.05"/><circle cx="432.08" cy="361.71" r="1.05"/><circle cx="482.76" cy="383.07" r="1.05"/><circle cx="462.87" cy="366.4" r="1.05"/><circle cx="472.01" cy="364.56" r="1.05"/><circle cx="478.9" cy="370.72" r="1.05"/><circle cx="474.75" cy="376.1" r="1.05"/><circle cx="460.09" cy="379.46" r="1.05"/><circle cx="459.67" cy="348.78" r="1.05"/><circle cx="441.65" cy="388.46" r="1.05"/><circle cx="468.66" cy="359.94" r="1.05"/><circle cx="476.71" cy="365.37" r="1.05"/><circle cx="485.6" cy="368.33" r="1.05"/><circle cx="455.22" cy="374.19" r="1.05"/><circle cx="469.09" cy="385.06" r="1.05"/><circle cx="470.19" cy="367.98" r="1.05"/><circle cx="479.66" cy="332.82" r="1.05"/><circle cx="466.72" cy="379.71" r="1.05"/><circle cx="468.97" cy="358.67" r="1.05"/><circle cx="457.84" cy="386.47" r="1.05"/><circle cx="468.7" cy="358.07" r="1.05"/><circle cx="477.43" cy="372.55" r="1.05"/><circle cx="455.64" cy="383.64" r="1.05"/><circle cx="479.86" cy="373.23" r="1.05"/><circle cx="471.25" cy="333.36" r="1.05"/><circle cx="483.67" cy="371.53" r="1.05"/><circle cx="464.87" cy="368.3" r="1.05"/><circle cx="438" cy="371.73" r="1.05"/><circle cx="458.3" cy="363.39" r="1.05"/><circle cx="458.35" cy="377.81" r="1.05"/><circle cx="480.88" cy="354.54" r="1.05"/><circle cx="495.44" cy="368.48" r="1.05"/><circle cx="459.96" cy="346.05" r="1.05"/><circle cx="476.87" cy="381.2" r="1.05"/><circle cx="461.95" cy="367.29" r="1.05"/><circle cx="461.7" cy="385.73" r="1.05"/><circle cx="469.53" cy="363.93" r="1.05"/><circle cx="487.51" cy="338.96" r="1.05"/><circle cx="480.43" cy="377.34" r="1.05"/><circle cx="451.05" cy="384.66" r="1.05"/><circle cx="477.11" cy="351.24" r="1.05"/><circle cx="441.16" cy="372.42" r="1.05"/><circle cx="481.69" cy="330.34" r="1.05"/><circle cx="479.78" cy="348.27" r="1.05"/><circle cx="472.1" cy="373.82" r="1.05"/><circle cx="466.48" cy="372.42" r="1.05"/><circle cx="451.75" cy="377.25" r="1.05"/><circle cx="483.35" cy="370.87" r="1.05"/><circle cx="486.77" cy="376.51" r="1.05"/><circle cx="474.84" cy="378.5" r="1.05"/><circle cx="484.15" cy="351.83" r="1.05"/><circle cx="482.66" cy="350.33" r="1.05"/><circle cx="475.95" cy="346.74" r="1.05"/><circle cx="471.42" cy="389.52" r="1.05"/><circle cx="470.4" cy="362.69" r="1.05"/><circle cx="434.71" cy="365.89" r="1.05"/><circle cx="467.33" cy="353.85" r="1.05"/><circle cx="464.13" cy="370.23" r="1.05"/><circle cx="456.23" cy="377.55" r="1.05"/><circle cx="445.35" cy="375.09" r="1.05"/><circle cx="462.6" cy="380.05" r="1.05"/><circle cx="457.42" cy="383.56" r="1.05"/><circle cx="467.9" cy="373.09" r="1.05"/><circle cx="463.77" cy="348.4" r="1.05"/><circle cx="452.35" cy="380.26" r="1.05"/><circle cx="448.8" cy="379.62" r="1.05"/><circle cx="465.45" cy="387.45" r="1.05"/><circle cx="473.17" cy="387.72" r="1.05"/><circle cx="460.19" cy="377.28" r="1.05"/><circle cx="448.86" cy="356.81" r="1.05"/><circle cx="470.47" cy="383.93" r="1.05"/><circle cx="473.52" cy="364.14" r="1.05"/><circle cx="459.66" cy="382.33" r="1.05"/><circle cx="485.17" cy="374.3" r="1.05"/><circle cx="490.91" cy="370.89" r="1.05"/><circle cx="470.82" cy="360.88" r="1.05"/><circle cx="477.47" cy="378.18" r="1.05"/><circle cx="444.69" cy="378.64" r="1.05"/><circle cx="450.06" cy="384.53" r="1.05"/><circle cx="456.71" cy="376.43" r="1.05"/><circle cx="466.51" cy="377.96" r="1.05"/><circle cx="463.76" cy="387.03" r="1.05"/><circle cx="468.39" cy="371.28" r="1.05"/><circle cx="475.47" cy="373.76" r="1.05"/><circle cx="456.51" cy="377.11" r="1.05"/><circle cx="474.8" cy="360.86" r="1.05"/><circle cx="491.94" cy="345.92" r="1.05"/><circle cx="470.78" cy="386" r="1.05"/><circle cx="475.22" cy="358.49" r="1.05"/><circle cx="489.96" cy="340.48" r="1.05"/><circle cx="501.31" cy="365.78" r="1.05"/><circle cx="478.39" cy="380.88" r="1.05"/><circle cx="460.92" cy="374.07" r="1.05"/><circle cx="486.74" cy="360.93" r="1.05"/><circle cx="439.3" cy="381.75" r="1.05"/><circle cx="463.16" cy="345.69" r="1.05"/><circle cx="455.76" cy="381.24" r="1.05"/><circle cx="461.49" cy="369.34" r="1.05"/><circle cx="474.89" cy="359.34" r="1.05"/><circle cx="493.47" cy="365.06" r="1.05"/><circle cx="491.17" cy="362.31" r="1.05"/><circle cx="479.31" cy="349.82" r="1.05"/><circle cx="494.34" cy="376.32" r="1.05"/><circle cx="500.92" cy="383.34" r="1.05"/><circle cx="465.41" cy="374.96" r="1.05"/><circle cx="467.28" cy="345.75" r="1.05"/><circle cx="442.46" cy="387.14" r="1.05"/><circle cx="481.72" cy="324.52" r="1.05"/><circle cx="451.3" cy="382.1" r="1.05"/><circle cx="477.25" cy="358.64" r="1.05"/><circle cx="444.53" cy="379.66" r="1.05"/><circle cx="459.31" cy="385.15" r="1.05"/><circle cx="464.6" cy="381.67" r="1.05"/><circle cx="448.1" cy="334.38" r="1.05"/><circle cx="459.24" cy="384.12" r="1.05"/><circle cx="495.04" cy="368.77" r="1.05"/><circle cx="460.8" cy="391.01" r="1.05"/><circle cx="444.1" cy="357.9" r="1.05"/><circle cx="454.79" cy="380.34" r="1.05"/><circle cx="464.18" cy="370.99" r="1.05"/><circle cx="496.25" cy="382.1" r="1.05"/><circle cx="443.48" cy="354.91" r="1.05"/><circle cx="478.36" cy="354.78" r="1.05"/><circle cx="487.48" cy="366.3" r="1.05"/><circle cx="478.71" cy="346.18" r="1.05"/><circle cx="489.77" cy="359.97" r="1.05"/><circle cx="450.71" cy="383.07" r="1.05"/><circle cx="464.94" cy="377.3" r="1.05"/><circle cx="485.29" cy="379.43" r="1.05"/><circle cx="475.69" cy="375.04" r="1.05"/><circle cx="470.9" cy="340.74" r="1.05"/><circle cx="483.75" cy="374.56" r="1.05"/><circle cx="468.44" cy="354.46" r="1.05"/><circle cx="468.72" cy="352.85" r="1.05"/><circle cx="488.08" cy="370.57" r="1.05"/><circle cx="467.3" cy="371.99" r="1.05"/><circle cx="461.64" cy="381.19" r="1.05"/><circle cx="488.99" cy="327.14" r="1.05"/><circle cx="461.03" cy="369.82" r="1.05"/><circle cx="457.35" cy="373.66" r="1.05"/><circle cx="474.25" cy="366.42" r="1.05"/><circle cx="482.1" cy="360.9" r="1.05"/><circle cx="448.06" cy="370.13" r="1.05"/><circle cx="481.97" cy="384.54" r="1.05"/><circle cx="479.14" cy="350.65" r="1.05"/><circle cx="475.07" cy="359.48" r="1.05"/><circle cx="457.25" cy="366.93" r="1.05"/><circle cx="475.92" cy="379.12" r="1.05"/><circle cx="477.9" cy="347.65" r="1.05"/><circle cx="465.88" cy="326.63" r="1.05"/><circle cx="474.09" cy="364.87" r="1.05"/><circle cx="478.51" cy="363.57" r="1.05"/><circle cx="468.95" cy="376.28" r="1.05"/><circle cx="444.72" cy="387.33" r="1.05"/><circle cx="470.49" cy="339.51" r="1.05"/><circle cx="461.83" cy="390.34" r="1.05"/><circle cx="479.52" cy="380.48" r="1.05"/><circle cx="455.89" cy="370.44" r="1.05"/><circle cx="471.1" cy="368.02" r="1.05"/><circle cx="460.77" cy="380.36" r="1.05"/><circle cx="476.58" cy="352.84" r="1.05"/><circle cx="479.9" cy="346.9" r="1.05"/><circle cx="480.62" cy="371.73" r="1.05"/><circle cx="476.03" cy="367.75" r="1.05"/><circle cx="456.62" cy="341.06" r="1.05"/><circle cx="485.69" cy="372.27" r="1.05"/><circle cx="462.82" cy="370.3" r="1.05"/><circle cx="469.42" cy="373.87" r="1.05"/><circle cx="466.33" cy="342.87" r="1.05"/><circle cx="464.66" cy="379.19" r="1.05"/><circle cx="488.04" cy="366.55" r="1.05"/><circle cx="463.97" cy="379.98" r="1.05"/><circle cx="468.71" cy="374.44" r="1.05"/><circle cx="465.51" cy="374.23" r="1.05"/><circle cx="472.05" cy="383.16" r="1.05"/><circle cx="455.59" cy="379.44" r="1.05"/><circle cx="468.53" cy="374.91" r="1.05"/><circle cx="469.02" cy="370.15" r="1.05"/><circle cx="464.24" cy="376.08" r="1.05"/><circle cx="495.06" cy="360.73" r="1.05"/><circle cx="462.55" cy="361.22" r="1.05"/><circle cx="474.28" cy="379.18" r="1.05"/><circle cx="490.59" cy="387.53" r="1.05"/><circle cx="475.79" cy="362.65" r="1.05"/><circle cx="478.66" cy="367.81" r="1.05"/><circle cx="435.05" cy="389.25" r="1.05"/><circle cx="474.01" cy="384.35" r="1.05"/><circle cx="469.31" cy="378.58" r="1.05"/><circle cx="481.39" cy="369.78" r="1.05"/><circle cx="460.4" cy="338.74" r="1.05"/><circle cx="460.69" cy="382.17" r="1.05"/><circle cx="446.07" cy="372.66" r="1.05"/><circle cx="455.31" cy="364.88" r="1.05"/><circle cx="453.74" cy="375.92" r="1.05"/><circle cx="461.46" cy="365.75" r="1.05"/><circle cx="473.24" cy="383.7" r="1.05"/><circle cx="471.68" cy="363.1" r="1.05"/><circle cx="453.15" cy="365.69" r="1.05"/><circle cx="447.7" cy="378.02" r="1.05"/><circle cx="464.27" cy="380.9" r="1.05"/><circle cx="486.44" cy="355.07" r="1.05"/><circle cx="455.57" cy="377.82" r="1.05"/><circle cx="473.68" cy="374.67" r="1.05"/><circle cx="482.38" cy="349.81" r="1.05"/><circle cx="452.64" cy="363.89" r="1.05"/><circle cx="481.28" cy="357.13" r="1.05"/><circle cx="456.63" cy="381.67" r="1.05"/><circle cx="471.27" cy="366.63" r="1.05"/><circle cx="463.37" cy="362.69" r="1.05"/><circle cx="471.63" cy="373.96" r="1.05"/><circle cx="467.45" cy="389.69" r="1.05"/><circle cx="459.42" cy="375.35" r="1.05"/><circle cx="443.56" cy="388.1" r="1.05"/><circle cx="448.76" cy="367.07" r="1.05"/><circle cx="470.54" cy="359.85" r="1.05"/><circle cx="456.33" cy="360.03" r="1.05"/><circle cx="475.45" cy="372.47" r="1.05"/><circle cx="478.1" cy="365.85" r="1.05"/><circle cx="454.93" cy="385.24" r="1.05"/><circle cx="446.11" cy="381.12" r="1.05"/><circle cx="459.71" cy="373.73" r="1.05"/><circle cx="480.01" cy="371.25" r="1.05"/><circle cx="476.29" cy="369.01" r="1.05"/><circle cx="466.58" cy="343.64" r="1.05"/><circle cx="465.14" cy="364.9" r="1.05"/><circle cx="460.01" cy="385.38" r="1.05"/><circle cx="461.73" cy="380.3" r="1.05"/><circle cx="484.45" cy="376.32" r="1.05"/><circle cx="437.37" cy="375.94" r="1.05"/><circle cx="468.69" cy="359.03" r="1.05"/><circle cx="451.64" cy="381.97" r="1.05"/><circle cx="461.96" cy="375.56" r="1.05"/><circle cx="469.01" cy="390.46" r="1.05"/><circle cx="451.06" cy="355.85" r="1.05"/><circle cx="472.51" cy="365.81" r="1.05"/><circle cx="440.54" cy="387.48" r="1.05"/><circle cx="458.5" cy="377.78" r="1.05"/><circle cx="478.69" cy="369.21" r="1.05"/><circle cx="468.3" cy="378.45" r="1.05"/><circle cx="477.65" cy="357.08" r="1.05"/><circle cx="454" cy="355.67" r="1.05"/><circle cx="456.84" cy="370.7" r="1.05"/><circle cx="488.57" cy="380.24" r="1.05"/><circle cx="444.97" cy="372.4" r="1.05"/><circle cx="478.34" cy="362.32" r="1.05"/><circle cx="479.52" cy="377.79" r="1.05"/><circle cx="475.26" cy="362.89" r="1.05"/><circle cx="478.4" cy="376.21" r="1.05"/><circle cx="475.92" cy="377.83" r="1.05"/><circle cx="469.03" cy="375.55" r="1.05"/><circle cx="465.19" cy="372.76" r="1.05"/><circle cx="464" cy="322.55" r="1.05"/><circle cx="464.81" cy="375.54" r="1.05"/><circle cx="482.68" cy="384.26" r="1.05"/><circle cx="482.22" cy="371.44" r="1.05"/><circle cx="482.62" cy="339.2" r="1.05"/><circle cx="464.06" cy="375.12" r="1.05"/><circle cx="448.54" cy="376.85" r="1.05"/><circle cx="470.62" cy="383.94" r="1.05"/><circle cx="465.49" cy="367.68" r="1.05"/><circle cx="474.42" cy="367.98" r="1.05"/><circle cx="456.19" cy="368.92" r="1.05"/><circle cx="482.03" cy="374.84" r="1.05"/><circle cx="477.48" cy="382.47" r="1.05"/><circle cx="459.94" cy="387.85" r="1.05"/><circle cx="481.33" cy="380.64" r="1.05"/><circle cx="440.64" cy="378.59" r="1.05"/><circle cx="467.73" cy="360.67" r="1.05"/><circle cx="474.21" cy="363.27" r="1.05"/><circle cx="474.5" cy="363.8" r="1.05"/><circle cx="458.93" cy="352.16" r="1.05"/><circle cx="487.65" cy="367.12" r="1.05"/><circle cx="463.42" cy="383.93" r="1.05"/><circle cx="481.27" cy="341.77" r="1.05"/><circle cx="454.56" cy="381.02" r="1.05"/><circle cx="486.54" cy="385.47" r="1.05"/><circle cx="469.1" cy="369.59" r="1.05"/><circle cx="454.9" cy="363.59" r="1.05"/><circle cx="456.14" cy="375.51" r="1.05"/><circle cx="467.13" cy="355.06" r="1.05"/><circle cx="481.47" cy="357.1" r="1.05"/><circle cx="490.47" cy="379.27" r="1.05"/><circle cx="469.3" cy="378.36" r="1.05"/><circle cx="462.31" cy="369.91" r="1.05"/><circle cx="469.03" cy="368.28" r="1.05"/><circle cx="488.31" cy="353.37" r="1.05"/><circle cx="465.29" cy="347.02" r="1.05"/><circle cx="457.06" cy="374.75" r="1.05"/><circle cx="459.27" cy="383.21" r="1.05"/><circle cx="471.67" cy="359.39" r="1.05"/><circle cx="457.5" cy="375.15" r="1.05"/><circle cx="454.53" cy="374.8" r="1.05"/><circle cx="475.29" cy="372.32" r="1.05"/><circle cx="469.79" cy="377.89" r="1.05"/><circle cx="493.26" cy="353.44" r="1.05"/><circle cx="468.83" cy="381.66" r="1.05"/><circle cx="477.07" cy="375.18" r="1.05"/><circle cx="448.28" cy="358.77" r="1.05"/><circle cx="479.1" cy="387.77" r="1.05"/><circle cx="455.93" cy="354.56" r="1.05"/><circle cx="486.94" cy="375.44" r="1.05"/><circle cx="450.11" cy="345.55" r="1.05"/><circle cx="469.33" cy="374.96" r="1.05"/><circle cx="431.17" cy="379.05" r="1.05"/><circle cx="474.61" cy="383.86" r="1.05"/><circle cx="491.87" cy="345.67" r="1.05"/><circle cx="466.93" cy="362.37" r="1.05"/><circle cx="466.57" cy="382.97" r="1.05"/><circle cx="494.36" cy="363.13" r="1.05"/><circle cx="471.4" cy="369.02" r="1.05"/><circle cx="470.11" cy="366.63" r="1.05"/><circle cx="465.63" cy="358.41" r="1.05"/><circle cx="489.99" cy="361.21" r="1.05"/><circle cx="472.77" cy="380.07" r="1.05"/><circle cx="449.25" cy="376.83" r="1.05"/><circle cx="491.3" cy="365.88" r="1.05"/><circle cx="473.83" cy="348.84" r="1.05"/><circle cx="457.86" cy="337.04" r="1.05"/><circle cx="478.52" cy="377.93" r="1.05"/><circle cx="491" cy="371.72" r="1.05"/><circle cx="473.56" cy="379.36" r="1.05"/><circle cx="471.65" cy="376.88" r="1.05"/><circle cx="474.56" cy="379.19" r="1.05"/><circle cx="481" cy="375.14" r="1.05"/><circle cx="466.04" cy="361.38" r="1.05"/><circle cx="451.77" cy="350.15" r="1.05"/><circle cx="455.55" cy="373.65" r="1.05"/><circle cx="491.75" cy="369.07" r="1.05"/><circle cx="483.34" cy="360.38" r="1.05"/><circle cx="480.83" cy="372.61" r="1.05"/><circle cx="485.84" cy="365.48" r="1.05"/><circle cx="466.21" cy="386.29" r="1.05"/><circle cx="459.2" cy="382.11" r="1.05"/><circle cx="461.56" cy="371.56" r="1.05"/><circle cx="469.96" cy="369.11" r="1.05"/><circle cx="452.18" cy="359.26" r="1.05"/><circle cx="460.39" cy="367.14" r="1.05"/><circle cx="449.03" cy="373.3" r="1.05"/><circle cx="452.82" cy="380.79" r="1.05"/><circle cx="454.77" cy="369.17" r="1.05"/><circle cx="460.59" cy="380.75" r="1.05"/><circle cx="488.11" cy="367.05" r="1.05"/><circle cx="478.96" cy="381.22" r="1.05"/><circle cx="469.98" cy="371.49" r="1.05"/><circle cx="463.18" cy="354.22" r="1.05"/><circle cx="481.55" cy="373.23" r="1.05"/><circle cx="473.51" cy="346.57" r="1.05"/><circle cx="469.92" cy="371.61" r="1.05"/><circle cx="484.87" cy="354.49" r="1.05"/><circle cx="465.14" cy="380.97" r="1.05"/><circle cx="450.84" cy="383.67" r="1.05"/><circle cx="454.87" cy="375.81" r="1.05"/><circle cx="482.4" cy="371.04" r="1.05"/><circle cx="468.24" cy="370.46" r="1.05"/><circle cx="460.85" cy="379.09" r="1.05"/><circle cx="457.68" cy="376.96" r="1.05"/><circle cx="479.99" cy="355.48" r="1.05"/><circle cx="459.02" cy="382.03" r="1.05"/><circle cx="495.9" cy="368.81" r="1.05"/><circle cx="456.07" cy="385.58" r="1.05"/><circle cx="479.01" cy="376.66" r="1.05"/><circle cx="477.42" cy="372.81" r="1.05"/><circle cx="494.1" cy="372.91" r="1.05"/><circle cx="468.91" cy="371.05" r="1.05"/><circle cx="456.95" cy="380.79" r="1.05"/><circle cx="463.42" cy="372.06" r="1.05"/><circle cx="450.02" cy="371.16" r="1.05"/><circle cx="468.83" cy="383.8" r="1.05"/><circle cx="463.26" cy="382.74" r="1.05"/><circle cx="477.26" cy="372.43" r="1.05"/><circle cx="454.6" cy="375.41" r="1.05"/><circle cx="476.34" cy="378.01" r="1.05"/><circle cx="484.59" cy="345.02" r="1.05"/><circle cx="461.97" cy="380.73" r="1.05"/><circle cx="469.01" cy="372.31" r="1.05"/><circle cx="465.16" cy="330.66" r="1.05"/><circle cx="477.91" cy="379.94" r="1.05"/><circle cx="466.46" cy="368.43" r="1.05"/><circle cx="467.1" cy="377.75" r="1.05"/><circle cx="476.36" cy="371.06" r="1.05"/><circle cx="468.39" cy="367.87" r="1.05"/><circle cx="456.38" cy="365.54" r="1.05"/><circle cx="469.84" cy="377.94" r="1.05"/><circle cx="478.05" cy="361.85" r="1.05"/><circle cx="478.26" cy="373.23" r="1.05"/><circle cx="444.33" cy="350.86" r="1.05"/><circle cx="475.35" cy="379.58" r="1.05"/><circle cx="467.27" cy="381.86" r="1.05"/><circle cx="450.22" cy="384.45" r="1.05"/><circle cx="467.02" cy="368.03" r="1.05"/><circle cx="462.83" cy="385.95" r="1.05"/><circle cx="471.84" cy="374.37" r="1.05"/><circle cx="451.09" cy="377.8" r="1.05"/><circle cx="468.81" cy="354.72" r="1.05"/><circle cx="441.68" cy="387.26" r="1.05"/><circle cx="474.39" cy="364.56" r="1.05"/><circle cx="484" cy="370.23" r="1.05"/><circle cx="443.35" cy="370.75" r="1.05"/><circle cx="480.47" cy="371.03" r="1.05"/><circle cx="485.83" cy="368.19" r="1.05"/><circle cx="448.18" cy="370.22" r="1.05"/><circle cx="446.96" cy="380.76" r="1.05"/><circle cx="488.97" cy="344.85" r="1.05"/><circle cx="469.31" cy="358.96" r="1.05"/><circle cx="453.34" cy="383.54" r="1.05"/><circle cx="459.21" cy="377.03" r="1.05"/><circle cx="461.72" cy="352.4" r="1.05"/><circle cx="462.34" cy="371.56" r="1.05"/><circle cx="464.45" cy="354.86" r="1.05"/><circle cx="432.76" cy="388.19" r="1.05"/><circle cx="443.4" cy="386.3" r="1.05"/><circle cx="473.12" cy="374.99" r="1.05"/><circle cx="496.19" cy="354.02" r="1.05"/><circle cx="450.22" cy="368.99" r="1.05"/></g>
<path d="M426 387.7L505.6 356.5" stroke="#2b4a8c" stroke-width="1.1" fill="none"/>
<rect x="426" y="318.5" width="79.6" height="78.5" fill="none" stroke="#111" stroke-width="1.4"/>
<text x="420.2" y="400.17" font-size="8.8" text-anchor="end" textLength="4.5" lengthAdjust="spacingAndGlyphs" stroke="#231f20" stroke-width="0.22">0</text>
<text x="420.2" y="374" font-size="8.8" text-anchor="end" textLength="4.5" lengthAdjust="spacingAndGlyphs" stroke="#231f20" stroke-width="0.22">1</text>
<text x="420.2" y="347.83" font-size="8.8" text-anchor="end" textLength="4.5" lengthAdjust="spacingAndGlyphs" stroke="#231f20" stroke-width="0.22">2</text>
<text x="420.2" y="321.67" font-size="8.8" text-anchor="end" textLength="4.5" lengthAdjust="spacingAndGlyphs" stroke="#231f20" stroke-width="0.22">3</text>
<text x="426" y="410.2" font-size="8.8" text-anchor="middle" textLength="4.5" lengthAdjust="spacingAndGlyphs" stroke="#231f20" stroke-width="0.22">0</text>
<text x="445.9" y="410.2" font-size="8.8" text-anchor="middle" textLength="4.5" lengthAdjust="spacingAndGlyphs" stroke="#231f20" stroke-width="0.22">2</text>
<text x="465.8" y="410.2" font-size="8.8" text-anchor="middle" textLength="4.5" lengthAdjust="spacingAndGlyphs" stroke="#231f20" stroke-width="0.22">4</text>
<text x="485.7" y="410.2" font-size="8.8" text-anchor="middle" textLength="4.5" lengthAdjust="spacingAndGlyphs" stroke="#231f20" stroke-width="0.22">6</text>
<text x="505.6" y="410.2" font-size="8.8" text-anchor="middle" textLength="4.5" lengthAdjust="spacingAndGlyphs" stroke="#231f20" stroke-width="0.22">8</text>
<path d="M422.7 397H426M422.7 370.83H426M422.7 344.67H426M422.7 318.5H426M426 397V400.3M445.9 397V400.3M465.8 397V400.3M485.7 397V400.3M505.6 397V400.3" stroke="#231f20" stroke-width="1.2" fill="none"/>
<text x="427" y="310" font-size="8.8" textLength="72.4" lengthAdjust="spacingAndGlyphs" stroke="#231f20" stroke-width="0.22">rho = 0.328, P &lt; 0.001</text>
<g fill="#e9a8b5" stroke="#c84a64" stroke-width="0.7"><circle cx="326.32" cy="462.17" r="1.05"/><circle cx="349.03" cy="495.17" r="1.05"/><circle cx="355.77" cy="502.18" r="1.05"/><circle cx="371.51" cy="480.09" r="1.05"/><circle cx="344.36" cy="474.48" r="1.05"/><circle cx="331.41" cy="476.59" r="1.05"/><circle cx="356.86" cy="472.65" r="1.05"/><circle cx="351.36" cy="501.96" r="1.05"/><circle cx="349.05" cy="506.02" r="1.05"/><circle cx="347.92" cy="494.85" r="1.05"/><circle cx="336.73" cy="473.44" r="1.05"/><circle cx="368.7" cy="465.91" r="1.05"/><circle cx="341.35" cy="491.08" r="1.05"/><circle cx="334.62" cy="492.82" r="1.05"/><circle cx="347.18" cy="479.06" r="1.05"/><circle cx="340.54" cy="484.84" r="1.05"/><circle cx="332.24" cy="491.87" r="1.05"/><circle cx="360.7" cy="467.55" r="1.05"/><circle cx="351.39" cy="485.06" r="1.05"/><circle cx="347.96" cy="496" r="1.05"/><circle cx="331.92" cy="476.99" r="1.05"/><circle cx="332.65" cy="478.86" r="1.05"/><circle cx="331.81" cy="485.75" r="1.05"/><circle cx="364.05" cy="479.32" r="1.05"/><circle cx="343.99" cy="482.18" r="1.05"/><circle cx="327.42" cy="470.71" r="1.05"/><circle cx="336.14" cy="497.01" r="1.05"/><circle cx="336.87" cy="484.41" r="1.05"/><circle cx="337.01" cy="494.66" r="1.05"/><circle cx="350.16" cy="484.2" r="1.05"/><circle cx="358.96" cy="476.22" r="1.05"/><circle cx="358.63" cy="503.96" r="1.05"/><circle cx="345.91" cy="478.88" r="1.05"/><circle cx="355.06" cy="491.8" r="1.05"/><circle cx="351.98" cy="471.36" r="1.05"/><circle cx="334.42" cy="497.49" r="1.05"/><circle cx="335.58" cy="482.08" r="1.05"/><circle cx="332.29" cy="484.8" r="1.05"/><circle cx="339.58" cy="500.05" r="1.05"/><circle cx="324.58" cy="451.89" r="1.05"/><circle cx="359.18" cy="472.84" r="1.05"/><circle cx="327.07" cy="472.1" r="1.05"/><circle cx="340.94" cy="503.82" r="1.05"/><circle cx="338.46" cy="492.45" r="1.05"/><circle cx="363.23" cy="486.09" r="1.05"/><circle cx="344.4" cy="479.7" r="1.05"/><circle cx="350.36" cy="504.64" r="1.05"/><circle cx="358.03" cy="484.47" r="1.05"/><circle cx="356.33" cy="463.54" r="1.05"/><circle cx="341.2" cy="453.03" r="1.05"/><circle cx="341.26" cy="489.93" r="1.05"/><circle cx="320.1" cy="464.15" r="1.05"/><circle cx="342.73" cy="494.18" r="1.05"/><circle cx="338.64" cy="477.63" r="1.05"/><circle cx="357.26" cy="477.35" r="1.05"/><circle cx="342.04" cy="495.59" r="1.05"/><circle cx="323.56" cy="493.42" r="1.05"/><circle cx="350.08" cy="492.53" r="1.05"/><circle cx="366.8" cy="474.67" r="1.05"/><circle cx="341.58" cy="478.71" r="1.05"/><circle cx="347.37" cy="497.39" r="1.05"/><circle cx="341.27" cy="507.43" r="1.05"/><circle cx="341.4" cy="471.1" r="1.05"/><circle cx="339.72" cy="461.26" r="1.05"/><circle cx="342.8" cy="475.34" r="1.05"/><circle cx="350.36" cy="496.01" r="1.05"/><circle cx="332.23" cy="478.72" r="1.05"/><circle cx="353.94" cy="487.36" r="1.05"/><circle cx="340.9" cy="485.49" r="1.05"/><circle cx="334.13" cy="484.51" r="1.05"/><circle cx="335.25" cy="485.78" r="1.05"/><circle cx="334.99" cy="456.86" r="1.05"/><circle cx="346.51" cy="499.9" r="1.05"/><circle cx="348.03" cy="484.94" r="1.05"/><circle cx="349.59" cy="482.81" r="1.05"/><circle cx="332.87" cy="493.88" r="1.05"/><circle cx="360.49" cy="467.05" r="1.05"/><circle cx="336.23" cy="505.2" r="1.05"/><circle cx="352.43" cy="494.83" r="1.05"/><circle cx="369.87" cy="511.24" r="1.05"/><circle cx="347.6" cy="489.21" r="1.05"/><circle cx="363.87" cy="521.32" r="1.05"/><circle cx="362.33" cy="470.77" r="1.05"/><circle cx="345.85" cy="490" r="1.05"/><circle cx="339.72" cy="509.07" r="1.05"/><circle cx="344.69" cy="491.44" r="1.05"/><circle cx="349.03" cy="488.06" r="1.05"/><circle cx="368.19" cy="471.57" r="1.05"/><circle cx="337.71" cy="484.82" r="1.05"/><circle cx="332.31" cy="473.2" r="1.05"/><circle cx="341.84" cy="455.18" r="1.05"/><circle cx="339.72" cy="498.54" r="1.05"/><circle cx="340.98" cy="481" r="1.05"/><circle cx="354.3" cy="488.62" r="1.05"/><circle cx="357.59" cy="494.76" r="1.05"/><circle cx="337.92" cy="487.93" r="1.05"/><circle cx="339.59" cy="486.16" r="1.05"/><circle cx="330.04" cy="478.85" r="1.05"/><circle cx="351.8" cy="491.77" r="1.05"/><circle cx="352.95" cy="464.81" r="1.05"/><circle cx="349.69" cy="480.21" r="1.05"/><circle cx="332.95" cy="483.36" r="1.05"/><circle cx="348.83" cy="487.22" r="1.05"/><circle cx="353.34" cy="498.85" r="1.05"/><circle cx="350.06" cy="479.16" r="1.05"/><circle cx="350.6" cy="491.94" r="1.05"/><circle cx="341.9" cy="484.44" r="1.05"/><circle cx="327.33" cy="482.99" r="1.05"/><circle cx="343.82" cy="499.31" r="1.05"/><circle cx="325.95" cy="472.84" r="1.05"/><circle cx="353.47" cy="498.13" r="1.05"/><circle cx="369.68" cy="477.71" r="1.05"/><circle cx="337.55" cy="472.56" r="1.05"/><circle cx="346.97" cy="485.94" r="1.05"/><circle cx="355.36" cy="476.08" r="1.05"/><circle cx="343.31" cy="461.41" r="1.05"/><circle cx="354.69" cy="471.24" r="1.05"/><circle cx="355.21" cy="485.84" r="1.05"/><circle cx="352.79" cy="491.29" r="1.05"/><circle cx="343.6" cy="483.18" r="1.05"/><circle cx="353.81" cy="499.32" r="1.05"/><circle cx="344.71" cy="468.46" r="1.05"/><circle cx="342.16" cy="456.95" r="1.05"/><circle cx="340.97" cy="483.81" r="1.05"/><circle cx="345.46" cy="482.06" r="1.05"/><circle cx="345.14" cy="493.16" r="1.05"/><circle cx="329.71" cy="483.24" r="1.05"/><circle cx="358.06" cy="476.64" r="1.05"/><circle cx="326.62" cy="508.28" r="1.05"/><circle cx="373.43" cy="504.61" r="1.05"/><circle cx="331.92" cy="487.95" r="1.05"/><circle cx="339.3" cy="482.83" r="1.05"/><circle cx="309.85" cy="512.85" r="1.05"/><circle cx="322.7" cy="484.95" r="1.05"/><circle cx="343.72" cy="472.84" r="1.05"/><circle cx="318.32" cy="466.57" r="1.05"/><circle cx="331.75" cy="467.83" r="1.05"/><circle cx="356" cy="468.62" r="1.05"/><circle cx="310.44" cy="475.77" r="1.05"/><circle cx="353.41" cy="486.31" r="1.05"/><circle cx="353.89" cy="497.41" r="1.05"/><circle cx="340.6" cy="458.11" r="1.05"/><circle cx="323.98" cy="471.65" r="1.05"/><circle cx="340.9" cy="487.6" r="1.05"/><circle cx="363" cy="471.77" r="1.05"/><circle cx="350.54" cy="491.63" r="1.05"/><circle cx="366.14" cy="489.72" r="1.05"/><circle cx="325.83" cy="489.87" r="1.05"/><circle cx="341.79" cy="486.98" r="1.05"/><circle cx="341.92" cy="473.9" r="1.05"/><circle cx="351.8" cy="494.23" r="1.05"/><circle cx="339.44" cy="504.9" r="1.05"/><circle cx="353.91" cy="476.97" r="1.05"/><circle cx="327.51" cy="491.8" r="1.05"/><circle cx="324.61" cy="451.3" r="1.05"/><circle cx="345.57" cy="489.65" r="1.05"/><circle cx="356.02" cy="500.9" r="1.05"/><circle cx="352.23" cy="491.1" r="1.05"/><circle cx="347.26" cy="508.99" r="1.05"/><circle cx="336.21" cy="477.92" r="1.05"/><circle cx="319.67" cy="507.33" r="1.05"/><circle cx="338.4" cy="504.58" r="1.05"/><circle cx="336.22" cy="510.67" r="1.05"/><circle cx="329.7" cy="496.87" r="1.05"/><circle cx="366.59" cy="482.17" r="1.05"/><circle cx="359.06" cy="492.27" r="1.05"/><circle cx="321.2" cy="498.83" r="1.05"/><circle cx="322.95" cy="496.29" r="1.05"/><circle cx="330.76" cy="490.55" r="1.05"/><circle cx="366.81" cy="504.75" r="1.05"/><circle cx="333.14" cy="495.43" r="1.05"/><circle cx="332.76" cy="490.51" r="1.05"/><circle cx="339.17" cy="478.64" r="1.05"/><circle cx="342.78" cy="476.68" r="1.05"/><circle cx="355.44" cy="492.77" r="1.05"/><circle cx="353.72" cy="498.69" r="1.05"/><circle cx="359.77" cy="488.55" r="1.05"/><circle cx="338.22" cy="473.51" r="1.05"/><circle cx="343.59" cy="473.94" r="1.05"/><circle cx="342.65" cy="475.25" r="1.05"/><circle cx="342.8" cy="484.26" r="1.05"/><circle cx="363.96" cy="497.12" r="1.05"/><circle cx="333.07" cy="462.74" r="1.05"/><circle cx="359.52" cy="482.12" r="1.05"/><circle cx="325.18" cy="500.36" r="1.05"/><circle cx="359.97" cy="490.57" r="1.05"/><circle cx="353.09" cy="506.57" r="1.05"/><circle cx="349.21" cy="483.32" r="1.05"/><circle cx="358.96" cy="472.54" r="1.05"/><circle cx="334.39" cy="483.2" r="1.05"/><circle cx="318.15" cy="483.54" r="1.05"/><circle cx="323.51" cy="481.5" r="1.05"/><circle cx="333.75" cy="470.17" r="1.05"/><circle cx="345.99" cy="495.54" r="1.05"/><circle cx="350.99" cy="492.19" r="1.05"/><circle cx="361.07" cy="457.2" r="1.05"/><circle cx="345.89" cy="471.8" r="1.05"/><circle cx="351.86" cy="490.84" r="1.05"/><circle cx="335.05" cy="504.47" r="1.05"/><circle cx="349.58" cy="483.8" r="1.05"/><circle cx="365.6" cy="491.72" r="1.05"/><circle cx="336.82" cy="503.1" r="1.05"/><circle cx="320.12" cy="482.37" r="1.05"/><circle cx="353.78" cy="485.74" r="1.05"/><circle cx="341.09" cy="466.51" r="1.05"/><circle cx="352.58" cy="491.34" r="1.05"/><circle cx="351.16" cy="480.51" r="1.05"/><circle cx="354.27" cy="503.06" r="1.05"/><circle cx="355.48" cy="470.09" r="1.05"/><circle cx="341.47" cy="483.6" r="1.05"/><circle cx="335.56" cy="460.45" r="1.05"/><circle cx="355.31" cy="491.91" r="1.05"/><circle cx="349.59" cy="519.3" r="1.05"/><circle cx="350.44" cy="481.44" r="1.05"/><circle cx="339.63" cy="475.14" r="1.05"/><circle cx="323.67" cy="516.16" r="1.05"/><circle cx="347.63" cy="476.1" r="1.05"/><circle cx="326.58" cy="486.73" r="1.05"/><circle cx="353.32" cy="472.83" r="1.05"/><circle cx="330.73" cy="501.86" r="1.05"/><circle cx="338.69" cy="476.14" r="1.05"/><circle cx="335.04" cy="491.95" r="1.05"/><circle cx="326.28" cy="476.81" r="1.05"/><circle cx="378.72" cy="497.18" r="1.05"/><circle cx="351.12" cy="471.55" r="1.05"/><circle cx="330.99" cy="489.94" r="1.05"/><circle cx="347.96" cy="475.09" r="1.05"/><circle cx="338.87" cy="480.32" r="1.05"/><circle cx="320.24" cy="481.47" r="1.05"/><circle cx="341.19" cy="493.22" r="1.05"/><circle cx="344.65" cy="473.08" r="1.05"/><circle cx="346.02" cy="489.88" r="1.05"/><circle cx="363.15" cy="474.42" r="1.05"/><circle cx="339.96" cy="479.35" r="1.05"/><circle cx="341.59" cy="487.31" r="1.05"/><circle cx="339.21" cy="514.82" r="1.05"/><circle cx="357.48" cy="481.62" r="1.05"/><circle cx="353.51" cy="492.66" r="1.05"/><circle cx="338.03" cy="457.9" r="1.05"/><circle cx="348.06" cy="486.88" r="1.05"/><circle cx="327.6" cy="500.2" r="1.05"/><circle cx="329.3" cy="494.37" r="1.05"/><circle cx="320.21" cy="465.57" r="1.05"/><circle cx="338.91" cy="469.36" r="1.05"/><circle cx="349.1" cy="476.35" r="1.05"/><circle cx="341.48" cy="489.92" r="1.05"/><circle cx="345" cy="497.08" r="1.05"/><circle cx="346.16" cy="494.16" r="1.05"/><circle cx="335.61" cy="497.57" r="1.05"/><circle cx="345.3" cy="461.83" r="1.05"/><circle cx="340.48" cy="499.53" r="1.05"/><circle cx="333.47" cy="490.05" r="1.05"/><circle cx="345" cy="490.31" r="1.05"/><circle cx="358.53" cy="482.02" r="1.05"/><circle cx="366.02" cy="477.54" r="1.05"/><circle cx="351.03" cy="493.77" r="1.05"/><circle cx="354.09" cy="461.46" r="1.05"/><circle cx="356.91" cy="480.88" r="1.05"/><circle cx="371.07" cy="460.67" r="1.05"/><circle cx="329.95" cy="474.94" r="1.05"/><circle cx="339.22" cy="458.1" r="1.05"/><circle cx="344.54" cy="488.02" r="1.05"/><circle cx="353.07" cy="481.57" r="1.05"/><circle cx="343.52" cy="483.55" r="1.05"/><circle cx="342.88" cy="488.63" r="1.05"/><circle cx="326.54" cy="490.54" r="1.05"/><circle cx="342.9" cy="474.63" r="1.05"/><circle cx="356.75" cy="506.69" r="1.05"/><circle cx="345.23" cy="493" r="1.05"/><circle cx="344.33" cy="473.03" r="1.05"/><circle cx="325.83" cy="483.39" r="1.05"/><circle cx="356.68" cy="498.64" r="1.05"/><circle cx="347.34" cy="485.28" r="1.05"/><circle cx="322.89" cy="464.47" r="1.05"/><circle cx="372.09" cy="471.69" r="1.05"/><circle cx="347.16" cy="486.55" r="1.05"/><circle cx="340.47" cy="485.21" r="1.05"/><circle cx="327.92" cy="451.41" r="1.05"/><circle cx="364.29" cy="492.85" r="1.05"/><circle cx="340.24" cy="498.11" r="1.05"/><circle cx="333.46" cy="475.53" r="1.05"/><circle cx="336.21" cy="468.91" r="1.05"/><circle cx="348.53" cy="470.58" r="1.05"/><circle cx="339.77" cy="481.81" r="1.05"/><circle cx="350.87" cy="473.77" r="1.05"/><circle cx="337.45" cy="475.3" r="1.05"/><circle cx="352.91" cy="492.62" r="1.05"/><circle cx="336.96" cy="476.17" r="1.05"/><circle cx="376.2" cy="503.12" r="1.05"/><circle cx="344.68" cy="487.86" r="1.05"/><circle cx="317.19" cy="489.3" r="1.05"/><circle cx="345" cy="462.64" r="1.05"/><circle cx="338.66" cy="501.88" r="1.05"/><circle cx="353.09" cy="491.33" r="1.05"/><circle cx="353.89" cy="490.27" r="1.05"/><circle cx="355.01" cy="504.95" r="1.05"/><circle cx="333.7" cy="491.88" r="1.05"/><circle cx="350.4" cy="476.3" r="1.05"/><circle cx="354.77" cy="499.93" r="1.05"/><circle cx="354.4" cy="473.2" r="1.05"/><circle cx="321.54" cy="488.1" r="1.05"/><circle cx="362.88" cy="506.26" r="1.05"/><circle cx="352.49" cy="473.61" r="1.05"/><circle cx="332.77" cy="485.18" r="1.05"/><circle cx="363.2" cy="513.81" r="1.05"/><circle cx="358.67" cy="469.83" r="1.05"/><circle cx="334.96" cy="478.11" r="1.05"/><circle cx="357.98" cy="485.28" r="1.05"/><circle cx="331.35" cy="499.69" r="1.05"/><circle cx="350.82" cy="478.41" r="1.05"/><circle cx="336.04" cy="488.22" r="1.05"/><circle cx="353.38" cy="498.21" r="1.05"/><circle cx="358.48" cy="484.48" r="1.05"/><circle cx="353.67" cy="467.5" r="1.05"/><circle cx="323.9" cy="467.19" r="1.05"/><circle cx="353.95" cy="468.94" r="1.05"/><circle cx="340.51" cy="498.54" r="1.05"/><circle cx="356.02" cy="510.34" r="1.05"/><circle cx="359.36" cy="493.18" r="1.05"/><circle cx="350.25" cy="461.42" r="1.05"/><circle cx="352.14" cy="466.87" r="1.05"/><circle cx="341.12" cy="472.98" r="1.05"/><circle cx="337.82" cy="468.31" r="1.05"/><circle cx="358.78" cy="507.76" r="1.05"/><circle cx="366.59" cy="486.37" r="1.05"/><circle cx="341.07" cy="499.21" r="1.05"/><circle cx="351.18" cy="495.09" r="1.05"/><circle cx="360.37" cy="516.84" r="1.05"/><circle cx="341.77" cy="498.7" r="1.05"/><circle cx="338.21" cy="477.45" r="1.05"/><circle cx="338.89" cy="482.36" r="1.05"/><circle cx="351.6" cy="496.97" r="1.05"/><circle cx="346.13" cy="477.32" r="1.05"/><circle cx="341.49" cy="489.03" r="1.05"/><circle cx="351.1" cy="513.82" r="1.05"/><circle cx="342.09" cy="478.25" r="1.05"/><circle cx="356.05" cy="490.68" r="1.05"/><circle cx="361.6" cy="491.28" r="1.05"/><circle cx="336.45" cy="500.75" r="1.05"/><circle cx="350.27" cy="483.46" r="1.05"/><circle cx="344.34" cy="499.75" r="1.05"/><circle cx="335.45" cy="454.46" r="1.05"/><circle cx="344.73" cy="469.82" r="1.05"/><circle cx="323.64" cy="477.71" r="1.05"/><circle cx="348.41" cy="475.11" r="1.05"/><circle cx="341.27" cy="479.41" r="1.05"/><circle cx="326.21" cy="480.13" r="1.05"/><circle cx="344.59" cy="499.04" r="1.05"/><circle cx="338" cy="499.68" r="1.05"/><circle cx="331.56" cy="468.71" r="1.05"/><circle cx="340.24" cy="490.52" r="1.05"/><circle cx="334.03" cy="469.98" r="1.05"/><circle cx="341.03" cy="467.5" r="1.05"/><circle cx="347.75" cy="476.34" r="1.05"/><circle cx="350.35" cy="462.08" r="1.05"/><circle cx="339.24" cy="484.55" r="1.05"/><circle cx="338.44" cy="491.29" r="1.05"/><circle cx="371.59" cy="483.38" r="1.05"/><circle cx="368.5" cy="471.48" r="1.05"/><circle cx="340.22" cy="481.75" r="1.05"/><circle cx="354.92" cy="503.63" r="1.05"/><circle cx="340.06" cy="491.45" r="1.05"/><circle cx="365.08" cy="497.06" r="1.05"/><circle cx="333.43" cy="488.77" r="1.05"/><circle cx="370.96" cy="491.12" r="1.05"/><circle cx="339.05" cy="472.97" r="1.05"/><circle cx="328.74" cy="491.38" r="1.05"/><circle cx="364.12" cy="489.22" r="1.05"/><circle cx="345.73" cy="480.02" r="1.05"/><circle cx="350" cy="485.31" r="1.05"/><circle cx="353.37" cy="479.38" r="1.05"/><circle cx="331.56" cy="489.35" r="1.05"/><circle cx="328.13" cy="496.35" r="1.05"/><circle cx="362.29" cy="487.34" r="1.05"/><circle cx="356.46" cy="469.56" r="1.05"/><circle cx="348.02" cy="491.68" r="1.05"/><circle cx="340.08" cy="491.82" r="1.05"/><circle cx="337.59" cy="488.31" r="1.05"/><circle cx="342.79" cy="499.34" r="1.05"/><circle cx="358.37" cy="492.63" r="1.05"/><circle cx="349.61" cy="497.23" r="1.05"/><circle cx="347.76" cy="492.27" r="1.05"/><circle cx="346.44" cy="514.45" r="1.05"/><circle cx="357.08" cy="479.5" r="1.05"/><circle cx="347.98" cy="478.22" r="1.05"/><circle cx="347.86" cy="492.66" r="1.05"/><circle cx="348.19" cy="502.45" r="1.05"/><circle cx="350.29" cy="478.28" r="1.05"/><circle cx="338.81" cy="491.46" r="1.05"/><circle cx="332" cy="518.73" r="1.05"/><circle cx="349.99" cy="487.46" r="1.05"/><circle cx="355.05" cy="483.79" r="1.05"/><circle cx="355.42" cy="516.43" r="1.05"/><circle cx="334.23" cy="483.56" r="1.05"/><circle cx="339.42" cy="461.9" r="1.05"/><circle cx="338.3" cy="497.14" r="1.05"/><circle cx="333.03" cy="492.61" r="1.05"/><circle cx="352.82" cy="513.69" r="1.05"/><circle cx="363.74" cy="494.48" r="1.05"/><circle cx="326.98" cy="497.08" r="1.05"/><circle cx="348.71" cy="461.58" r="1.05"/><circle cx="358.34" cy="465.81" r="1.05"/><circle cx="344.62" cy="495.06" r="1.05"/><circle cx="349.04" cy="500.21" r="1.05"/><circle cx="338.36" cy="487.24" r="1.05"/><circle cx="333.17" cy="478.68" r="1.05"/><circle cx="332.89" cy="485.82" r="1.05"/><circle cx="363.02" cy="487.26" r="1.05"/><circle cx="354.86" cy="493.79" r="1.05"/><circle cx="335.65" cy="506.58" r="1.05"/><circle cx="350.73" cy="469.7" r="1.05"/><circle cx="328.58" cy="503.39" r="1.05"/><circle cx="341.97" cy="503.71" r="1.05"/><circle cx="345.22" cy="483.09" r="1.05"/><circle cx="363.05" cy="472.89" r="1.05"/><circle cx="351.96" cy="492.32" r="1.05"/><circle cx="344.31" cy="496.25" r="1.05"/><circle cx="338.28" cy="484.69" r="1.05"/><circle cx="339.3" cy="483.4" r="1.05"/><circle cx="347.81" cy="502.86" r="1.05"/><circle cx="345.67" cy="456.88" r="1.05"/><circle cx="346.08" cy="475.18" r="1.05"/><circle cx="338.05" cy="489.72" r="1.05"/><circle cx="355.21" cy="491.22" r="1.05"/><circle cx="349.99" cy="480.25" r="1.05"/><circle cx="337.57" cy="449.17" r="1.05"/><circle cx="350.89" cy="477.7" r="1.05"/><circle cx="370.36" cy="478.78" r="1.05"/><circle cx="344.08" cy="488.9" r="1.05"/><circle cx="346.84" cy="498.3" r="1.05"/><circle cx="340.1" cy="485.12" r="1.05"/><circle cx="363.02" cy="480.52" r="1.05"/><circle cx="338.86" cy="504.42" r="1.05"/><circle cx="335.25" cy="503.71" r="1.05"/><circle cx="351.89" cy="474.38" r="1.05"/><circle cx="333.3" cy="483.79" r="1.05"/><circle cx="345.42" cy="499.1" r="1.05"/><circle cx="343.97" cy="487.39" r="1.05"/><circle cx="357.14" cy="480.69" r="1.05"/><circle cx="348.27" cy="513.97" r="1.05"/><circle cx="355.38" cy="490.07" r="1.05"/><circle cx="353.32" cy="513.54" r="1.05"/><circle cx="345.36" cy="500.59" r="1.05"/><circle cx="327.91" cy="487.35" r="1.05"/><circle cx="345.91" cy="476.17" r="1.05"/><circle cx="367.35" cy="483.5" r="1.05"/><circle cx="342.01" cy="480.36" r="1.05"/><circle cx="334.34" cy="483.84" r="1.05"/><circle cx="361.47" cy="479.13" r="1.05"/><circle cx="331.14" cy="494.24" r="1.05"/><circle cx="361.25" cy="495.6" r="1.05"/><circle cx="345.01" cy="461.98" r="1.05"/><circle cx="360.9" cy="490.2" r="1.05"/><circle cx="333.48" cy="481.71" r="1.05"/><circle cx="361.63" cy="475.66" r="1.05"/><circle cx="343.82" cy="495.13" r="1.05"/><circle cx="345.43" cy="471.84" r="1.05"/><circle cx="344.95" cy="496.21" r="1.05"/><circle cx="354.16" cy="516.18" r="1.05"/><circle cx="348.72" cy="478.52" r="1.05"/><circle cx="355.4" cy="479.52" r="1.05"/><circle cx="344" cy="493.64" r="1.05"/><circle cx="338.7" cy="474.98" r="1.05"/><circle cx="335.62" cy="476.48" r="1.05"/><circle cx="365.11" cy="482.79" r="1.05"/><circle cx="346.17" cy="491.63" r="1.05"/><circle cx="349.98" cy="482.98" r="1.05"/><circle cx="345.67" cy="490.28" r="1.05"/><circle cx="345.24" cy="499.36" r="1.05"/><circle cx="351.96" cy="496.34" r="1.05"/><circle cx="345.4" cy="490.57" r="1.05"/><circle cx="339.64" cy="479.21" r="1.05"/><circle cx="319.44" cy="485.09" r="1.05"/><circle cx="347.86" cy="500.05" r="1.05"/><circle cx="345.68" cy="480.6" r="1.05"/><circle cx="331.29" cy="504.96" r="1.05"/><circle cx="322.81" cy="470.5" r="1.05"/><circle cx="349.03" cy="480.52" r="1.05"/><circle cx="355.59" cy="477.9" r="1.05"/><circle cx="358.57" cy="473.73" r="1.05"/></g>
<path d="M307.7 483.5L387 491.5" stroke="#2b4a8c" stroke-width="1.1" fill="none"/>
<rect x="307.7" y="444.6" width="79.3" height="78.7" fill="none" stroke="#111" stroke-width="1.4"/>
<text x="301.9" y="526.47" font-size="8.8" text-anchor="end" textLength="4.5" lengthAdjust="spacingAndGlyphs" stroke="#231f20" stroke-width="0.22">0</text>
<text x="301.9" y="500.23" font-size="8.8" text-anchor="end" textLength="11.25" lengthAdjust="spacingAndGlyphs" stroke="#231f20" stroke-width="0.22">2.5</text>
<text x="301.9" y="474" font-size="8.8" text-anchor="end" textLength="4.5" lengthAdjust="spacingAndGlyphs" stroke="#231f20" stroke-width="0.22">5</text>
<text x="301.9" y="447.77" font-size="8.8" text-anchor="end" textLength="11.25" lengthAdjust="spacingAndGlyphs" stroke="#231f20" stroke-width="0.22">7.5</text>
<text x="307.7" y="536.5" font-size="8.8" text-anchor="middle" textLength="11.25" lengthAdjust="spacingAndGlyphs" stroke="#231f20" stroke-width="0.22">3.1</text>
<text x="334.13" y="536.5" font-size="8.8" text-anchor="middle" textLength="11.25" lengthAdjust="spacingAndGlyphs" stroke="#231f20" stroke-width="0.22">3.5</text>
<text x="360.57" y="536.5" font-size="8.8" text-anchor="middle" textLength="11.25" lengthAdjust="spacingAndGlyphs" stroke="#231f20" stroke-width="0.22">3.9</text>
<text x="387" y="536.5" font-size="8.8" text-anchor="middle" textLength="11.25" lengthAdjust="spacingAndGlyphs" stroke="#231f20" stroke-width="0.22">4.3</text>
<path d="M304.4 523.3H307.7M304.4 497.07H307.7M304.4 470.83H307.7M304.4 444.6H307.7M307.7 523.3V526.6M334.13 523.3V526.6M360.57 523.3V526.6M387 523.3V526.6" stroke="#231f20" stroke-width="1.2" fill="none"/>
<text x="309.6" y="436.3" font-size="8.8" textLength="75" lengthAdjust="spacingAndGlyphs" stroke="#231f20" stroke-width="0.22">rho = -0.080, P = 0.046</text>
<g fill="#e9a8b5" stroke="#c84a64" stroke-width="0.7"><circle cx="467.62" cy="496.03" r="1.05"/><circle cx="473.23" cy="468.83" r="1.05"/><circle cx="491.19" cy="480.59" r="1.05"/><circle cx="468.17" cy="490.71" r="1.05"/><circle cx="460.86" cy="501.03" r="1.05"/><circle cx="444.21" cy="510.28" r="1.05"/><circle cx="482.54" cy="489.37" r="1.05"/><circle cx="481.92" cy="508.63" r="1.05"/><circle cx="471.22" cy="487.54" r="1.05"/><circle cx="477.25" cy="491.39" r="1.05"/><circle cx="481.17" cy="474.22" r="1.05"/><circle cx="486.94" cy="518.56" r="1.05"/><circle cx="449.99" cy="464.77" r="1.05"/><circle cx="505.02" cy="483.48" r="1.05"/><circle cx="462.92" cy="469.07" r="1.05"/><circle cx="470.86" cy="483.94" r="1.05"/><circle cx="487.3" cy="487.76" r="1.05"/><circle cx="443.18" cy="493.62" r="1.05"/><circle cx="476.78" cy="499.44" r="1.05"/><circle cx="473.34" cy="494.89" r="1.05"/><circle cx="475.82" cy="494.72" r="1.05"/><circle cx="480.99" cy="493.12" r="1.05"/><circle cx="452.1" cy="477.45" r="1.05"/><circle cx="473.1" cy="485.14" r="1.05"/><circle cx="445.86" cy="490.41" r="1.05"/><circle cx="481.95" cy="484.11" r="1.05"/><circle cx="450.58" cy="466.82" r="1.05"/><circle cx="474.07" cy="487.62" r="1.05"/><circle cx="461.28" cy="487.66" r="1.05"/><circle cx="475.04" cy="520.23" r="1.05"/><circle cx="462.65" cy="503.91" r="1.05"/><circle cx="474.07" cy="485.66" r="1.05"/><circle cx="468.18" cy="480.81" r="1.05"/><circle cx="492.14" cy="462.66" r="1.05"/><circle cx="449.65" cy="459.56" r="1.05"/><circle cx="469.49" cy="511.03" r="1.05"/><circle cx="486.85" cy="499.97" r="1.05"/><circle cx="458.43" cy="472.6" r="1.05"/><circle cx="464.94" cy="483.97" r="1.05"/><circle cx="485.76" cy="483.53" r="1.05"/><circle cx="429.52" cy="487.81" r="1.05"/><circle cx="448.42" cy="502.37" r="1.05"/><circle cx="448.94" cy="481.8" r="1.05"/><circle cx="469.31" cy="490.13" r="1.05"/><circle cx="482.97" cy="486.42" r="1.05"/><circle cx="463.79" cy="471.78" r="1.05"/><circle cx="475.87" cy="484.09" r="1.05"/><circle cx="483.89" cy="477.13" r="1.05"/><circle cx="470.66" cy="486.29" r="1.05"/><circle cx="461.41" cy="499.28" r="1.05"/><circle cx="501.71" cy="485.47" r="1.05"/><circle cx="433.92" cy="480.96" r="1.05"/><circle cx="456.99" cy="499.64" r="1.05"/><circle cx="462.53" cy="482.04" r="1.05"/><circle cx="482.96" cy="491.44" r="1.05"/><circle cx="465" cy="478.86" r="1.05"/><circle cx="433.78" cy="505.7" r="1.05"/><circle cx="446.44" cy="469.49" r="1.05"/><circle cx="462.41" cy="502.1" r="1.05"/><circle cx="454.42" cy="503.9" r="1.05"/><circle cx="471.69" cy="488.84" r="1.05"/><circle cx="474.44" cy="479.05" r="1.05"/><circle cx="478.48" cy="483.03" r="1.05"/><circle cx="458.49" cy="481.67" r="1.05"/><circle cx="466.11" cy="486.39" r="1.05"/><circle cx="487.38" cy="500.17" r="1.05"/><circle cx="475.73" cy="481.52" r="1.05"/><circle cx="468.17" cy="494.42" r="1.05"/><circle cx="467.39" cy="490.42" r="1.05"/><circle cx="452.09" cy="499.63" r="1.05"/><circle cx="442.98" cy="490.34" r="1.05"/><circle cx="460.66" cy="485.13" r="1.05"/><circle cx="467.43" cy="496.09" r="1.05"/><circle cx="470.28" cy="482.56" r="1.05"/><circle cx="478.97" cy="486.71" r="1.05"/><circle cx="473.72" cy="471.07" r="1.05"/><circle cx="477.54" cy="508.01" r="1.05"/><circle cx="462.8" cy="476.36" r="1.05"/><circle cx="469.88" cy="497.91" r="1.05"/><circle cx="444.91" cy="514.08" r="1.05"/><circle cx="453.5" cy="492.74" r="1.05"/><circle cx="478.5" cy="484.4" r="1.05"/><circle cx="472.48" cy="488.59" r="1.05"/><circle cx="486.27" cy="482.19" r="1.05"/><circle cx="460.88" cy="468.03" r="1.05"/><circle cx="468.91" cy="476.83" r="1.05"/><circle cx="467.51" cy="464.26" r="1.05"/><circle cx="466.6" cy="489.6" r="1.05"/><circle cx="461.58" cy="509" r="1.05"/><circle cx="461.49" cy="484.64" r="1.05"/><circle cx="472.88" cy="487.09" r="1.05"/><circle cx="492.14" cy="498.78" r="1.05"/><circle cx="480.45" cy="481.92" r="1.05"/><circle cx="453.86" cy="501.73" r="1.05"/><circle cx="469.74" cy="508.32" r="1.05"/><circle cx="478.45" cy="478.16" r="1.05"/><circle cx="487.36" cy="495.39" r="1.05"/><circle cx="473.3" cy="473.56" r="1.05"/><circle cx="478.58" cy="490.78" r="1.05"/><circle cx="489.05" cy="473.68" r="1.05"/><circle cx="459.66" cy="496.63" r="1.05"/><circle cx="456.67" cy="483.09" r="1.05"/><circle cx="463.36" cy="497.19" r="1.05"/><circle cx="436.84" cy="493.32" r="1.05"/><circle cx="460.41" cy="496.72" r="1.05"/><circle cx="478.88" cy="475.3" r="1.05"/><circle cx="491.48" cy="481.84" r="1.05"/><circle cx="452.42" cy="481.78" r="1.05"/><circle cx="461.11" cy="464.96" r="1.05"/><circle cx="453.13" cy="479.83" r="1.05"/><circle cx="469.37" cy="481.25" r="1.05"/><circle cx="477.1" cy="482.84" r="1.05"/><circle cx="466.39" cy="507.13" r="1.05"/><circle cx="469.05" cy="483.32" r="1.05"/><circle cx="465.09" cy="465.11" r="1.05"/><circle cx="468.2" cy="471" r="1.05"/><circle cx="486.49" cy="471.74" r="1.05"/><circle cx="453.99" cy="492.07" r="1.05"/><circle cx="484.95" cy="489.58" r="1.05"/><circle cx="464.3" cy="465.11" r="1.05"/><circle cx="487.04" cy="494.63" r="1.05"/><circle cx="483.94" cy="496.67" r="1.05"/><circle cx="461.64" cy="466.64" r="1.05"/><circle cx="479.78" cy="485.41" r="1.05"/><circle cx="447.51" cy="503.75" r="1.05"/><circle cx="479.83" cy="494.37" r="1.05"/><circle cx="481.25" cy="498.47" r="1.05"/><circle cx="441.68" cy="496.43" r="1.05"/><circle cx="463.92" cy="503.95" r="1.05"/><circle cx="480.83" cy="486.68" r="1.05"/><circle cx="467.25" cy="501.09" r="1.05"/><circle cx="495.89" cy="484.88" r="1.05"/><circle cx="452.41" cy="467.42" r="1.05"/><circle cx="459.8" cy="474.73" r="1.05"/><circle cx="453.22" cy="494.12" r="1.05"/><circle cx="484.83" cy="496.99" r="1.05"/><circle cx="456.62" cy="471.12" r="1.05"/><circle cx="468.23" cy="509.63" r="1.05"/><circle cx="485.21" cy="486.87" r="1.05"/><circle cx="480.58" cy="497.77" r="1.05"/><circle cx="472.09" cy="480.44" r="1.05"/><circle cx="442.1" cy="489.41" r="1.05"/><circle cx="469.19" cy="500.73" r="1.05"/><circle cx="479.51" cy="483.87" r="1.05"/><circle cx="453.68" cy="493.99" r="1.05"/><circle cx="459.98" cy="480.03" r="1.05"/><circle cx="459.65" cy="483.21" r="1.05"/><circle cx="462.4" cy="492" r="1.05"/><circle cx="487.46" cy="461.93" r="1.05"/><circle cx="481.14" cy="486.08" r="1.05"/><circle cx="461.03" cy="485.68" r="1.05"/><circle cx="448.44" cy="462.02" r="1.05"/><circle cx="469.31" cy="499.33" r="1.05"/><circle cx="458.87" cy="478.4" r="1.05"/><circle cx="474.17" cy="497.82" r="1.05"/><circle cx="469.29" cy="522.92" r="1.05"/><circle cx="463.19" cy="466.7" r="1.05"/><circle cx="474.64" cy="503.45" r="1.05"/><circle cx="478.33" cy="492.67" r="1.05"/><circle cx="454.47" cy="482.79" r="1.05"/><circle cx="459.13" cy="451.74" r="1.05"/><circle cx="480.41" cy="483.05" r="1.05"/><circle cx="479.07" cy="488.87" r="1.05"/><circle cx="453.77" cy="510.2" r="1.05"/><circle cx="468.69" cy="476.97" r="1.05"/><circle cx="465.5" cy="491" r="1.05"/><circle cx="444.32" cy="502.68" r="1.05"/><circle cx="493.78" cy="506.59" r="1.05"/><circle cx="441.46" cy="480.82" r="1.05"/><circle cx="489.55" cy="494.24" r="1.05"/><circle cx="467.12" cy="462.69" r="1.05"/><circle cx="452.62" cy="486.27" r="1.05"/><circle cx="481.59" cy="465.56" r="1.05"/><circle cx="465.83" cy="489.72" r="1.05"/><circle cx="469.02" cy="482.85" r="1.05"/><circle cx="445.7" cy="490.4" r="1.05"/><circle cx="462.69" cy="478.4" r="1.05"/><circle cx="452.46" cy="472.6" r="1.05"/><circle cx="473.42" cy="485.45" r="1.05"/><circle cx="451.16" cy="510.88" r="1.05"/><circle cx="462.63" cy="488.5" r="1.05"/><circle cx="456.48" cy="486.13" r="1.05"/><circle cx="456.91" cy="488.26" r="1.05"/><circle cx="466.14" cy="450.55" r="1.05"/><circle cx="457.74" cy="473.77" r="1.05"/><circle cx="483.42" cy="488.74" r="1.05"/><circle cx="462.02" cy="476.47" r="1.05"/><circle cx="482.84" cy="465.84" r="1.05"/><circle cx="485.91" cy="495.27" r="1.05"/><circle cx="462.79" cy="490.72" r="1.05"/><circle cx="480.42" cy="482.48" r="1.05"/><circle cx="488.89" cy="480.56" r="1.05"/><circle cx="460.9" cy="512.35" r="1.05"/><circle cx="455.38" cy="473.94" r="1.05"/><circle cx="481.76" cy="482.73" r="1.05"/><circle cx="476.37" cy="492.9" r="1.05"/><circle cx="452.11" cy="493.66" r="1.05"/><circle cx="469.07" cy="475.04" r="1.05"/><circle cx="489.75" cy="472.99" r="1.05"/><circle cx="487.06" cy="508.07" r="1.05"/><circle cx="470.29" cy="488.62" r="1.05"/><circle cx="477.45" cy="480.62" r="1.05"/><circle cx="481" cy="471.05" r="1.05"/><circle cx="457.26" cy="493.03" r="1.05"/><circle cx="470.36" cy="486.95" r="1.05"/><circle cx="469.92" cy="478.27" r="1.05"/><circle cx="479.3" cy="484.07" r="1.05"/><circle cx="448.37" cy="519.09" r="1.05"/><circle cx="457.98" cy="488.42" r="1.05"/><circle cx="449.45" cy="486.71" r="1.05"/><circle cx="476.52" cy="468.33" r="1.05"/><circle cx="483.38" cy="502.94" r="1.05"/><circle cx="481.99" cy="476.45" r="1.05"/><circle cx="490.39" cy="493.62" r="1.05"/><circle cx="461.45" cy="476.88" r="1.05"/><circle cx="470.62" cy="498.25" r="1.05"/><circle cx="503.1" cy="497.02" r="1.05"/><circle cx="460.74" cy="489.73" r="1.05"/><circle cx="454.03" cy="496.18" r="1.05"/><circle cx="472.62" cy="486.77" r="1.05"/><circle cx="452.26" cy="482.04" r="1.05"/><circle cx="484.86" cy="470.82" r="1.05"/><circle cx="460.74" cy="494.4" r="1.05"/><circle cx="471.08" cy="505.15" r="1.05"/><circle cx="454.23" cy="469.76" r="1.05"/><circle cx="471" cy="483.71" r="1.05"/><circle cx="460.45" cy="501.04" r="1.05"/><circle cx="457.65" cy="474.23" r="1.05"/><circle cx="463.07" cy="491.96" r="1.05"/><circle cx="462.69" cy="492.1" r="1.05"/><circle cx="478.07" cy="492.55" r="1.05"/><circle cx="452.8" cy="497.89" r="1.05"/><circle cx="474.59" cy="483.29" r="1.05"/><circle cx="503.1" cy="507.25" r="1.05"/><circle cx="484.92" cy="510.98" r="1.05"/><circle cx="479.26" cy="493.66" r="1.05"/><circle cx="470.48" cy="478.5" r="1.05"/><circle cx="463.44" cy="479.68" r="1.05"/><circle cx="449.98" cy="470.03" r="1.05"/><circle cx="462.38" cy="486.33" r="1.05"/><circle cx="474.27" cy="496.61" r="1.05"/><circle cx="472.24" cy="490.59" r="1.05"/><circle cx="479.54" cy="486.93" r="1.05"/><circle cx="446.8" cy="509.29" r="1.05"/><circle cx="443.25" cy="490.38" r="1.05"/><circle cx="479.91" cy="484.53" r="1.05"/><circle cx="458.12" cy="482.18" r="1.05"/><circle cx="471.94" cy="485.69" r="1.05"/><circle cx="471.6" cy="478.56" r="1.05"/><circle cx="466.15" cy="484.03" r="1.05"/><circle cx="444.78" cy="498.47" r="1.05"/><circle cx="462.58" cy="496.17" r="1.05"/><circle cx="440.4" cy="482.11" r="1.05"/><circle cx="461.38" cy="468.4" r="1.05"/><circle cx="458.53" cy="477.65" r="1.05"/><circle cx="444.99" cy="469.5" r="1.05"/><circle cx="469.4" cy="492.75" r="1.05"/><circle cx="458.28" cy="508.82" r="1.05"/><circle cx="462.06" cy="490.89" r="1.05"/><circle cx="478.94" cy="495.83" r="1.05"/><circle cx="447.49" cy="481.57" r="1.05"/><circle cx="468.13" cy="481.5" r="1.05"/><circle cx="487.42" cy="493.88" r="1.05"/><circle cx="470.4" cy="484.9" r="1.05"/><circle cx="467.45" cy="491.02" r="1.05"/><circle cx="483.33" cy="490.45" r="1.05"/><circle cx="464.59" cy="506.31" r="1.05"/><circle cx="481.81" cy="493.23" r="1.05"/><circle cx="480.36" cy="498.23" r="1.05"/><circle cx="458.7" cy="472.17" r="1.05"/><circle cx="466.68" cy="474.98" r="1.05"/><circle cx="458.62" cy="512.16" r="1.05"/><circle cx="479.74" cy="474.83" r="1.05"/><circle cx="459.76" cy="502.53" r="1.05"/><circle cx="465.76" cy="508.83" r="1.05"/><circle cx="462.75" cy="485.45" r="1.05"/><circle cx="470.06" cy="496.74" r="1.05"/><circle cx="489.73" cy="468.95" r="1.05"/><circle cx="478.73" cy="497.53" r="1.05"/><circle cx="454.48" cy="484" r="1.05"/><circle cx="470.98" cy="503.36" r="1.05"/><circle cx="494.42" cy="502.41" r="1.05"/><circle cx="469.59" cy="464.79" r="1.05"/><circle cx="450.79" cy="489.48" r="1.05"/><circle cx="470.7" cy="483.36" r="1.05"/><circle cx="475.58" cy="473.65" r="1.05"/><circle cx="438.16" cy="489.36" r="1.05"/><circle cx="464.32" cy="494.43" r="1.05"/><circle cx="437.56" cy="460.92" r="1.05"/><circle cx="474.19" cy="479.88" r="1.05"/><circle cx="442.88" cy="466.05" r="1.05"/><circle cx="460.34" cy="460.09" r="1.05"/><circle cx="465.75" cy="489.74" r="1.05"/><circle cx="485.58" cy="473.43" r="1.05"/><circle cx="458.04" cy="489.03" r="1.05"/><circle cx="448.63" cy="478.4" r="1.05"/><circle cx="476.79" cy="456.74" r="1.05"/><circle cx="459.93" cy="485.87" r="1.05"/><circle cx="468.19" cy="481.25" r="1.05"/><circle cx="456.22" cy="474.8" r="1.05"/><circle cx="443.62" cy="480.82" r="1.05"/><circle cx="464.03" cy="480.93" r="1.05"/><circle cx="452.78" cy="492.17" r="1.05"/><circle cx="476.16" cy="489.11" r="1.05"/><circle cx="481" cy="489.11" r="1.05"/><circle cx="488.46" cy="487.33" r="1.05"/><circle cx="444.52" cy="465.44" r="1.05"/><circle cx="490.28" cy="501.16" r="1.05"/><circle cx="479.98" cy="497.52" r="1.05"/><circle cx="460.89" cy="473.35" r="1.05"/><circle cx="471.41" cy="492.07" r="1.05"/><circle cx="454.68" cy="479.8" r="1.05"/><circle cx="450.53" cy="516.83" r="1.05"/><circle cx="456.42" cy="469.87" r="1.05"/><circle cx="459.99" cy="463.69" r="1.05"/><circle cx="461.26" cy="470.94" r="1.05"/><circle cx="468.81" cy="496" r="1.05"/><circle cx="451.18" cy="464.48" r="1.05"/><circle cx="462.52" cy="520.53" r="1.05"/><circle cx="476.08" cy="500.86" r="1.05"/><circle cx="454.02" cy="497.59" r="1.05"/><circle cx="451.1" cy="472.06" r="1.05"/><circle cx="480.09" cy="497.08" r="1.05"/><circle cx="459.8" cy="494.37" r="1.05"/><circle cx="465.41" cy="483.58" r="1.05"/><circle cx="480.05" cy="464.15" r="1.05"/><circle cx="444.29" cy="504.66" r="1.05"/><circle cx="475.19" cy="460.89" r="1.05"/><circle cx="453.37" cy="501.94" r="1.05"/><circle cx="472.73" cy="459.65" r="1.05"/><circle cx="446.27" cy="457.61" r="1.05"/><circle cx="479.19" cy="461.92" r="1.05"/><circle cx="464.59" cy="471.73" r="1.05"/><circle cx="498.68" cy="484.41" r="1.05"/><circle cx="453.73" cy="457.66" r="1.05"/><circle cx="448.21" cy="479.73" r="1.05"/><circle cx="468.79" cy="485.24" r="1.05"/><circle cx="449.4" cy="487.63" r="1.05"/><circle cx="461.84" cy="484.35" r="1.05"/><circle cx="471.63" cy="493.05" r="1.05"/><circle cx="480.73" cy="496.55" r="1.05"/><circle cx="481.2" cy="452.46" r="1.05"/><circle cx="461.33" cy="507.51" r="1.05"/><circle cx="467.97" cy="501.92" r="1.05"/><circle cx="460.47" cy="496.99" r="1.05"/><circle cx="460.95" cy="479.45" r="1.05"/><circle cx="466.15" cy="491.47" r="1.05"/><circle cx="502.31" cy="457.47" r="1.05"/><circle cx="482.98" cy="505.71" r="1.05"/><circle cx="467.42" cy="450.21" r="1.05"/><circle cx="442.78" cy="478.74" r="1.05"/><circle cx="431.56" cy="455.47" r="1.05"/><circle cx="481.38" cy="468.63" r="1.05"/><circle cx="494.62" cy="483.97" r="1.05"/><circle cx="453.9" cy="504.95" r="1.05"/><circle cx="491.23" cy="465.52" r="1.05"/><circle cx="465.31" cy="481.45" r="1.05"/><circle cx="456.23" cy="469.81" r="1.05"/><circle cx="465.6" cy="489.31" r="1.05"/><circle cx="466.49" cy="514.85" r="1.05"/><circle cx="465.05" cy="487.1" r="1.05"/><circle cx="455.2" cy="497.82" r="1.05"/><circle cx="444.91" cy="469.09" r="1.05"/><circle cx="476.55" cy="491.98" r="1.05"/><circle cx="472.27" cy="471.73" r="1.05"/><circle cx="470.47" cy="503.46" r="1.05"/><circle cx="491.25" cy="486.78" r="1.05"/><circle cx="498.2" cy="495.87" r="1.05"/><circle cx="470.34" cy="488.88" r="1.05"/><circle cx="468.28" cy="475.29" r="1.05"/><circle cx="467.5" cy="493.93" r="1.05"/><circle cx="461.15" cy="478.95" r="1.05"/><circle cx="482.79" cy="464.94" r="1.05"/><circle cx="474.13" cy="492.86" r="1.05"/><circle cx="475.81" cy="478.48" r="1.05"/><circle cx="454.78" cy="490.12" r="1.05"/><circle cx="431.38" cy="491.92" r="1.05"/><circle cx="461.34" cy="465.19" r="1.05"/><circle cx="474.86" cy="490.27" r="1.05"/><circle cx="459.05" cy="463.55" r="1.05"/><circle cx="457.55" cy="483.82" r="1.05"/><circle cx="485.9" cy="471.4" r="1.05"/><circle cx="466.38" cy="466.15" r="1.05"/><circle cx="442.03" cy="487.24" r="1.05"/><circle cx="484.15" cy="472.28" r="1.05"/><circle cx="471.75" cy="459.02" r="1.05"/><circle cx="468.11" cy="467.55" r="1.05"/><circle cx="460.32" cy="487.56" r="1.05"/><circle cx="449.8" cy="488.96" r="1.05"/><circle cx="486.03" cy="493.23" r="1.05"/><circle cx="477.02" cy="473.1" r="1.05"/><circle cx="489.42" cy="480.75" r="1.05"/><circle cx="459.9" cy="507.36" r="1.05"/><circle cx="477.66" cy="486.37" r="1.05"/><circle cx="442.56" cy="463.75" r="1.05"/><circle cx="487.87" cy="486.32" r="1.05"/><circle cx="450.18" cy="467.62" r="1.05"/><circle cx="431.04" cy="470.07" r="1.05"/><circle cx="462.75" cy="488.24" r="1.05"/><circle cx="455.33" cy="473.97" r="1.05"/><circle cx="451.79" cy="482.53" r="1.05"/><circle cx="477.68" cy="471.26" r="1.05"/><circle cx="475.07" cy="473.19" r="1.05"/><circle cx="479.5" cy="478.09" r="1.05"/><circle cx="474.13" cy="480.56" r="1.05"/><circle cx="483.09" cy="496.06" r="1.05"/><circle cx="458.84" cy="514.22" r="1.05"/><circle cx="451" cy="472.78" r="1.05"/><circle cx="480.8" cy="492.47" r="1.05"/><circle cx="484.5" cy="491.46" r="1.05"/><circle cx="477.17" cy="491.73" r="1.05"/><circle cx="474.66" cy="500.91" r="1.05"/><circle cx="450.07" cy="481.8" r="1.05"/><circle cx="434" cy="498.02" r="1.05"/><circle cx="457.09" cy="486.62" r="1.05"/><circle cx="476.32" cy="514.07" r="1.05"/><circle cx="459.7" cy="493.36" r="1.05"/><circle cx="479.08" cy="502.46" r="1.05"/><circle cx="469.6" cy="451.08" r="1.05"/><circle cx="466.24" cy="487.21" r="1.05"/><circle cx="475.02" cy="478.49" r="1.05"/><circle cx="470.61" cy="502.09" r="1.05"/><circle cx="471.73" cy="502.07" r="1.05"/><circle cx="486.01" cy="454.82" r="1.05"/><circle cx="452.76" cy="507.35" r="1.05"/><circle cx="459.51" cy="482.54" r="1.05"/><circle cx="464.52" cy="478.52" r="1.05"/><circle cx="460.92" cy="488.71" r="1.05"/><circle cx="453.13" cy="456.1" r="1.05"/><circle cx="466.85" cy="479.59" r="1.05"/><circle cx="471.26" cy="491.44" r="1.05"/><circle cx="479.53" cy="473.7" r="1.05"/><circle cx="461.9" cy="509.1" r="1.05"/><circle cx="447.18" cy="492.32" r="1.05"/><circle cx="486.29" cy="461.25" r="1.05"/><circle cx="476.02" cy="479.06" r="1.05"/><circle cx="453.64" cy="474.56" r="1.05"/><circle cx="480.23" cy="493.29" r="1.05"/><circle cx="471.62" cy="511.2" r="1.05"/><circle cx="457.51" cy="498.71" r="1.05"/><circle cx="475.69" cy="493.17" r="1.05"/><circle cx="440.8" cy="485.71" r="1.05"/><circle cx="459.44" cy="488.21" r="1.05"/><circle cx="473.55" cy="469.96" r="1.05"/><circle cx="467.76" cy="490.49" r="1.05"/><circle cx="470.32" cy="481.46" r="1.05"/><circle cx="456.59" cy="463.59" r="1.05"/><circle cx="499.71" cy="496.62" r="1.05"/><circle cx="459.73" cy="470.28" r="1.05"/><circle cx="492.43" cy="482.85" r="1.05"/><circle cx="455.37" cy="467.36" r="1.05"/><circle cx="495.61" cy="491.03" r="1.05"/><circle cx="488.12" cy="493.04" r="1.05"/><circle cx="469.52" cy="476.63" r="1.05"/><circle cx="475.77" cy="476.65" r="1.05"/><circle cx="487.11" cy="494.7" r="1.05"/><circle cx="482.25" cy="496.4" r="1.05"/><circle cx="470.48" cy="476.22" r="1.05"/><circle cx="478.72" cy="482.14" r="1.05"/><circle cx="460.76" cy="484.39" r="1.05"/><circle cx="469.32" cy="489.23" r="1.05"/><circle cx="459.8" cy="485.52" r="1.05"/><circle cx="465.36" cy="491.76" r="1.05"/><circle cx="466.91" cy="455.83" r="1.05"/><circle cx="464.86" cy="461.22" r="1.05"/><circle cx="456.83" cy="477.15" r="1.05"/><circle cx="469.35" cy="473.42" r="1.05"/><circle cx="471.58" cy="496.16" r="1.05"/><circle cx="463.46" cy="480.64" r="1.05"/><circle cx="472.57" cy="487.22" r="1.05"/><circle cx="457.88" cy="468.64" r="1.05"/><circle cx="481" cy="514.61" r="1.05"/><circle cx="454.38" cy="492.97" r="1.05"/><circle cx="463.7" cy="490.71" r="1.05"/><circle cx="462.73" cy="469.09" r="1.05"/><circle cx="495.41" cy="491.4" r="1.05"/><circle cx="466.46" cy="469.09" r="1.05"/><circle cx="454.78" cy="503.12" r="1.05"/><circle cx="490.13" cy="469.2" r="1.05"/><circle cx="454.55" cy="491.14" r="1.05"/></g>
<path d="M426 482.1L505.6 492.1" stroke="#2b4a8c" stroke-width="1.1" fill="none"/>
<rect x="426" y="444.6" width="79.6" height="78.7" fill="none" stroke="#111" stroke-width="1.4"/>
<text x="420.2" y="526.47" font-size="8.8" text-anchor="end" textLength="4.5" lengthAdjust="spacingAndGlyphs" stroke="#231f20" stroke-width="0.22">0</text>
<text x="420.2" y="500.23" font-size="8.8" text-anchor="end" textLength="11.25" lengthAdjust="spacingAndGlyphs" stroke="#231f20" stroke-width="0.22">2.5</text>
<text x="420.2" y="474" font-size="8.8" text-anchor="end" textLength="4.5" lengthAdjust="spacingAndGlyphs" stroke="#231f20" stroke-width="0.22">5</text>
<text x="420.2" y="447.77" font-size="8.8" text-anchor="end" textLength="11.25" lengthAdjust="spacingAndGlyphs" stroke="#231f20" stroke-width="0.22">7.5</text>
<text x="426" y="536.5" font-size="8.8" text-anchor="middle" textLength="4.5" lengthAdjust="spacingAndGlyphs" stroke="#231f20" stroke-width="0.22">0</text>
<text x="445.9" y="536.5" font-size="8.8" text-anchor="middle" textLength="4.5" lengthAdjust="spacingAndGlyphs" stroke="#231f20" stroke-width="0.22">2</text>
<text x="465.8" y="536.5" font-size="8.8" text-anchor="middle" textLength="4.5" lengthAdjust="spacingAndGlyphs" stroke="#231f20" stroke-width="0.22">4</text>
<text x="485.7" y="536.5" font-size="8.8" text-anchor="middle" textLength="4.5" lengthAdjust="spacingAndGlyphs" stroke="#231f20" stroke-width="0.22">6</text>
<text x="505.6" y="536.5" font-size="8.8" text-anchor="middle" textLength="4.5" lengthAdjust="spacingAndGlyphs" stroke="#231f20" stroke-width="0.22">8</text>
<path d="M422.7 523.3H426M422.7 497.07H426M422.7 470.83H426M422.7 444.6H426M426 523.3V526.6M445.9 523.3V526.6M465.8 523.3V526.6M485.7 523.3V526.6M505.6 523.3V526.6" stroke="#231f20" stroke-width="1.2" fill="none"/>
<text x="427.7" y="436.3" font-size="8.8" textLength="76" lengthAdjust="spacingAndGlyphs" stroke="#231f20" stroke-width="0.22">rho = -0.110, P = 0.006</text>
<text x="279.5" y="550.5" font-size="9.6" textLength="134.2" lengthAdjust="spacingAndGlyphs" stroke="#231f20" stroke-width="0.22">Log<tspan font-size="0.74em" dy="0.34em">2</tspan><tspan dy="-0.2516em">(notch signaling activity + 1)</tspan></text>
<text x="420" y="550.5" font-size="9.6" textLength="91.7" lengthAdjust="spacingAndGlyphs" stroke="#231f20" stroke-width="0.22">Log<tspan font-size="0.74em" dy="0.34em">2</tspan><tspan dy="-0.2516em">(FPKM + 1) of IL33</tspan></text>
<text transform="translate(284 231.2) rotate(-90)" text-anchor="middle" font-size="9.6" textLength="115" lengthAdjust="spacingAndGlyphs" stroke="#231f20" stroke-width="0.22">Log<tspan font-size="0.74em" dy="0.34em">2</tspan><tspan dy="-0.2516em">(CD8<tspan font-size="0.72em" dy="-0.55em">+</tspan><tspan dy="0.396em"> T cell activity + 1)</tspan></tspan></text>
<text transform="translate(288.4 355.2) rotate(-90)" text-anchor="middle" font-size="9.5" textLength="102" lengthAdjust="spacingAndGlyphs" stroke="#231f20" stroke-width="0.22">Log<tspan font-size="0.74em" dy="0.34em">2</tspan><tspan dy="-0.2516em">(Treg cell activity + 1)</tspan></text>
<text transform="translate(275.2 483.5) rotate(-90)" text-anchor="middle" font-size="9.3" textLength="101" lengthAdjust="spacingAndGlyphs" stroke="#231f20" stroke-width="0.22">Log<tspan font-size="0.74em" dy="0.34em">2</tspan><tspan dy="-0.2516em">(CD8<tspan font-size="0.72em" dy="-0.55em">+</tspan><tspan dy="0.396em"> T cell activity/</tspan></tspan></text>
<text transform="translate(285 483.4) rotate(-90)" text-anchor="middle" font-size="9.3" textLength="82.7" lengthAdjust="spacingAndGlyphs" stroke="#231f20" stroke-width="0.22">Treg cell activity + 1)</text>
<path d="M44.6 183.62H254.5M44.6 197.05H254.5M44.6 210.48H254.5M44.6 223.91H254.5M44.6 237.34H254.5M44.6 250.77H254.5M44.6 264.2H254.5M65.78 179.2V268.3M65.78 306.9V365.5M86.96 179.2V268.3M86.96 306.9V365.5M108.14 179.2V268.3M108.14 306.9V365.5M129.32 179.2V268.3M129.32 306.9V365.5M150.5 179.2V268.3M150.5 306.9V365.5M171.68 179.2V268.3M171.68 306.9V365.5M192.86 179.2V268.3M192.86 306.9V365.5M214.04 179.2V268.3M214.04 306.9V365.5M235.22 179.2V268.3M235.22 306.9V365.5M44.6 308.7H254.5M44.6 322.6H254.5M44.6 336.5H254.5M44.6 350.4H254.5M44.6 364.3H254.5M44.6 268.3H254.5M44.6 306.9H254.5" stroke="#dcdcdc" stroke-width="0.8" fill="none"/>
<path d="M44.6 336.5L44.6 312.7L46 316L48.5 319L52.7 323.3L61.1 327.5L71.7 330.7L82.3 332.8L95 334.5L103.4 335.5L115 336.1L128.5 336.5ZM128.5 336.5L128.5 336.5L150 338.1L171 340.2L192 342.2L213 344.8L234 348.2L240 352.3L243 357.3L244.6 362.6L245 362.6L245 336.5Z" fill="#b4b4b4"/>
<path d="M128.5 306.9V365.5" stroke="#707070" stroke-width="0.8"/>
<rect x="45.2" y="270" width="1" height="28.3" fill="#000" opacity="0.59"/>
<rect x="46.2" y="270" width="1" height="28.3" fill="#000" opacity="0.94"/>
<rect x="47.2" y="270" width="1" height="28.3" fill="#000" opacity="0.93"/>
<rect x="49.2" y="270" width="1" height="28.3" fill="#000" opacity="0.64"/>
<rect x="50.2" y="270" width="1" height="28.3" fill="#000" opacity="0.63"/>
<rect x="52.2" y="270" width="1" height="28.3" fill="#000" opacity="0.46"/>
<rect x="53.2" y="270" width="1" height="28.3" fill="#000" opacity="0.54"/>
<rect x="55.2" y="270" width="1" height="28.3" fill="#000" opacity="0.21"/>
<rect x="56.2" y="270" width="1" height="28.3" fill="#000" opacity="0.89"/>
<rect x="57.2" y="270" width="1" height="28.3" fill="#000" opacity="0.31"/>
<rect x="59.2" y="270" width="1" height="28.3" fill="#000" opacity="0.43"/>
<rect x="61.2" y="270" width="1" height="28.3" fill="#000" opacity="0.75"/>
<rect x="62.2" y="270" width="1" height="28.3" fill="#000" opacity="0.35"/>
<rect x="63.2" y="270" width="1" height="28.3" fill="#000" opacity="0.77"/>
<rect x="64.2" y="270" width="1" height="28.3" fill="#000" opacity="0.83"/>
<rect x="65.2" y="270" width="1" height="28.3" fill="#000" opacity="0.45"/>
<rect x="66.2" y="270" width="1" height="28.3" fill="#000" opacity="0.87"/>
<rect x="67.2" y="270" width="1" height="28.3" fill="#000" opacity="0.92"/>
<rect x="68.2" y="270" width="1" height="28.3" fill="#000" opacity="0.22"/>
<rect x="69.2" y="270" width="1" height="28.3" fill="#000" opacity="0.18"/>
<rect x="71.2" y="270" width="1" height="28.3" fill="#000" opacity="0.27"/>
<rect x="73.2" y="270" width="1" height="28.3" fill="#000" opacity="0.48"/>
<rect x="74.2" y="270" width="1" height="28.3" fill="#000" opacity="0.31"/>
<rect x="75.2" y="270" width="1" height="28.3" fill="#000" opacity="0.48"/>
<rect x="76.2" y="270" width="1" height="28.3" fill="#000" opacity="0.58"/>
<rect x="78.2" y="270" width="1" height="28.3" fill="#000" opacity="0.71"/>
<rect x="79.2" y="270" width="1" height="28.3" fill="#000" opacity="0.91"/>
<rect x="81.2" y="270" width="1" height="28.3" fill="#000" opacity="0.79"/>
<rect x="82.2" y="270" width="1" height="28.3" fill="#000" opacity="0.4"/>
<rect x="84.2" y="270" width="1" height="28.3" fill="#000" opacity="0.34"/>
<rect x="85.2" y="270" width="1" height="28.3" fill="#000" opacity="0.3"/>
<rect x="86.2" y="270" width="1" height="28.3" fill="#000" opacity="0.94"/>
<rect x="87.2" y="270" width="1" height="28.3" fill="#000" opacity="0.22"/>
<rect x="88.2" y="270" width="1" height="28.3" fill="#000" opacity="0.59"/>
<rect x="90.2" y="270" width="1" height="28.3" fill="#000" opacity="0.9"/>
<rect x="91.2" y="270" width="1" height="28.3" fill="#000" opacity="0.71"/>
<rect x="92.2" y="270" width="1" height="28.3" fill="#000" opacity="0.72"/>
<rect x="93.2" y="270" width="1" height="28.3" fill="#000" opacity="0.27"/>
<rect x="94.2" y="270" width="1" height="28.3" fill="#000" opacity="0.78"/>
<rect x="95.2" y="270" width="1" height="28.3" fill="#000" opacity="0.84"/>
<rect x="96.2" y="270" width="1" height="28.3" fill="#000" opacity="0.21"/>
<rect x="97.2" y="270" width="1" height="28.3" fill="#000" opacity="0.17"/>
<rect x="99.2" y="270" width="1" height="28.3" fill="#000" opacity="0.65"/>
<rect x="100.5" y="270" width="1" height="28.3" fill="#000" opacity="0.25"/>
<rect x="101.5" y="270" width="1" height="28.3" fill="#000" opacity="0.2"/>
<rect x="105.8" y="270" width="1" height="28.3" fill="#000" opacity="0.7"/>
<rect x="108.4" y="270" width="1" height="28.3" fill="#000" opacity="0.7"/>
<rect x="109.8" y="270" width="1" height="28.3" fill="#000" opacity="0.5"/>
<rect x="111.3" y="270" width="1" height="28.3" fill="#000" opacity="0.25"/>
<rect x="113.4" y="270" width="1" height="28.3" fill="#000" opacity="0.85"/>
<rect x="114.4" y="270" width="1" height="28.3" fill="#000" opacity="0.3"/>
<rect x="115.6" y="270" width="1" height="28.3" fill="#000" opacity="0.3"/>
<rect x="116.8" y="270" width="1" height="28.3" fill="#000" opacity="0.35"/>
<rect x="118" y="270" width="1" height="28.3" fill="#000" opacity="0.3"/>
<rect x="119.2" y="270" width="1" height="28.3" fill="#000" opacity="0.3"/>
<rect x="120.4" y="270" width="1" height="28.3" fill="#000" opacity="0.25"/>
<rect x="121.6" y="270" width="1" height="28.3" fill="#000" opacity="0.2"/>
<rect x="124.2" y="270" width="1" height="28.3" fill="#000" opacity="0.55"/>
<rect x="126.7" y="270" width="1" height="28.3" fill="#000" opacity="0.3"/>
<rect x="129.6" y="270" width="1" height="28.3" fill="#000" opacity="0.55"/>
<rect x="134.2" y="270" width="1" height="28.3" fill="#000" opacity="0.35"/>
<rect x="139.2" y="270" width="1" height="28.3" fill="#000" opacity="0.75"/>
<rect x="143.3" y="270" width="1" height="28.3" fill="#000" opacity="0.3"/>
<rect x="146.5" y="270" width="1" height="28.3" fill="#000" opacity="0.55"/>
<rect x="153.4" y="270" width="1" height="28.3" fill="#000" opacity="0.55"/>
<rect x="158.9" y="270" width="1" height="28.3" fill="#000" opacity="0.75"/>
<rect x="160.6" y="270" width="1" height="28.3" fill="#000" opacity="0.25"/>
<rect x="161.8" y="270" width="1" height="28.3" fill="#000" opacity="0.3"/>
<rect x="163" y="270" width="1" height="28.3" fill="#000" opacity="0.3"/>
<rect x="164.2" y="270" width="1" height="28.3" fill="#000" opacity="0.25"/>
<rect x="166.4" y="270" width="1" height="28.3" fill="#000" opacity="0.55"/>
<rect x="169.4" y="270" width="1" height="28.3" fill="#000" opacity="0.5"/>
<rect x="172.2" y="270" width="1" height="28.3" fill="#000" opacity="0.7"/>
<rect x="174.6" y="270" width="1" height="28.3" fill="#000" opacity="0.4"/>
<rect x="179.7" y="270" width="1" height="28.3" fill="#000" opacity="0.55"/>
<rect x="185.8" y="270" width="1" height="28.3" fill="#000" opacity="0.55"/>
<rect x="197" y="270" width="1" height="28.3" fill="#000" opacity="0.4"/>
<rect x="200" y="270" width="1" height="28.3" fill="#000" opacity="0.3"/>
<rect x="203" y="270" width="1" height="28.3" fill="#000" opacity="0.45"/>
<rect x="205" y="270" width="1" height="28.3" fill="#000" opacity="0.75"/>
<rect x="207.5" y="270" width="1" height="28.3" fill="#000" opacity="0.5"/>
<rect x="209" y="270" width="1" height="28.3" fill="#000" opacity="0.4"/>
<rect x="213" y="270" width="1" height="28.3" fill="#000" opacity="0.2"/>
<rect x="214.2" y="270" width="1" height="28.3" fill="#000" opacity="0.25"/>
<rect x="215.4" y="270" width="1" height="28.3" fill="#000" opacity="0.25"/>
<rect x="216.6" y="270" width="1" height="28.3" fill="#000" opacity="0.2"/>
<rect x="221.6" y="270" width="1" height="28.3" fill="#000" opacity="0.45"/>
<rect x="230.7" y="270" width="1" height="28.3" fill="#000" opacity="0.35"/>
<rect x="44.6" y="298.3" width="1.3" height="7.4" fill="#8e121b"/>
<rect x="45.6" y="298.3" width="1.3" height="7.4" fill="#911720"/>
<rect x="46.6" y="298.3" width="1.3" height="7.4" fill="#98232b"/>
<rect x="47.6" y="298.3" width="1.3" height="7.4" fill="#86121a"/>
<rect x="48.6" y="298.3" width="1.3" height="7.4" fill="#9d2b33"/>
<rect x="49.6" y="298.3" width="1.3" height="7.4" fill="#94151e"/>
<rect x="50.6" y="298.3" width="1.3" height="7.4" fill="#89141d"/>
<rect x="51.6" y="298.3" width="1.3" height="7.4" fill="#a02a33"/>
<rect x="52.6" y="298.3" width="1.3" height="7.4" fill="#961721"/>
<rect x="53.6" y="298.3" width="1.3" height="7.4" fill="#951721"/>
<rect x="54.6" y="298.3" width="1.3" height="7.4" fill="#a42e37"/>
<rect x="55.6" y="298.3" width="1.3" height="7.4" fill="#9e2029"/>
<rect x="56.6" y="298.3" width="1.3" height="7.4" fill="#971a23"/>
<rect x="57.6" y="298.3" width="1.3" height="7.4" fill="#9f1e28"/>
<rect x="58.6" y="298.3" width="1.3" height="7.4" fill="#981b25"/>
<rect x="59.6" y="298.3" width="1.3" height="7.4" fill="#a72c37"/>
<rect x="60.6" y="298.3" width="1.3" height="7.4" fill="#a52a34"/>
<rect x="61.6" y="298.3" width="1.3" height="7.4" fill="#a8303b"/>
<rect x="62.6" y="298.3" width="1.3" height="7.4" fill="#a21f2c"/>
<rect x="63.6" y="298.3" width="1.3" height="7.4" fill="#951d29"/>
<rect x="64.6" y="298.3" width="1.3" height="7.4" fill="#a11f2d"/>
<rect x="65.6" y="298.3" width="1.3" height="7.4" fill="#9c1f2c"/>
<rect x="66.6" y="298.3" width="1.3" height="7.4" fill="#a82735"/>
<rect x="67.6" y="298.3" width="1.3" height="7.4" fill="#9e212f"/>
<rect x="68.6" y="298.3" width="1.3" height="7.4" fill="#ae3542"/>
<rect x="69.6" y="298.3" width="1.3" height="7.4" fill="#ac2d3c"/>
<rect x="70.6" y="298.3" width="1.3" height="7.4" fill="#a42635"/>
<rect x="71.6" y="298.3" width="1.3" height="7.4" fill="#a42737"/>
<rect x="72.6" y="298.3" width="1.3" height="7.4" fill="#ae2f40"/>
<rect x="73.6" y="298.3" width="1.3" height="7.4" fill="#b63f51"/>
<rect x="74.6" y="298.3" width="1.3" height="7.4" fill="#b53b4d"/>
<rect x="75.6" y="298.3" width="1.3" height="7.4" fill="#b73f53"/>
<rect x="76.6" y="298.3" width="1.3" height="7.4" fill="#b73f53"/>
<rect x="77.6" y="298.3" width="1.3" height="7.4" fill="#ab3549"/>
<rect x="78.6" y="298.3" width="1.3" height="7.4" fill="#bb465b"/>
<rect x="79.6" y="298.3" width="1.3" height="7.4" fill="#aa364c"/>
<rect x="80.6" y="298.3" width="1.3" height="7.4" fill="#aa384d"/>
<rect x="81.6" y="298.3" width="1.3" height="7.4" fill="#bf4f64"/>
<rect x="82.6" y="298.3" width="1.3" height="7.4" fill="#bc445b"/>
<rect x="83.6" y="298.3" width="1.3" height="7.4" fill="#bb4159"/>
<rect x="84.6" y="298.3" width="1.3" height="7.4" fill="#c2546a"/>
<rect x="85.6" y="298.3" width="1.3" height="7.4" fill="#bd475e"/>
<rect x="86.6" y="298.3" width="1.3" height="7.4" fill="#ae3f56"/>
<rect x="87.6" y="298.3" width="1.3" height="7.4" fill="#c3556c"/>
<rect x="88.6" y="298.3" width="1.3" height="7.4" fill="#bb475f"/>
<rect x="89.6" y="298.3" width="1.3" height="7.4" fill="#c5586f"/>
<rect x="90.6" y="298.3" width="1.3" height="7.4" fill="#bd4a63"/>
<rect x="91.6" y="298.3" width="1.3" height="7.4" fill="#b2475e"/>
<rect x="92.6" y="298.3" width="1.3" height="7.4" fill="#c65971"/>
<rect x="93.6" y="298.3" width="1.3" height="7.4" fill="#c96279"/>
<rect x="94.6" y="298.3" width="1.3" height="7.4" fill="#ca6179"/>
<rect x="95.6" y="298.3" width="1.3" height="7.4" fill="#c4556e"/>
<rect x="96.6" y="298.3" width="1.3" height="7.4" fill="#cc687f"/>
<rect x="97.6" y="298.3" width="1.3" height="7.4" fill="#cd697f"/>
<rect x="98.6" y="298.3" width="1.3" height="7.4" fill="#ca5e75"/>
<rect x="99.6" y="298.3" width="1.3" height="7.4" fill="#ba586d"/>
<rect x="100.6" y="298.3" width="1.3" height="7.4" fill="#cd657c"/>
<rect x="101.6" y="298.3" width="1.3" height="7.4" fill="#cf687f"/>
<rect x="102.6" y="298.3" width="1.3" height="7.4" fill="#c9657b"/>
<rect x="103.6" y="298.3" width="1.3" height="7.4" fill="#d5788d"/>
<rect x="104.6" y="298.3" width="1.3" height="7.4" fill="#d4829a"/>
<rect x="105.6" y="298.3" width="1.3" height="7.4" fill="#dfa2bc"/>
<rect x="106.6" y="298.3" width="1.3" height="7.4" fill="#dba3bf"/>
<rect x="107.6" y="298.3" width="1.3" height="7.4" fill="#cc99b2"/>
<rect x="108.6" y="298.3" width="1.3" height="7.4" fill="#e4b2ca"/>
<rect x="109.6" y="298.3" width="1.3" height="7.4" fill="#dfa9c4"/>
<rect x="110.6" y="298.3" width="1.3" height="7.4" fill="#dda8c4"/>
<rect x="111.6" y="298.3" width="1.3" height="7.4" fill="#e4b4cd"/>
<rect x="112.6" y="298.3" width="1.3" height="7.4" fill="#e3b3cc"/>
<rect x="113.6" y="298.3" width="1.3" height="7.4" fill="#cd9fb7"/>
<rect x="114.6" y="298.3" width="1.3" height="7.4" fill="#cca0b8"/>
<rect x="115.6" y="298.3" width="1.3" height="7.4" fill="#e6b9d2"/>
<rect x="116.6" y="298.3" width="1.3" height="7.4" fill="#dbaec6"/>
<rect x="117.6" y="298.3" width="1.3" height="7.4" fill="#cfa6bd"/>
<rect x="118.6" y="298.3" width="1.3" height="7.4" fill="#e6bcd3"/>
<rect x="119.6" y="298.3" width="1.3" height="7.4" fill="#e0b5cd"/>
<rect x="120.6" y="298.3" width="1.3" height="7.4" fill="#e7c0d8"/>
<rect x="121.6" y="298.3" width="1.3" height="7.4" fill="#e7bed6"/>
<rect x="122.6" y="298.3" width="1.3" height="7.4" fill="#deb6cf"/>
<rect x="123.6" y="298.3" width="1.3" height="7.4" fill="#e3bcd3"/>
<rect x="124.6" y="298.3" width="1.3" height="7.4" fill="#dab5cc"/>
<rect x="125.6" y="298.3" width="1.3" height="7.4" fill="#e9c6dd"/>
<rect x="126.6" y="298.3" width="1.3" height="7.4" fill="#e9c5dc"/>
<rect x="127.6" y="298.3" width="1.3" height="7.4" fill="#d6b8ce"/>
<rect x="128.6" y="298.3" width="1.3" height="7.4" fill="#dad8ec"/>
<rect x="129.6" y="298.3" width="1.3" height="7.4" fill="#dedcf0"/>
<rect x="130.6" y="298.3" width="1.3" height="7.4" fill="#dedcf0"/>
<rect x="131.6" y="298.3" width="1.3" height="7.4" fill="#c8c6d9"/>
<rect x="132.6" y="298.3" width="1.3" height="7.4" fill="#dad8ec"/>
<rect x="133.6" y="298.3" width="1.3" height="7.4" fill="#e0def1"/>
<rect x="134.6" y="298.3" width="1.3" height="7.4" fill="#cfcde1"/>
<rect x="135.6" y="298.3" width="1.3" height="7.4" fill="#dddbf0"/>
<rect x="136.6" y="298.3" width="1.3" height="7.4" fill="#dcdaef"/>
<rect x="137.6" y="298.3" width="1.3" height="7.4" fill="#dedcf0"/>
<rect x="138.6" y="298.3" width="1.3" height="7.4" fill="#dbd9ef"/>
<rect x="139.6" y="298.3" width="1.3" height="7.4" fill="#dcdaf0"/>
<rect x="140.6" y="298.3" width="1.3" height="7.4" fill="#dedcf0"/>
<rect x="141.6" y="298.3" width="1.3" height="7.4" fill="#d5d3e9"/>
<rect x="142.6" y="298.3" width="1.3" height="7.4" fill="#dddbf0"/>
<rect x="143.6" y="298.3" width="1.3" height="7.4" fill="#cecce1"/>
<rect x="144.6" y="298.3" width="1.3" height="7.4" fill="#dedcf1"/>
<rect x="145.6" y="298.3" width="1.3" height="7.4" fill="#cecce2"/>
<rect x="146.6" y="298.3" width="1.3" height="7.4" fill="#cccadf"/>
<rect x="147.6" y="298.3" width="1.3" height="7.4" fill="#d9d7ee"/>
<rect x="148.6" y="298.3" width="1.3" height="7.4" fill="#d0cee4"/>
<rect x="149.6" y="298.3" width="1.3" height="7.4" fill="#dad8ef"/>
<rect x="150.6" y="298.3" width="1.3" height="7.4" fill="#cecce3"/>
<rect x="151.6" y="298.3" width="1.3" height="7.4" fill="#d8d5ed"/>
<rect x="152.6" y="298.3" width="1.3" height="7.4" fill="#cdc9e7"/>
<rect x="153.6" y="298.3" width="1.3" height="7.4" fill="#b7b4d1"/>
<rect x="154.6" y="298.3" width="1.3" height="7.4" fill="#cac6e6"/>
<rect x="155.6" y="298.3" width="1.3" height="7.4" fill="#cac6e7"/>
<rect x="156.6" y="298.3" width="1.3" height="7.4" fill="#bbb7d5"/>
<rect x="157.6" y="298.3" width="1.3" height="7.4" fill="#cac7e7"/>
<rect x="158.6" y="298.3" width="1.3" height="7.4" fill="#c1bddd"/>
<rect x="159.6" y="298.3" width="1.3" height="7.4" fill="#ccc8e7"/>
<rect x="160.6" y="298.3" width="1.3" height="7.4" fill="#bab7d5"/>
<rect x="161.6" y="298.3" width="1.3" height="7.4" fill="#cbc7e6"/>
<rect x="162.6" y="298.3" width="1.3" height="7.4" fill="#ccc8e7"/>
<rect x="163.6" y="298.3" width="1.3" height="7.4" fill="#b4b0cf"/>
<rect x="164.6" y="298.3" width="1.3" height="7.4" fill="#cbc7e7"/>
<rect x="165.6" y="298.3" width="1.3" height="7.4" fill="#b5b2d1"/>
<rect x="166.6" y="298.3" width="1.3" height="7.4" fill="#b3afcf"/>
<rect x="167.6" y="298.3" width="1.3" height="7.4" fill="#c2bee0"/>
<rect x="168.6" y="298.3" width="1.3" height="7.4" fill="#ccc8e8"/>
<rect x="169.6" y="298.3" width="1.3" height="7.4" fill="#cbc7e7"/>
<rect x="170.6" y="298.3" width="1.3" height="7.4" fill="#c8c5e6"/>
<rect x="171.6" y="298.3" width="1.3" height="7.4" fill="#c6c2e5"/>
<rect x="172.6" y="298.3" width="1.3" height="7.4" fill="#c1bddf"/>
<rect x="173.6" y="298.3" width="1.3" height="7.4" fill="#b3afcf"/>
<rect x="174.6" y="298.3" width="1.3" height="7.4" fill="#c6c2e5"/>
<rect x="175.6" y="298.3" width="1.3" height="7.4" fill="#c8c5e6"/>
<rect x="176.6" y="298.3" width="1.3" height="7.4" fill="#bcb8de"/>
<rect x="177.6" y="298.3" width="1.3" height="7.4" fill="#928dc8"/>
<rect x="178.6" y="298.3" width="1.3" height="7.4" fill="#938dc8"/>
<rect x="179.6" y="298.3" width="1.3" height="7.4" fill="#8681c1"/>
<rect x="180.6" y="298.3" width="1.3" height="7.4" fill="#827cba"/>
<rect x="181.6" y="298.3" width="1.3" height="7.4" fill="#918bc6"/>
<rect x="182.6" y="298.3" width="1.3" height="7.4" fill="#8780c2"/>
<rect x="183.6" y="298.3" width="1.3" height="7.4" fill="#8079b8"/>
<rect x="184.6" y="298.3" width="1.3" height="7.4" fill="#7d76b6"/>
<rect x="185.6" y="298.3" width="1.3" height="7.4" fill="#867fc0"/>
<rect x="186.6" y="298.3" width="1.3" height="7.4" fill="#7871af"/>
<rect x="187.6" y="298.3" width="1.3" height="7.4" fill="#8983c2"/>
<rect x="188.6" y="298.3" width="1.3" height="7.4" fill="#7b74b5"/>
<rect x="189.6" y="298.3" width="1.3" height="7.4" fill="#7972b2"/>
<rect x="190.6" y="298.3" width="1.3" height="7.4" fill="#756fae"/>
<rect x="191.6" y="298.3" width="1.3" height="7.4" fill="#7e77bb"/>
<rect x="192.6" y="298.3" width="1.3" height="7.4" fill="#8781c0"/>
<rect x="193.6" y="298.3" width="1.3" height="7.4" fill="#8881c0"/>
<rect x="194.6" y="298.3" width="1.3" height="7.4" fill="#7b73b8"/>
<rect x="195.6" y="298.3" width="1.3" height="7.4" fill="#847cbe"/>
<rect x="196.6" y="298.3" width="1.3" height="7.4" fill="#746cb1"/>
<rect x="197.6" y="298.3" width="1.3" height="7.4" fill="#6860af"/>
<rect x="198.6" y="298.3" width="1.3" height="7.4" fill="#554d9f"/>
<rect x="199.6" y="298.3" width="1.3" height="7.4" fill="#625bac"/>
<rect x="200.6" y="298.3" width="1.3" height="7.4" fill="#6962b0"/>
<rect x="201.6" y="298.3" width="1.3" height="7.4" fill="#645cad"/>
<rect x="202.6" y="298.3" width="1.3" height="7.4" fill="#5952a8"/>
<rect x="203.6" y="298.3" width="1.3" height="7.4" fill="#574fa4"/>
<rect x="204.6" y="298.3" width="1.3" height="7.4" fill="#5b53a8"/>
<rect x="205.6" y="298.3" width="1.3" height="7.4" fill="#625bac"/>
<rect x="206.6" y="298.3" width="1.3" height="7.4" fill="#5850a5"/>
<rect x="207.6" y="298.3" width="1.3" height="7.4" fill="#4e4796"/>
<rect x="208.6" y="298.3" width="1.3" height="7.4" fill="#554da4"/>
<rect x="209.6" y="298.3" width="1.3" height="7.4" fill="#4e4796"/>
<rect x="210.6" y="298.3" width="1.3" height="7.4" fill="#655ead"/>
<rect x="211.6" y="298.3" width="1.3" height="7.4" fill="#4d4594"/>
<rect x="212.6" y="298.3" width="1.3" height="7.4" fill="#4e4797"/>
<rect x="213.6" y="298.3" width="1.3" height="7.4" fill="#534ba2"/>
<rect x="214.6" y="298.3" width="1.3" height="7.4" fill="#544ca2"/>
<rect x="215.6" y="298.3" width="1.3" height="7.4" fill="#534ba2"/>
<rect x="216.6" y="298.3" width="1.3" height="7.4" fill="#4c4596"/>
<rect x="217.6" y="298.3" width="1.3" height="7.4" fill="#625baa"/>
<rect x="218.6" y="298.3" width="1.3" height="7.4" fill="#50489d"/>
<rect x="219.6" y="298.3" width="1.3" height="7.4" fill="#5149a1"/>
<rect x="220.6" y="298.3" width="1.3" height="7.4" fill="#5951a5"/>
<rect x="221.6" y="298.3" width="1.3" height="7.4" fill="#4d469a"/>
<rect x="222.6" y="298.3" width="1.3" height="7.4" fill="#4d469a"/>
<rect x="223.6" y="298.3" width="1.3" height="7.4" fill="#5f57a8"/>
<rect x="224.6" y="298.3" width="1.3" height="7.4" fill="#4d459a"/>
<rect x="225.6" y="298.3" width="1.3" height="7.4" fill="#5048a0"/>
<rect x="226.6" y="298.3" width="1.3" height="7.4" fill="#3c3896"/>
<rect x="227.6" y="298.3" width="1.3" height="7.4" fill="#3a3591"/>
<rect x="228.6" y="298.3" width="1.3" height="7.4" fill="#4d499e"/>
<rect x="229.6" y="298.3" width="1.3" height="7.4" fill="#3a3591"/>
<rect x="230.6" y="298.3" width="1.3" height="7.4" fill="#403b96"/>
<rect x="231.6" y="298.3" width="1.3" height="7.4" fill="#363188"/>
<rect x="232.6" y="298.3" width="1.3" height="7.4" fill="#454098"/>
<rect x="233.6" y="298.3" width="1.3" height="7.4" fill="#363188"/>
<rect x="234.6" y="298.3" width="1.3" height="7.4" fill="#36328a"/>
<rect x="235.6" y="298.3" width="1.3" height="7.4" fill="#38328c"/>
<rect x="236.6" y="298.3" width="1.3" height="7.4" fill="#352f84"/>
<rect x="237.6" y="298.3" width="1.3" height="7.4" fill="#4a4599"/>
<rect x="238.6" y="298.3" width="1.3" height="7.4" fill="#37308a"/>
<rect x="239.6" y="298.3" width="1.3" height="7.4" fill="#392985"/>
<rect x="240.6" y="298.3" width="1.3" height="7.4" fill="#382983"/>
<rect x="241.6" y="298.3" width="1.3" height="7.4" fill="#3e2e8a"/>
<rect x="242.6" y="298.3" width="1.3" height="7.4" fill="#4b3c92"/>
<rect x="243.6" y="298.3" width="1.1" height="7.4" fill="#46378f"/>
<polyline points="44.6,264.2 45.3,256 45.8,250.4 47.7,248 48.5,242.7 49.5,239.6 51.5,229.6 52.85,227 54.2,225 55.4,218 56.2,211.2 57.7,209.16 59.2,208 61.5,202 62.8,200.32 64.1,198.48 65.4,197.3 66.93,195.78 68.47,195.12 70,194.2 72.3,189.6 73.54,188.85 74.78,187.5 76.02,186.24 77.26,184.41 78.5,183.5 80.03,183.87 81.57,183.92 83.1,184.5 84.32,183.99 85.54,183.78 86.76,183.76 87.98,184.42 89.2,183.8 90.55,184.02 91.9,183.84 93.25,183.69 94.6,183.2 95.9,183.29 97.2,183.85 98.5,184.5 100,185.58 101.5,186.63 103,187.3 104.21,188.35 105.43,188.81 106.64,189.02 107.86,189.96 109.07,190.65 110.29,191.2 111.5,191.67 112.71,192.49 113.93,192.92 115.14,194.04 116.36,194.65 117.57,195.13 118.79,195.64 120,196.4 121.23,197.34 122.45,197.86 123.68,198.74 124.91,199.43 126.14,199.95 127.36,200.61 128.59,201.42 129.82,202.03 131.05,202.59 132.27,203.38 133.5,204.38 134.73,204.65 135.95,205.36 137.18,206.4 138.41,206.91 139.64,207.76 140.86,208.44 142.09,209.08 143.32,210.15 144.55,210.41 145.77,211.24 147,212 148.22,212.62 149.43,213.64 150.65,214.23 151.86,215.05 153.08,216.06 154.3,216.6 155.51,217.52 156.73,218.5 157.95,218.83 159.16,219.59 160.38,220.47 161.59,221.55 162.81,222.25 164.03,222.83 165.24,223.66 166.46,224.36 167.67,225.3 168.89,225.85 170.11,227 171.32,227.9 172.54,228.72 173.75,229.38 174.97,230.29 176.19,230.54 177.4,231.48 178.62,232.64 179.84,233.32 181.05,233.9 182.27,234.98 183.48,235.58 184.7,236.3 185.91,237.21 187.12,237.64 188.33,238.31 189.54,239.18 190.75,239.73 191.95,240.6 193.16,241.65 194.37,242.02 195.58,242.57 196.79,243.32 198,244.3 199.37,244.56 200.73,245.36 202.1,245.57 203.47,245.98 204.83,246.32 206.2,247 207.6,246.22 209,244.9 210.2,245.4 211.4,245.82 212.6,246.27 213.8,246.81 215,247.41 216.2,248.24 217.4,248.48 218.6,248.96 219.8,249.75 221,250.3 222.36,250.85 223.71,251.95 225.07,252.15 226.43,253.06 227.79,253.88 229.14,254.36 230.5,255.1 231.77,256.21 233.05,256.76 234.32,257.46 235.59,258.4 236.86,259.02 238.14,260.07 239.41,260.81 240.68,262.01 241.95,262.81 243.23,263.46 244.5,264.3" fill="none" stroke="#4ea62c" stroke-width="1.5" stroke-linejoin="round"/>
<rect x="44.6" y="179.2" width="209.9" height="186.3" fill="none" stroke="#111" stroke-width="1.2"/>
<text x="38.6" y="185.22" font-size="4.9" text-anchor="end" textLength="6.27" lengthAdjust="spacingAndGlyphs" fill="#333" stroke="#333" stroke-width="0.12">0.6</text>
<text x="38.6" y="198.65" font-size="4.9" text-anchor="end" textLength="6.27" lengthAdjust="spacingAndGlyphs" fill="#333" stroke="#333" stroke-width="0.12">0.5</text>
<text x="38.6" y="212.08" font-size="4.9" text-anchor="end" textLength="6.27" lengthAdjust="spacingAndGlyphs" fill="#333" stroke="#333" stroke-width="0.12">0.4</text>
<text x="38.6" y="225.51" font-size="4.9" text-anchor="end" textLength="6.27" lengthAdjust="spacingAndGlyphs" fill="#333" stroke="#333" stroke-width="0.12">0.3</text>
<text x="38.6" y="238.94" font-size="4.9" text-anchor="end" textLength="6.27" lengthAdjust="spacingAndGlyphs" fill="#333" stroke="#333" stroke-width="0.12">0.2</text>
<text x="38.6" y="252.37" font-size="4.9" text-anchor="end" textLength="6.27" lengthAdjust="spacingAndGlyphs" fill="#333" stroke="#333" stroke-width="0.12">0.1</text>
<text x="38.6" y="265.8" font-size="4.9" text-anchor="end" textLength="6.27" lengthAdjust="spacingAndGlyphs" fill="#333" stroke="#333" stroke-width="0.12">0.0</text>
<text x="38.6" y="310.3" font-size="4.9" text-anchor="end" textLength="8.77" lengthAdjust="spacingAndGlyphs" fill="#333" stroke="#333" stroke-width="0.12">0.50</text>
<text x="38.6" y="324.2" font-size="4.9" text-anchor="end" textLength="8.77" lengthAdjust="spacingAndGlyphs" fill="#333" stroke="#333" stroke-width="0.12">0.25</text>
<text x="38.6" y="338.1" font-size="4.9" text-anchor="end" textLength="8.77" lengthAdjust="spacingAndGlyphs" fill="#333" stroke="#333" stroke-width="0.12">0.00</text>
<text x="38.6" y="352" font-size="4.9" text-anchor="end" textLength="10.27" lengthAdjust="spacingAndGlyphs" fill="#333" stroke="#333" stroke-width="0.12">-0.25</text>
<text x="38.6" y="365.9" font-size="4.9" text-anchor="end" textLength="10.27" lengthAdjust="spacingAndGlyphs" fill="#333" stroke="#333" stroke-width="0.12">-0.50</text>
<text x="44.6" y="376.5" font-size="5.2" text-anchor="middle" textLength="2.66" lengthAdjust="spacingAndGlyphs" fill="#333" stroke="#333" stroke-width="0.13">0</text>
<text x="65.78" y="376.5" font-size="5.2" text-anchor="middle" textLength="11.97" lengthAdjust="spacingAndGlyphs" fill="#333" stroke="#333" stroke-width="0.13">2,500</text>
<text x="86.96" y="376.5" font-size="5.2" text-anchor="middle" textLength="11.97" lengthAdjust="spacingAndGlyphs" fill="#333" stroke="#333" stroke-width="0.13">5,000</text>
<text x="108.14" y="376.5" font-size="5.2" text-anchor="middle" textLength="11.97" lengthAdjust="spacingAndGlyphs" fill="#333" stroke="#333" stroke-width="0.13">7,500</text>
<text x="129.32" y="376.5" font-size="5.2" text-anchor="middle" textLength="14.63" lengthAdjust="spacingAndGlyphs" fill="#333" stroke="#333" stroke-width="0.13">10,000</text>
<text x="150.5" y="376.5" font-size="5.2" text-anchor="middle" textLength="14.63" lengthAdjust="spacingAndGlyphs" fill="#333" stroke="#333" stroke-width="0.13">12,500</text>
<text x="171.68" y="376.5" font-size="5.2" text-anchor="middle" textLength="14.63" lengthAdjust="spacingAndGlyphs" fill="#333" stroke="#333" stroke-width="0.13">15,000</text>
<text x="192.86" y="376.5" font-size="5.2" text-anchor="middle" textLength="14.63" lengthAdjust="spacingAndGlyphs" fill="#333" stroke="#333" stroke-width="0.13">17,500</text>
<text x="214.04" y="376.5" font-size="5.2" text-anchor="middle" textLength="14.63" lengthAdjust="spacingAndGlyphs" fill="#333" stroke="#333" stroke-width="0.13">20,000</text>
<text x="235.22" y="376.5" font-size="5.2" text-anchor="middle" textLength="14.63" lengthAdjust="spacingAndGlyphs" fill="#333" stroke="#333" stroke-width="0.13">22,500</text>
<path d="M41.6 183.62H44.6M41.6 197.05H44.6M41.6 210.48H44.6M41.6 223.91H44.6M41.6 237.34H44.6M41.6 250.77H44.6M41.6 264.2H44.6M41.6 308.7H44.6M41.6 322.6H44.6M41.6 336.5H44.6M41.6 350.4H44.6M41.6 364.3H44.6M44.6 365.5V368.5M65.78 365.5V368.5M86.96 365.5V368.5M108.14 365.5V368.5M129.32 365.5V368.5M150.5 365.5V368.5M171.68 365.5V368.5M192.86 365.5V368.5M214.04 365.5V368.5M235.22 365.5V368.5" stroke="#111" stroke-width="1" fill="none"/>
<text x="149.5" y="165.1" font-size="6.8" text-anchor="middle" textLength="52.8" lengthAdjust="spacingAndGlyphs" stroke="#231f20" stroke-width="0.17">Enrichment plot:</text>
<text x="149.4" y="174.1" font-size="6.8" text-anchor="middle" textLength="127.6" lengthAdjust="spacingAndGlyphs" stroke="#231f20" stroke-width="0.17">GSE25087_TREG_VS_TCONV_ADULT_UP</text>
<text x="186" y="208.4" font-size="5" textLength="23.65" lengthAdjust="spacingAndGlyphs" fill="#222" stroke="#222" stroke-width="0.12">NES = 2.29</text>
<text x="186" y="214.7" font-size="5" textLength="19.74" lengthAdjust="spacingAndGlyphs" fill="#222" stroke="#222" stroke-width="0.12">P &lt; 0.001</text>
<text x="186" y="221" font-size="5" textLength="26.21" lengthAdjust="spacingAndGlyphs" fill="#222" stroke="#222" stroke-width="0.12">FDR = 0.002</text>
<text x="51" y="315.9" font-size="7.3" textLength="191.8" lengthAdjust="spacingAndGlyphs" fill="#b81e48" stroke="#b81e48" stroke-width="0.18">High Notch signaling activity (n = 312) (positively correlated)</text>
<text x="67" y="359.5" font-size="7.3" textLength="165" lengthAdjust="spacingAndGlyphs" fill="#37549c" stroke="#37549c" stroke-width="0.18">Low Notch signaling activity (n = 312) (negatively correlated)</text>
<text x="103" y="336.9" font-size="6.7" textLength="49" lengthAdjust="spacingAndGlyphs" stroke="#231f20" stroke-width="0.17">Zero cross at 9882</text>
<text x="149.5" y="388.3" font-size="8.4" text-anchor="middle" textLength="86" lengthAdjust="spacingAndGlyphs" stroke="#231f20" stroke-width="0.21">Rank in ordered dataset</text>
<text transform="translate(25.8 221.7) rotate(-90)" text-anchor="middle" font-size="7.9" textLength="78" lengthAdjust="spacingAndGlyphs" stroke="#231f20" stroke-width="0.2">Enrichment score (ES)</text>
<text transform="translate(21.2 339.5) rotate(-90)" text-anchor="middle" font-size="8.6" textLength="118.5" lengthAdjust="spacingAndGlyphs" stroke="#231f20" stroke-width="0.21">Ranked list metric (Signal2Noise)</text>
<path d="M50 400.5H60.8" stroke="#6dbd45" stroke-width="1.3"/>
<path d="M123.4 400.5H134.4" stroke="#111" stroke-width="1.3"/>
<path d="M157.2 397.1H168.2" stroke="#bbb" stroke-width="1.1"/>
<path d="M169.3 400.5H180.5" stroke="#bbb" stroke-width="1.1"/>
<text x="63.8" y="402.6" font-size="6.3" textLength="50.8" lengthAdjust="spacingAndGlyphs" stroke="#231f20" stroke-width="0.16">Enrichment profile</text>
<text x="137.5" y="402.6" font-size="6.3" textLength="10.8" lengthAdjust="spacingAndGlyphs" stroke="#231f20" stroke-width="0.16">Hits</text>
<text x="183.7" y="402.6" font-size="6.3" textLength="59.6" lengthAdjust="spacingAndGlyphs" stroke="#231f20" stroke-width="0.16">Ranking metric scores</text>
<path d="M44.6 446.2H254.4M44.6 461.5H254.4M44.6 476.8H254.4M44.6 492.1H254.4M44.6 507.4H254.4M44.6 522.7H254.4M65.78 438V526.5M65.78 565.7V623.9M86.96 438V526.5M86.96 565.7V623.9M108.14 438V526.5M108.14 565.7V623.9M129.32 438V526.5M129.32 565.7V623.9M150.5 438V526.5M150.5 565.7V623.9M171.68 438V526.5M171.68 565.7V623.9M192.86 438V526.5M192.86 565.7V623.9M214.04 438V526.5M214.04 565.7V623.9M235.22 438V526.5M235.22 565.7V623.9M44.6 572H254.4M44.6 580.18H254.4M44.6 588.35H254.4M44.6 596.53H254.4M44.6 604.7H254.4M44.6 612.88H254.4M44.6 621.05H254.4M44.6 526.5H254.4M44.6 565.7H254.4" stroke="#dcdcdc" stroke-width="0.8" fill="none"/>
<path d="M44.7 604.7L44.7 590.9L46 593.5L48.7 595.3L55.9 597.1L66.6 598.9L80 600.2L100 602.6L120 603.9L136.3 604.7ZM136.3 604.7L136.3 604.7L150 606.3L170 607.2L200 608.8L230 611.3L240 613.8L243 616.3L244.6 621.3L245 621.3L245 604.7Z" fill="#b4b4b4"/>
<path d="M136.3 565.7V623.9" stroke="#707070" stroke-width="0.8"/>
<rect x="45.2" y="528.8" width="1" height="28.2" fill="#000" opacity="0.91"/>
<rect x="46.2" y="528.8" width="1" height="28.2" fill="#000" opacity="0.47"/>
<rect x="48.2" y="528.8" width="1" height="28.2" fill="#000" opacity="0.52"/>
<rect x="49.2" y="528.8" width="1" height="28.2" fill="#000" opacity="0.79"/>
<rect x="50.2" y="528.8" width="1" height="28.2" fill="#000" opacity="0.77"/>
<rect x="51.2" y="528.8" width="1" height="28.2" fill="#000" opacity="0.88"/>
<rect x="52.2" y="528.8" width="1" height="28.2" fill="#000" opacity="0.53"/>
<rect x="53.2" y="528.8" width="1" height="28.2" fill="#000" opacity="0.45"/>
<rect x="54.2" y="528.8" width="1" height="28.2" fill="#000" opacity="0.6"/>
<rect x="55.2" y="528.8" width="1" height="28.2" fill="#000" opacity="0.31"/>
<rect x="56.2" y="528.8" width="1" height="28.2" fill="#000" opacity="0.61"/>
<rect x="57.2" y="528.8" width="1" height="28.2" fill="#000" opacity="0.17"/>
<rect x="58.2" y="528.8" width="1" height="28.2" fill="#000" opacity="0.9"/>
<rect x="59.2" y="528.8" width="1" height="28.2" fill="#000" opacity="0.42"/>
<rect x="60.2" y="528.8" width="1" height="28.2" fill="#000" opacity="0.28"/>
<rect x="61.2" y="528.8" width="1" height="28.2" fill="#000" opacity="0.34"/>
<rect x="62.2" y="528.8" width="1" height="28.2" fill="#000" opacity="0.45"/>
<rect x="63.2" y="528.8" width="1" height="28.2" fill="#000" opacity="0.49"/>
<rect x="64.2" y="528.8" width="1" height="28.2" fill="#000" opacity="0.93"/>
<rect x="65.2" y="528.8" width="1" height="28.2" fill="#000" opacity="0.56"/>
<rect x="66.2" y="528.8" width="1" height="28.2" fill="#000" opacity="0.6"/>
<rect x="67.2" y="528.8" width="1" height="28.2" fill="#000" opacity="0.71"/>
<rect x="68.2" y="528.8" width="1" height="28.2" fill="#000" opacity="0.55"/>
<rect x="69.2" y="528.8" width="1" height="28.2" fill="#000" opacity="0.27"/>
<rect x="71.2" y="528.8" width="1" height="28.2" fill="#000" opacity="0.83"/>
<rect x="73.2" y="528.8" width="1" height="28.2" fill="#000" opacity="0.48"/>
<rect x="74.2" y="528.8" width="1" height="28.2" fill="#000" opacity="0.25"/>
<rect x="76.2" y="528.8" width="1" height="28.2" fill="#000" opacity="0.32"/>
<rect x="77.2" y="528.8" width="1" height="28.2" fill="#000" opacity="0.4"/>
<rect x="78.2" y="528.8" width="1" height="28.2" fill="#000" opacity="0.7"/>
<rect x="79.2" y="528.8" width="1" height="28.2" fill="#000" opacity="0.33"/>
<rect x="80.2" y="528.8" width="1" height="28.2" fill="#000" opacity="0.48"/>
<rect x="81.2" y="528.8" width="1" height="28.2" fill="#000" opacity="0.5"/>
<rect x="83.2" y="528.8" width="1" height="28.2" fill="#000" opacity="0.71"/>
<rect x="84.2" y="528.8" width="1" height="28.2" fill="#000" opacity="0.59"/>
<rect x="85.2" y="528.8" width="1" height="28.2" fill="#000" opacity="0.65"/>
<rect x="86.2" y="528.8" width="1" height="28.2" fill="#000" opacity="0.35"/>
<rect x="87.2" y="528.8" width="1" height="28.2" fill="#000" opacity="0.87"/>
<rect x="88.2" y="528.8" width="1" height="28.2" fill="#000" opacity="0.81"/>
<rect x="89.2" y="528.8" width="1" height="28.2" fill="#000" opacity="0.9"/>
<rect x="90.2" y="528.8" width="1" height="28.2" fill="#000" opacity="0.52"/>
<rect x="91.2" y="528.8" width="1" height="28.2" fill="#000" opacity="0.8"/>
<rect x="93.2" y="528.8" width="1" height="28.2" fill="#000" opacity="0.77"/>
<rect x="94.2" y="528.8" width="1" height="28.2" fill="#000" opacity="0.6"/>
<rect x="95.2" y="528.8" width="1" height="28.2" fill="#000" opacity="0.15"/>
<rect x="97.2" y="528.8" width="1" height="28.2" fill="#000" opacity="0.49"/>
<rect x="98.2" y="528.8" width="1" height="28.2" fill="#000" opacity="0.24"/>
<rect x="99.2" y="528.8" width="1" height="28.2" fill="#000" opacity="0.76"/>
<rect x="100.2" y="528.8" width="1" height="28.2" fill="#000" opacity="0.62"/>
<rect x="101.2" y="528.8" width="1" height="28.2" fill="#000" opacity="0.47"/>
<rect x="102.2" y="528.8" width="1" height="28.2" fill="#000" opacity="0.52"/>
<rect x="104.2" y="528.8" width="1" height="28.2" fill="#000" opacity="0.48"/>
<rect x="105.2" y="528.8" width="1" height="28.2" fill="#000" opacity="0.78"/>
<rect x="106.2" y="528.8" width="1" height="28.2" fill="#000" opacity="0.64"/>
<rect x="107.2" y="528.8" width="1" height="28.2" fill="#000" opacity="0.79"/>
<rect x="108.2" y="528.8" width="1" height="28.2" fill="#000" opacity="0.48"/>
<rect x="109.2" y="528.8" width="1" height="28.2" fill="#000" opacity="0.52"/>
<rect x="110.2" y="528.8" width="1" height="28.2" fill="#000" opacity="0.93"/>
<rect x="112" y="528.8" width="1" height="28.2" fill="#000" opacity="0.5"/>
<rect x="114" y="528.8" width="1" height="28.2" fill="#000" opacity="0.7"/>
<rect x="116" y="528.8" width="1" height="28.2" fill="#000" opacity="0.3"/>
<rect x="118" y="528.8" width="1" height="28.2" fill="#000" opacity="0.6"/>
<rect x="120" y="528.8" width="1" height="28.2" fill="#000" opacity="0.45"/>
<rect x="122" y="528.8" width="1" height="28.2" fill="#000" opacity="0.8"/>
<rect x="124" y="528.8" width="1" height="28.2" fill="#000" opacity="0.3"/>
<rect x="127" y="528.8" width="1" height="28.2" fill="#000" opacity="0.6"/>
<rect x="129" y="528.8" width="1" height="28.2" fill="#000" opacity="0.4"/>
<rect x="131" y="528.8" width="1" height="28.2" fill="#000" opacity="0.7"/>
<rect x="134" y="528.8" width="1" height="28.2" fill="#000" opacity="0.35"/>
<rect x="137" y="528.8" width="1" height="28.2" fill="#000" opacity="0.5"/>
<rect x="140" y="528.8" width="1" height="28.2" fill="#000" opacity="0.6"/>
<rect x="142" y="528.8" width="1" height="28.2" fill="#000" opacity="0.3"/>
<rect x="144.5" y="528.8" width="1" height="28.2" fill="#000" opacity="0.3"/>
<rect x="146" y="528.8" width="1" height="28.2" fill="#000" opacity="0.25"/>
<rect x="152.2" y="528.8" width="1" height="28.2" fill="#000" opacity="0.6"/>
<rect x="156.2" y="528.8" width="1" height="28.2" fill="#000" opacity="0.55"/>
<rect x="157.5" y="528.8" width="1" height="28.2" fill="#000" opacity="0.4"/>
<rect x="164.4" y="528.8" width="1" height="28.2" fill="#000" opacity="0.6"/>
<rect x="165.5" y="528.8" width="1" height="28.2" fill="#000" opacity="0.45"/>
<rect x="169.5" y="528.8" width="1" height="28.2" fill="#000" opacity="0.5"/>
<rect x="170.8" y="528.8" width="1" height="28.2" fill="#000" opacity="0.35"/>
<rect x="174.6" y="528.8" width="1" height="28.2" fill="#000" opacity="0.5"/>
<rect x="180.3" y="528.8" width="1" height="28.2" fill="#000" opacity="0.95"/>
<rect x="195" y="528.8" width="1" height="28.2" fill="#000" opacity="0.5"/>
<rect x="196.3" y="528.8" width="1" height="28.2" fill="#000" opacity="0.4"/>
<rect x="199" y="528.8" width="1" height="28.2" fill="#000" opacity="0.55"/>
<rect x="203.5" y="528.8" width="1" height="28.2" fill="#000" opacity="0.55"/>
<rect x="206.3" y="528.8" width="1" height="28.2" fill="#000" opacity="0.35"/>
<rect x="211" y="528.8" width="1" height="28.2" fill="#000" opacity="0.35"/>
<rect x="215" y="528.8" width="1" height="28.2" fill="#000" opacity="0.5"/>
<rect x="216.7" y="528.8" width="1" height="28.2" fill="#000" opacity="0.6"/>
<rect x="221.9" y="528.8" width="1" height="28.2" fill="#000" opacity="0.45"/>
<rect x="228.8" y="528.8" width="1" height="28.2" fill="#000" opacity="0.55"/>
<rect x="230.2" y="528.8" width="1" height="28.2" fill="#000" opacity="0.45"/>
<rect x="232.3" y="528.8" width="1" height="28.2" fill="#000" opacity="0.3"/>
<rect x="236.9" y="528.8" width="1" height="28.2" fill="#000" opacity="0.35"/>
<rect x="239.8" y="528.8" width="1" height="28.2" fill="#000" opacity="0.5"/>
<rect x="44.6" y="557" width="1.3" height="7.4" fill="#8b1018"/>
<rect x="45.6" y="557" width="1.3" height="7.4" fill="#90141c"/>
<rect x="46.6" y="557" width="1.3" height="7.4" fill="#8d121a"/>
<rect x="47.6" y="557" width="1.3" height="7.4" fill="#972028"/>
<rect x="48.6" y="557" width="1.3" height="7.4" fill="#88121a"/>
<rect x="49.6" y="557" width="1.3" height="7.4" fill="#89131a"/>
<rect x="50.6" y="557" width="1.3" height="7.4" fill="#8e131c"/>
<rect x="51.6" y="557" width="1.3" height="7.4" fill="#9b252d"/>
<rect x="52.6" y="557" width="1.3" height="7.4" fill="#94161f"/>
<rect x="53.6" y="557" width="1.3" height="7.4" fill="#9a1e27"/>
<rect x="54.6" y="557" width="1.3" height="7.4" fill="#9c232b"/>
<rect x="55.6" y="557" width="1.3" height="7.4" fill="#8a151e"/>
<rect x="56.6" y="557" width="1.3" height="7.4" fill="#8a161f"/>
<rect x="57.6" y="557" width="1.3" height="7.4" fill="#a32e37"/>
<rect x="58.6" y="557" width="1.3" height="7.4" fill="#901720"/>
<rect x="59.6" y="557" width="1.3" height="7.4" fill="#991923"/>
<rect x="60.6" y="557" width="1.3" height="7.4" fill="#9f202a"/>
<rect x="61.6" y="557" width="1.3" height="7.4" fill="#a2252f"/>
<rect x="62.6" y="557" width="1.3" height="7.4" fill="#981b26"/>
<rect x="63.6" y="557" width="1.3" height="7.4" fill="#a01f2a"/>
<rect x="64.6" y="557" width="1.3" height="7.4" fill="#9a1c27"/>
<rect x="65.6" y="557" width="1.3" height="7.4" fill="#9c1d29"/>
<rect x="66.6" y="557" width="1.3" height="7.4" fill="#a92f3b"/>
<rect x="67.6" y="557" width="1.3" height="7.4" fill="#991d2a"/>
<rect x="68.6" y="557" width="1.3" height="7.4" fill="#931d29"/>
<rect x="69.6" y="557" width="1.3" height="7.4" fill="#951e2a"/>
<rect x="70.6" y="557" width="1.3" height="7.4" fill="#a1202e"/>
<rect x="71.6" y="557" width="1.3" height="7.4" fill="#ae3643"/>
<rect x="72.6" y="557" width="1.3" height="7.4" fill="#af3945"/>
<rect x="73.6" y="557" width="1.3" height="7.4" fill="#ad3341"/>
<rect x="74.6" y="557" width="1.3" height="7.4" fill="#99212f"/>
<rect x="75.6" y="557" width="1.3" height="7.4" fill="#ad2f3e"/>
<rect x="76.6" y="557" width="1.3" height="7.4" fill="#ad2e3e"/>
<rect x="77.6" y="557" width="1.3" height="7.4" fill="#9e2736"/>
<rect x="78.6" y="557" width="1.3" height="7.4" fill="#b13445"/>
<rect x="79.6" y="557" width="1.3" height="7.4" fill="#ad2e40"/>
<rect x="80.6" y="557" width="1.3" height="7.4" fill="#b23345"/>
<rect x="81.6" y="557" width="1.3" height="7.4" fill="#b94456"/>
<rect x="82.6" y="557" width="1.3" height="7.4" fill="#b03348"/>
<rect x="83.6" y="557" width="1.3" height="7.4" fill="#a93247"/>
<rect x="84.6" y="557" width="1.3" height="7.4" fill="#bb465a"/>
<rect x="85.6" y="557" width="1.3" height="7.4" fill="#bb455a"/>
<rect x="86.6" y="557" width="1.3" height="7.4" fill="#b93e55"/>
<rect x="87.6" y="557" width="1.3" height="7.4" fill="#bf4f63"/>
<rect x="88.6" y="557" width="1.3" height="7.4" fill="#b93e55"/>
<rect x="89.6" y="557" width="1.3" height="7.4" fill="#ae3b51"/>
<rect x="90.6" y="557" width="1.3" height="7.4" fill="#b53f56"/>
<rect x="91.6" y="557" width="1.3" height="7.4" fill="#bb4259"/>
<rect x="92.6" y="557" width="1.3" height="7.4" fill="#af3f55"/>
<rect x="93.6" y="557" width="1.3" height="7.4" fill="#c25269"/>
<rect x="94.6" y="557" width="1.3" height="7.4" fill="#bb465f"/>
<rect x="95.6" y="557" width="1.3" height="7.4" fill="#c14d65"/>
<rect x="96.6" y="557" width="1.3" height="7.4" fill="#bc4961"/>
<rect x="97.6" y="557" width="1.3" height="7.4" fill="#c55971"/>
<rect x="98.6" y="557" width="1.3" height="7.4" fill="#b64960"/>
<rect x="99.6" y="557" width="1.3" height="7.4" fill="#c75c74"/>
<rect x="100.6" y="557" width="1.3" height="7.4" fill="#c85e76"/>
<rect x="101.6" y="557" width="1.3" height="7.4" fill="#b95168"/>
<rect x="102.6" y="557" width="1.3" height="7.4" fill="#b55268"/>
<rect x="103.6" y="557" width="1.3" height="7.4" fill="#ca6077"/>
<rect x="104.6" y="557" width="1.3" height="7.4" fill="#cb647a"/>
<rect x="105.6" y="557" width="1.3" height="7.4" fill="#cf6d83"/>
<rect x="106.6" y="557" width="1.3" height="7.4" fill="#cf7085"/>
<rect x="107.6" y="557" width="1.3" height="7.4" fill="#ca6a7f"/>
<rect x="108.6" y="557" width="1.3" height="7.4" fill="#d47a8d"/>
<rect x="109.6" y="557" width="1.3" height="7.4" fill="#d68194"/>
<rect x="110.6" y="557" width="1.3" height="7.4" fill="#da95ac"/>
<rect x="111.6" y="557" width="1.3" height="7.4" fill="#e2b3cc"/>
<rect x="112.6" y="557" width="1.3" height="7.4" fill="#d9aac3"/>
<rect x="113.6" y="557" width="1.3" height="7.4" fill="#d3a5bd"/>
<rect x="114.6" y="557" width="1.3" height="7.4" fill="#d5a7c0"/>
<rect x="115.6" y="557" width="1.3" height="7.4" fill="#e1b2cc"/>
<rect x="116.6" y="557" width="1.3" height="7.4" fill="#e2b5ce"/>
<rect x="117.6" y="557" width="1.3" height="7.4" fill="#e2b5ce"/>
<rect x="118.6" y="557" width="1.3" height="7.4" fill="#e5bcd3"/>
<rect x="119.6" y="557" width="1.3" height="7.4" fill="#d8aec6"/>
<rect x="120.6" y="557" width="1.3" height="7.4" fill="#e3b9d2"/>
<rect x="121.6" y="557" width="1.3" height="7.4" fill="#e4bcd3"/>
<rect x="122.6" y="557" width="1.3" height="7.4" fill="#e5c0d6"/>
<rect x="123.6" y="557" width="1.3" height="7.4" fill="#e3bcd3"/>
<rect x="124.6" y="557" width="1.3" height="7.4" fill="#dfb9d0"/>
<rect x="125.6" y="557" width="1.3" height="7.4" fill="#e5bed5"/>
<rect x="126.6" y="557" width="1.3" height="7.4" fill="#d3b0c5"/>
<rect x="127.6" y="557" width="1.3" height="7.4" fill="#dcb8cf"/>
<rect x="128.6" y="557" width="1.3" height="7.4" fill="#e5c3d9"/>
<rect x="129.6" y="557" width="1.3" height="7.4" fill="#e4c0d7"/>
<rect x="130.6" y="557" width="1.3" height="7.4" fill="#d2b2c7"/>
<rect x="131.6" y="557" width="1.3" height="7.4" fill="#e4c2d8"/>
<rect x="132.6" y="557" width="1.3" height="7.4" fill="#e1c0d6"/>
<rect x="133.6" y="557" width="1.3" height="7.4" fill="#e8cade"/>
<rect x="134.6" y="557" width="1.3" height="7.4" fill="#e5c8de"/>
<rect x="135.6" y="557" width="1.3" height="7.4" fill="#dcdaf0"/>
<rect x="136.6" y="557" width="1.3" height="7.4" fill="#dddbf0"/>
<rect x="137.6" y="557" width="1.3" height="7.4" fill="#dcdaf0"/>
<rect x="138.6" y="557" width="1.3" height="7.4" fill="#d7d5eb"/>
<rect x="139.6" y="557" width="1.3" height="7.4" fill="#d9d6ed"/>
<rect x="140.6" y="557" width="1.3" height="7.4" fill="#dad8ef"/>
<rect x="141.6" y="557" width="1.3" height="7.4" fill="#dcdaf0"/>
<rect x="142.6" y="557" width="1.3" height="7.4" fill="#dad7ef"/>
<rect x="143.6" y="557" width="1.3" height="7.4" fill="#c5c3d9"/>
<rect x="144.6" y="557" width="1.3" height="7.4" fill="#dad7ee"/>
<rect x="145.6" y="557" width="1.3" height="7.4" fill="#dddaf0"/>
<rect x="146.6" y="557" width="1.3" height="7.4" fill="#dcd9f0"/>
<rect x="147.6" y="557" width="1.3" height="7.4" fill="#d6d3ec"/>
<rect x="148.6" y="557" width="1.3" height="7.4" fill="#dcd9f0"/>
<rect x="149.6" y="557" width="1.3" height="7.4" fill="#dad8ef"/>
<rect x="150.6" y="557" width="1.3" height="7.4" fill="#dad7ee"/>
<rect x="151.6" y="557" width="1.3" height="7.4" fill="#d7d3ed"/>
<rect x="152.6" y="557" width="1.3" height="7.4" fill="#c1bed6"/>
<rect x="153.6" y="557" width="1.3" height="7.4" fill="#d6d2ed"/>
<rect x="154.6" y="557" width="1.3" height="7.4" fill="#d6d2ed"/>
<rect x="155.6" y="557" width="1.3" height="7.4" fill="#d6d3ed"/>
<rect x="156.6" y="557" width="1.3" height="7.4" fill="#d5d1ec"/>
<rect x="157.6" y="557" width="1.3" height="7.4" fill="#d5d1ec"/>
<rect x="158.6" y="557" width="1.3" height="7.4" fill="#cac7e1"/>
<rect x="159.6" y="557" width="1.3" height="7.4" fill="#c3bfd9"/>
<rect x="160.6" y="557" width="1.3" height="7.4" fill="#cbc7e3"/>
<rect x="161.6" y="557" width="1.3" height="7.4" fill="#d4d0eb"/>
<rect x="162.6" y="557" width="1.3" height="7.4" fill="#ccc8e4"/>
<rect x="163.6" y="557" width="1.3" height="7.4" fill="#c0bcd7"/>
<rect x="164.6" y="557" width="1.3" height="7.4" fill="#d4d0eb"/>
<rect x="165.6" y="557" width="1.3" height="7.4" fill="#d2cfeb"/>
<rect x="166.6" y="557" width="1.3" height="7.4" fill="#cac6e3"/>
<rect x="167.6" y="557" width="1.3" height="7.4" fill="#c7c3e0"/>
<rect x="168.6" y="557" width="1.3" height="7.4" fill="#c8c4e2"/>
<rect x="169.6" y="557" width="1.3" height="7.4" fill="#c9c5e4"/>
<rect x="170.6" y="557" width="1.3" height="7.4" fill="#bfbcd9"/>
<rect x="171.6" y="557" width="1.3" height="7.4" fill="#ccc8e7"/>
<rect x="172.6" y="557" width="1.3" height="7.4" fill="#bfbbd9"/>
<rect x="173.6" y="557" width="1.3" height="7.4" fill="#b8b5d2"/>
<rect x="174.6" y="557" width="1.3" height="7.4" fill="#cbc7e6"/>
<rect x="175.6" y="557" width="1.3" height="7.4" fill="#bbb7d5"/>
<rect x="176.6" y="557" width="1.3" height="7.4" fill="#c0bcdb"/>
<rect x="177.6" y="557" width="1.3" height="7.4" fill="#b8b5d3"/>
<rect x="178.6" y="557" width="1.3" height="7.4" fill="#ccc8e7"/>
<rect x="179.6" y="557" width="1.3" height="7.4" fill="#b7b3d1"/>
<rect x="180.6" y="557" width="1.3" height="7.4" fill="#b9b5d6"/>
<rect x="181.6" y="557" width="1.3" height="7.4" fill="#948fbe"/>
<rect x="182.6" y="557" width="1.3" height="7.4" fill="#7974af"/>
<rect x="183.6" y="557" width="1.3" height="7.4" fill="#8a84c4"/>
<rect x="184.6" y="557" width="1.3" height="7.4" fill="#7f79b9"/>
<rect x="185.6" y="557" width="1.3" height="7.4" fill="#8b85c4"/>
<rect x="186.6" y="557" width="1.3" height="7.4" fill="#7f78bb"/>
<rect x="187.6" y="557" width="1.3" height="7.4" fill="#746fae"/>
<rect x="188.6" y="557" width="1.3" height="7.4" fill="#867fc1"/>
<rect x="189.6" y="557" width="1.3" height="7.4" fill="#817abe"/>
<rect x="190.6" y="557" width="1.3" height="7.4" fill="#8781c1"/>
<rect x="191.6" y="557" width="1.3" height="7.4" fill="#827cbf"/>
<rect x="192.6" y="557" width="1.3" height="7.4" fill="#817abe"/>
<rect x="193.6" y="557" width="1.3" height="7.4" fill="#837cbf"/>
<rect x="194.6" y="557" width="1.3" height="7.4" fill="#6a64a6"/>
<rect x="195.6" y="557" width="1.3" height="7.4" fill="#6c65a9"/>
<rect x="196.6" y="557" width="1.3" height="7.4" fill="#756db7"/>
<rect x="197.6" y="557" width="1.3" height="7.4" fill="#6c66ad"/>
<rect x="198.6" y="557" width="1.3" height="7.4" fill="#6d65ae"/>
<rect x="199.6" y="557" width="1.3" height="7.4" fill="#6f68b3"/>
<rect x="200.6" y="557" width="1.3" height="7.4" fill="#6f67b3"/>
<rect x="201.6" y="557" width="1.3" height="7.4" fill="#6760ab"/>
<rect x="202.6" y="557" width="1.3" height="7.4" fill="#6860ae"/>
<rect x="203.6" y="557" width="1.3" height="7.4" fill="#6d66b2"/>
<rect x="204.6" y="557" width="1.3" height="7.4" fill="#6860af"/>
<rect x="205.6" y="557" width="1.3" height="7.4" fill="#5f57a7"/>
<rect x="206.6" y="557" width="1.3" height="7.4" fill="#5d55a6"/>
<rect x="207.6" y="557" width="1.3" height="7.4" fill="#665fae"/>
<rect x="208.6" y="557" width="1.3" height="7.4" fill="#5850a3"/>
<rect x="209.6" y="557" width="1.3" height="7.4" fill="#514a9a"/>
<rect x="210.6" y="557" width="1.3" height="7.4" fill="#514999"/>
<rect x="211.6" y="557" width="1.3" height="7.4" fill="#534ca0"/>
<rect x="212.6" y="557" width="1.3" height="7.4" fill="#655dac"/>
<rect x="213.6" y="557" width="1.3" height="7.4" fill="#5850a5"/>
<rect x="214.6" y="557" width="1.3" height="7.4" fill="#625bab"/>
<rect x="215.6" y="557" width="1.3" height="7.4" fill="#625bab"/>
<rect x="216.6" y="557" width="1.3" height="7.4" fill="#5b54a7"/>
<rect x="217.6" y="557" width="1.3" height="7.4" fill="#534ca3"/>
<rect x="218.6" y="557" width="1.3" height="7.4" fill="#4d4599"/>
<rect x="219.6" y="557" width="1.3" height="7.4" fill="#4e469d"/>
<rect x="220.6" y="557" width="1.3" height="7.4" fill="#5850a4"/>
<rect x="221.6" y="557" width="1.3" height="7.4" fill="#4c449a"/>
<rect x="222.6" y="557" width="1.3" height="7.4" fill="#4e469f"/>
<rect x="223.6" y="557" width="1.3" height="7.4" fill="#4d459f"/>
<rect x="224.6" y="557" width="1.3" height="7.4" fill="#554ea3"/>
<rect x="225.6" y="557" width="1.3" height="7.4" fill="#4d459f"/>
<rect x="226.6" y="557" width="1.3" height="7.4" fill="#46419c"/>
<rect x="227.6" y="557" width="1.3" height="7.4" fill="#34328d"/>
<rect x="228.6" y="557" width="1.3" height="7.4" fill="#373593"/>
<rect x="229.6" y="557" width="1.3" height="7.4" fill="#383593"/>
<rect x="230.6" y="557" width="1.3" height="7.4" fill="#363493"/>
<rect x="231.6" y="557" width="1.3" height="7.4" fill="#363491"/>
<rect x="232.6" y="557" width="1.3" height="7.4" fill="#33308b"/>
<rect x="233.6" y="557" width="1.3" height="7.4" fill="#33308a"/>
<rect x="234.6" y="557" width="1.3" height="7.4" fill="#322e86"/>
<rect x="235.6" y="557" width="1.3" height="7.4" fill="#393590"/>
<rect x="236.6" y="557" width="1.3" height="7.4" fill="#312e85"/>
<rect x="237.6" y="557" width="1.3" height="7.4" fill="#2f2c80"/>
<rect x="238.6" y="557" width="1.3" height="7.4" fill="#302a7e"/>
<rect x="239.6" y="557" width="1.3" height="7.4" fill="#372882"/>
<rect x="240.6" y="557" width="1.3" height="7.4" fill="#4b3d92"/>
<rect x="241.6" y="557" width="1.3" height="7.4" fill="#36277f"/>
<rect x="242.6" y="557" width="1.3" height="7.4" fill="#36277f"/>
<rect x="243.6" y="557" width="1.1" height="7.4" fill="#4d3f94"/>
<polyline points="44.8,523 46.2,511 47.7,504.2 49.2,496.5 50.6,482.1 51.9,475.4 53.5,467.7 55,461.9 56.65,460.59 58.3,459 59.75,457.37 61.2,455.2 62.6,454.58 64,453.3 65.3,453.13 66.6,452.24 67.9,451.3 69.8,446.5 71.4,446.04 73,444.11 74.6,443.7 75.9,444.29 77.2,445.46 78.5,445.6 79.77,445.43 81.03,445.38 82.3,444.6 83.58,443.78 84.87,443.8 86.15,443.17 87.43,443.12 88.72,442.77 90,442.3 91.28,441.99 92.57,442.45 93.85,442.75 95.13,443.7 96.42,443.76 97.7,443.7 98.93,443.95 100.16,445.29 101.39,445.18 102.61,446.35 103.84,446.42 105.07,447.19 106.3,448.1 107.62,448.96 108.95,449.24 110.28,449.89 111.6,450.97 112.92,451.56 114.25,451.88 115.58,452.91 116.9,453.3 118.21,454.2 119.52,455.16 120.83,455.77 122.14,457.07 123.45,457.81 124.76,458.84 126.07,459.68 127.38,460.23 128.69,461.14 130,462.1 131.2,462.81 132.4,463.69 133.6,464.54 134.8,465.57 136,466.63 137.2,467.19 138.4,468.46 139.6,469.16 140.8,470.04 142,471.22 143.2,471.92 144.4,472.73 145.6,473.71 146.8,474.73 148,475.26 149.2,476.67 150.4,477.3 151.61,477.83 152.82,479.04 154.03,479.89 155.23,480.23 156.44,481.46 157.65,482.03 158.86,482.94 160.07,483.43 161.28,484.25 162.48,485.12 163.69,486.35 164.9,486.9 166.22,487.62 167.54,488.82 168.86,489.81 170.18,490.71 171.5,491.26 172.82,492.16 174.14,493.14 175.46,494.17 176.78,494.69 178.1,495.8 179.9,496.64 181.7,497.2 182.9,498.19 184.1,499.04 185.3,499.4 186.5,500.73 187.7,501.07 188.9,502.03 190.1,503 191.3,503.99 192.5,504.49 193.7,505.4 194.9,506.1 196.1,506.36 197.3,506.8 198.74,507.37 200.18,508.06 201.62,508.66 203.06,509.28 204.5,510.2 205.87,510.69 207.24,511.68 208.61,512.54 209.99,512.75 211.36,513.38 212.73,514.59 214.1,515 215.9,515.37 217.7,515.7 218.91,516.16 220.13,516.58 221.34,517.3 222.56,517.94 223.77,518.25 224.99,518.74 226.2,519.3 227.4,518.75 228.6,518.93 229.8,518.14 231,518.1 232.2,519 233.4,520.09 234.6,520.59 235.8,521.7 237.4,521.2 239,520.69 240.6,519.8 242.4,521.47 244.2,523" fill="none" stroke="#4ea62c" stroke-width="1.5" stroke-linejoin="round"/>
<rect x="44.6" y="438" width="209.8" height="185.9" fill="none" stroke="#111" stroke-width="1.2"/>
<text x="38.6" y="447.8" font-size="4.9" text-anchor="end" textLength="6.27" lengthAdjust="spacingAndGlyphs" fill="#333" stroke="#333" stroke-width="0.12">0.5</text>
<text x="38.6" y="463.1" font-size="4.9" text-anchor="end" textLength="6.27" lengthAdjust="spacingAndGlyphs" fill="#333" stroke="#333" stroke-width="0.12">0.4</text>
<text x="38.6" y="478.4" font-size="4.9" text-anchor="end" textLength="6.27" lengthAdjust="spacingAndGlyphs" fill="#333" stroke="#333" stroke-width="0.12">0.3</text>
<text x="38.6" y="493.7" font-size="4.9" text-anchor="end" textLength="6.27" lengthAdjust="spacingAndGlyphs" fill="#333" stroke="#333" stroke-width="0.12">0.2</text>
<text x="38.6" y="509" font-size="4.9" text-anchor="end" textLength="6.27" lengthAdjust="spacingAndGlyphs" fill="#333" stroke="#333" stroke-width="0.12">0.1</text>
<text x="38.6" y="524.3" font-size="4.9" text-anchor="end" textLength="6.27" lengthAdjust="spacingAndGlyphs" fill="#333" stroke="#333" stroke-width="0.12">0.0</text>
<text x="38.6" y="573.6" font-size="4.9" text-anchor="end" textLength="8.77" lengthAdjust="spacingAndGlyphs" fill="#333" stroke="#333" stroke-width="0.12">1.00</text>
<text x="38.6" y="581.78" font-size="4.9" text-anchor="end" textLength="8.77" lengthAdjust="spacingAndGlyphs" fill="#333" stroke="#333" stroke-width="0.12">0.75</text>
<text x="38.6" y="589.95" font-size="4.9" text-anchor="end" textLength="8.77" lengthAdjust="spacingAndGlyphs" fill="#333" stroke="#333" stroke-width="0.12">0.50</text>
<text x="38.6" y="598.13" font-size="4.9" text-anchor="end" textLength="8.77" lengthAdjust="spacingAndGlyphs" fill="#333" stroke="#333" stroke-width="0.12">0.25</text>
<text x="38.6" y="606.3" font-size="4.9" text-anchor="end" textLength="8.77" lengthAdjust="spacingAndGlyphs" fill="#333" stroke="#333" stroke-width="0.12">0.00</text>
<text x="38.6" y="614.48" font-size="4.9" text-anchor="end" textLength="10.27" lengthAdjust="spacingAndGlyphs" fill="#333" stroke="#333" stroke-width="0.12">-0.25</text>
<text x="38.6" y="622.65" font-size="4.9" text-anchor="end" textLength="10.27" lengthAdjust="spacingAndGlyphs" fill="#333" stroke="#333" stroke-width="0.12">-0.50</text>
<text x="44.6" y="634.8" font-size="5.2" text-anchor="middle" textLength="2.66" lengthAdjust="spacingAndGlyphs" fill="#333" stroke="#333" stroke-width="0.13">0</text>
<text x="65.78" y="634.8" font-size="5.2" text-anchor="middle" textLength="11.97" lengthAdjust="spacingAndGlyphs" fill="#333" stroke="#333" stroke-width="0.13">2,500</text>
<text x="86.96" y="634.8" font-size="5.2" text-anchor="middle" textLength="11.97" lengthAdjust="spacingAndGlyphs" fill="#333" stroke="#333" stroke-width="0.13">5,000</text>
<text x="108.14" y="634.8" font-size="5.2" text-anchor="middle" textLength="11.97" lengthAdjust="spacingAndGlyphs" fill="#333" stroke="#333" stroke-width="0.13">7,500</text>
<text x="129.32" y="634.8" font-size="5.2" text-anchor="middle" textLength="14.63" lengthAdjust="spacingAndGlyphs" fill="#333" stroke="#333" stroke-width="0.13">10,000</text>
<text x="150.5" y="634.8" font-size="5.2" text-anchor="middle" textLength="14.63" lengthAdjust="spacingAndGlyphs" fill="#333" stroke="#333" stroke-width="0.13">12,500</text>
<text x="171.68" y="634.8" font-size="5.2" text-anchor="middle" textLength="14.63" lengthAdjust="spacingAndGlyphs" fill="#333" stroke="#333" stroke-width="0.13">15,000</text>
<text x="192.86" y="634.8" font-size="5.2" text-anchor="middle" textLength="14.63" lengthAdjust="spacingAndGlyphs" fill="#333" stroke="#333" stroke-width="0.13">17,500</text>
<text x="214.04" y="634.8" font-size="5.2" text-anchor="middle" textLength="14.63" lengthAdjust="spacingAndGlyphs" fill="#333" stroke="#333" stroke-width="0.13">20,000</text>
<text x="235.22" y="634.8" font-size="5.2" text-anchor="middle" textLength="14.63" lengthAdjust="spacingAndGlyphs" fill="#333" stroke="#333" stroke-width="0.13">22,500</text>
<path d="M41.6 446.2H44.6M41.6 461.5H44.6M41.6 476.8H44.6M41.6 492.1H44.6M41.6 507.4H44.6M41.6 522.7H44.6M41.6 572H44.6M41.6 580.18H44.6M41.6 588.35H44.6M41.6 596.53H44.6M41.6 604.7H44.6M41.6 612.88H44.6M41.6 621.05H44.6M44.6 623.9V626.9M65.78 623.9V626.9M86.96 623.9V626.9M108.14 623.9V626.9M129.32 623.9V626.9M150.5 623.9V626.9M171.68 623.9V626.9M192.86 623.9V626.9M214.04 623.9V626.9M235.22 623.9V626.9" stroke="#111" stroke-width="1" fill="none"/>
<text x="149.5" y="424" font-size="6.8" text-anchor="middle" textLength="52.8" lengthAdjust="spacingAndGlyphs" stroke="#231f20" stroke-width="0.17">Enrichment plot:</text>
<text x="149.4" y="432.4" font-size="6.8" text-anchor="middle" textLength="127.6" lengthAdjust="spacingAndGlyphs" stroke="#231f20" stroke-width="0.17">GSE25087_TREG_VS_TCONV_ADULT_UP</text>
<text x="186.1" y="467.3" font-size="5" textLength="23.65" lengthAdjust="spacingAndGlyphs" fill="#222" stroke="#222" stroke-width="0.12">NES = 2.06</text>
<text x="186.1" y="473.6" font-size="5" textLength="19.74" lengthAdjust="spacingAndGlyphs" fill="#222" stroke="#222" stroke-width="0.12">P &lt; 0.001</text>
<text x="186.1" y="479.9" font-size="5" textLength="26.21" lengthAdjust="spacingAndGlyphs" fill="#222" stroke="#222" stroke-width="0.12">FDR = 0.009</text>
<text x="66.7" y="574.8" font-size="7.3" textLength="165.8" lengthAdjust="spacingAndGlyphs" fill="#b81e48" stroke="#b81e48" stroke-width="0.18">High IL33 expression (n = 312) (positively correlated)</text>
<text x="78.3" y="619.8" font-size="7.3" textLength="142.2" lengthAdjust="spacingAndGlyphs" fill="#37549c" stroke="#37549c" stroke-width="0.18">Low IL33 expression (n = 312) (negatively correlated)</text>
<text x="123.3" y="597.7" font-size="6.7" textLength="52.5" lengthAdjust="spacingAndGlyphs" stroke="#231f20" stroke-width="0.17">Zero cross at 10896</text>
<text x="149.5" y="645.4" font-size="7.4" text-anchor="middle" textLength="75.4" lengthAdjust="spacingAndGlyphs" stroke="#231f20" stroke-width="0.19">Rank in ordered dataset</text>
<text transform="translate(25 487.8) rotate(-90)" text-anchor="middle" font-size="7.9" textLength="79" lengthAdjust="spacingAndGlyphs" stroke="#231f20" stroke-width="0.2">Enrichment score (ES)</text>
<text transform="translate(21.2 589) rotate(-90)" text-anchor="middle" font-size="8.6" textLength="120" lengthAdjust="spacingAndGlyphs" stroke="#231f20" stroke-width="0.21">Ranked list metric (Signal2Noise)</text>
<path d="M50 657.8H60.8" stroke="#6dbd45" stroke-width="1.3"/>
<path d="M123.4 657.8H134.4" stroke="#111" stroke-width="1.3"/>
<path d="M157.2 654.4H168.2" stroke="#bbb" stroke-width="1.1"/>
<path d="M169.3 657.8H180.5" stroke="#bbb" stroke-width="1.1"/>
<text x="63.8" y="659.9" font-size="6.3" textLength="50.8" lengthAdjust="spacingAndGlyphs" stroke="#231f20" stroke-width="0.16">Enrichment profile</text>
<text x="137.5" y="659.9" font-size="6.3" textLength="10.8" lengthAdjust="spacingAndGlyphs" stroke="#231f20" stroke-width="0.16">Hits</text>
<text x="183.7" y="659.9" font-size="6.3" textLength="59.6" lengthAdjust="spacingAndGlyphs" stroke="#231f20" stroke-width="0.16">Ranking metric scores</text>
<path d="M0.5 0V669M0 0.5H520" stroke="#000" stroke-width="1.2"/>
<path d="M519.25 0V669" stroke="#000" stroke-width="1.5"/><path d="M0 668H520" stroke="#000" stroke-width="2"/>
</svg></body></html>
